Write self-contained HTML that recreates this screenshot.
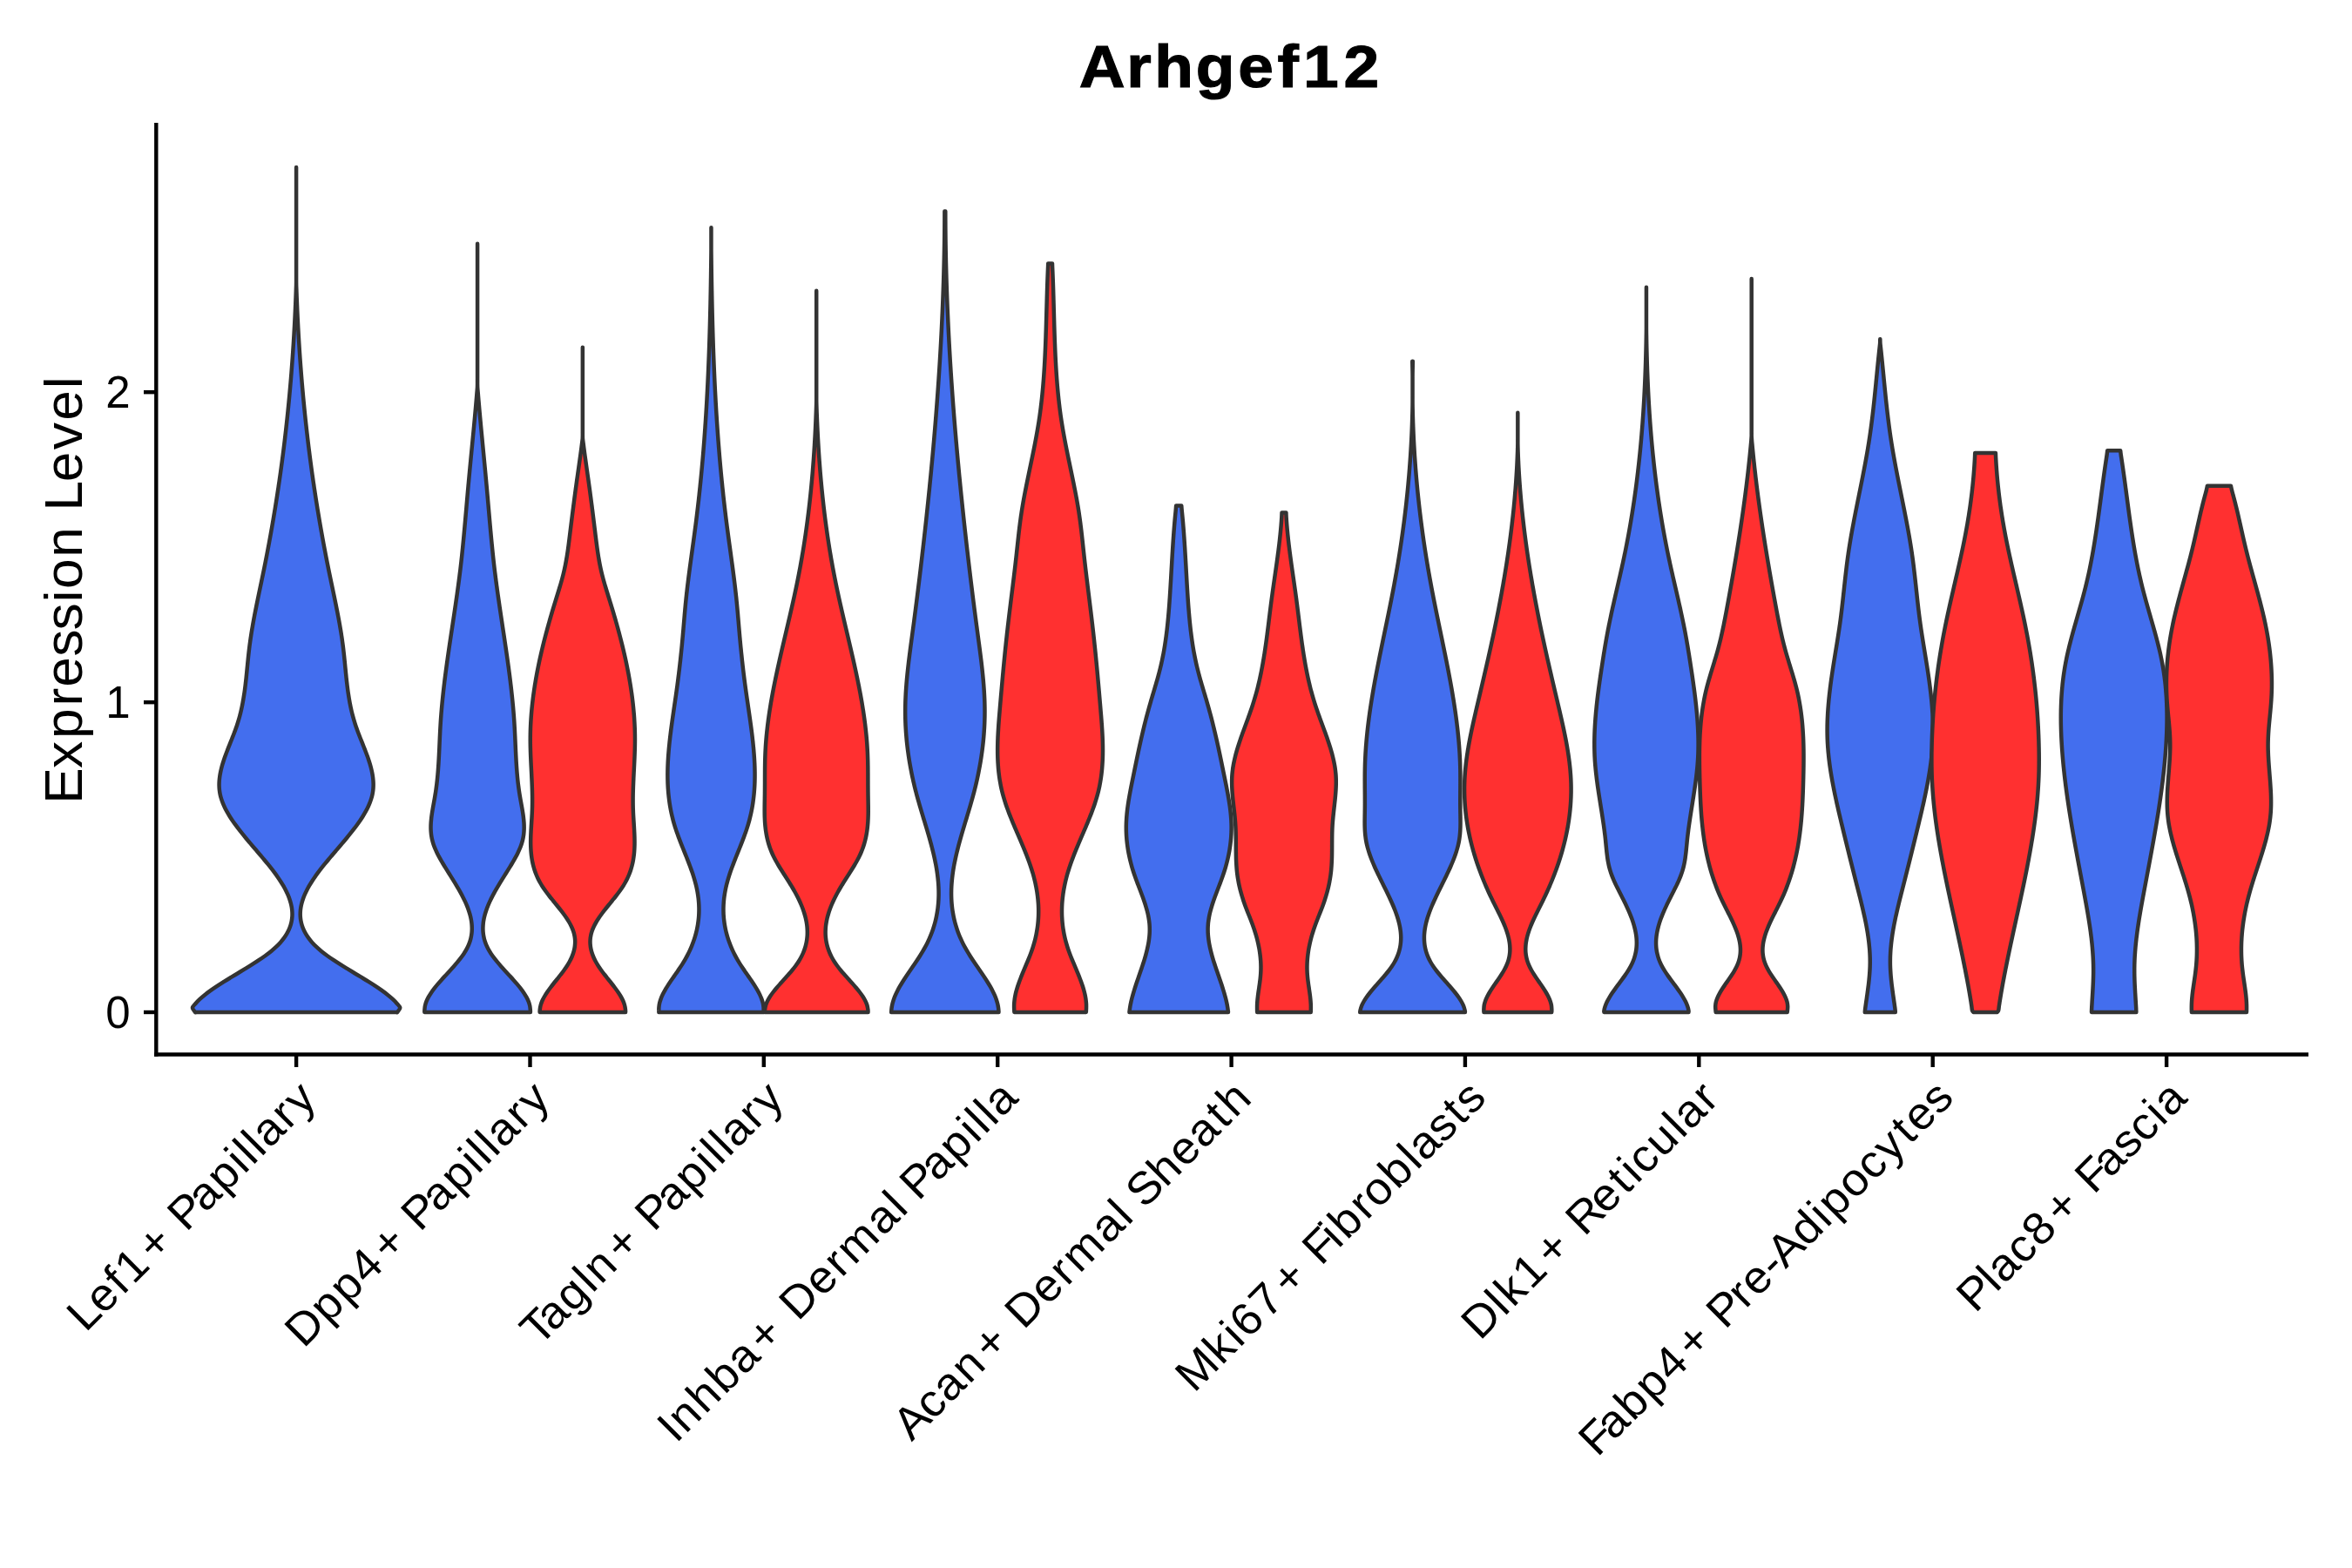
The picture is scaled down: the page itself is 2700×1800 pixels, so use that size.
<!DOCTYPE html><html><head><meta charset="utf-8"><style>html,body{margin:0;padding:0;background:#fff;}svg{display:block;}</style></head><body>
<svg xmlns="http://www.w3.org/2000/svg" width="2700" height="1800" viewBox="0 0 2700 1800">
<rect width="2700" height="1800" fill="#ffffff"/>
<g stroke="#333333" stroke-width="4.5" stroke-linejoin="round">
<path fill="#436EEE" d="M340.10 191.95 C340.10 192.78 340.10 195.28 340.10 196.95 C340.10 198.62 340.10 200.28 340.10 201.95 C340.10 203.62 340.10 205.28 340.10 206.95 C340.10 208.62 340.10 210.28 340.10 211.95 C340.10 213.62 340.10 215.28 340.10 216.95 C340.10 218.62 340.10 220.28 340.10 221.95 C340.10 223.62 340.10 225.28 340.10 226.95 C340.10 228.62 340.10 230.28 340.10 231.95 C340.10 233.62 340.10 235.28 340.10 236.95 C340.10 238.62 340.10 240.28 340.10 241.95 C340.10 243.62 340.10 245.28 340.10 246.95 C340.10 248.62 340.10 250.28 340.10 251.95 C340.10 253.62 340.10 255.28 340.10 256.95 C340.10 258.62 340.10 260.28 340.10 261.95 C340.10 263.62 340.10 265.28 340.10 266.95 C340.10 268.62 340.10 270.28 340.10 271.95 C340.10 273.62 340.10 275.28 340.10 276.95 C340.10 278.62 340.10 280.28 340.10 281.95 C340.10 283.62 340.10 285.28 340.10 286.95 C340.10 288.62 340.10 290.28 340.10 291.95 C340.10 293.62 340.10 295.28 340.10 296.95 C340.10 298.62 340.10 300.28 340.10 301.95 C340.10 303.62 340.10 305.28 340.10 306.95 C340.10 308.62 340.10 310.28 340.10 311.95 C340.10 313.62 340.10 315.28 340.10 316.95 C340.10 318.62 340.11 320.28 340.10 321.95 C340.09 323.62 340.08 325.28 340.05 326.95 C340.01 328.62 339.94 330.28 339.88 331.95 C339.83 333.62 339.77 335.28 339.71 336.95 C339.65 338.62 339.59 340.28 339.53 341.95 C339.46 343.62 339.40 345.28 339.33 346.95 C339.26 348.62 339.20 350.28 339.12 351.95 C339.05 353.62 338.98 355.28 338.91 356.95 C338.83 358.62 338.75 360.28 338.67 361.95 C338.60 363.62 338.52 365.28 338.43 366.95 C338.35 368.62 338.26 370.28 338.18 371.95 C338.09 373.62 338.00 375.28 337.91 376.95 C337.82 378.62 337.73 380.28 337.63 381.95 C337.54 383.62 337.44 385.28 337.34 386.95 C337.24 388.62 337.14 390.28 337.04 391.95 C336.94 393.62 336.83 395.28 336.73 396.95 C336.62 398.62 336.51 400.28 336.40 401.95 C336.29 403.62 336.18 405.28 336.06 406.95 C335.95 408.62 335.83 410.28 335.71 411.95 C335.59 413.62 335.47 415.28 335.35 416.95 C335.22 418.62 335.10 420.28 334.97 421.95 C334.84 423.62 334.71 425.28 334.58 426.95 C334.45 428.62 334.32 430.28 334.18 431.95 C334.05 433.62 333.91 435.28 333.77 436.95 C333.63 438.62 333.49 440.28 333.34 441.95 C333.20 443.62 333.05 445.28 332.90 446.95 C332.76 448.62 332.61 450.28 332.45 451.95 C332.30 453.62 332.15 455.28 331.99 456.95 C331.83 458.62 331.67 460.28 331.51 461.95 C331.35 463.62 331.19 465.28 331.02 466.95 C330.86 468.62 330.69 470.28 330.52 471.95 C330.35 473.62 330.18 475.28 330.01 476.95 C329.83 478.62 329.66 480.28 329.48 481.95 C329.30 483.62 329.12 485.28 328.93 486.95 C328.75 488.62 328.57 490.28 328.38 491.95 C328.19 493.62 328.00 495.28 327.81 496.95 C327.62 498.62 327.43 500.28 327.23 501.95 C327.03 503.62 326.84 505.28 326.64 506.95 C326.44 508.62 326.23 510.28 326.03 511.95 C325.82 513.62 325.62 515.28 325.41 516.95 C325.20 518.62 324.99 520.28 324.77 521.95 C324.56 523.62 324.34 525.28 324.12 526.95 C323.90 528.62 323.68 530.28 323.46 531.95 C323.24 533.62 323.01 535.28 322.78 536.95 C322.56 538.62 322.33 540.28 322.10 541.95 C321.86 543.62 321.63 545.28 321.39 546.95 C321.15 548.62 320.92 550.28 320.67 551.95 C320.43 553.62 320.19 555.28 319.94 556.95 C319.70 558.62 319.45 560.28 319.20 561.95 C318.95 563.62 318.69 565.28 318.44 566.95 C318.18 568.62 317.93 570.28 317.67 571.95 C317.41 573.62 317.14 575.28 316.88 576.95 C316.61 578.62 316.35 580.28 316.08 581.95 C315.81 583.62 315.54 585.28 315.26 586.95 C314.99 588.62 314.71 590.28 314.43 591.95 C314.15 593.62 313.87 595.28 313.59 596.95 C313.31 598.62 313.02 600.28 312.73 601.95 C312.44 603.62 312.15 605.28 311.86 606.95 C311.56 608.62 311.27 610.28 310.97 611.95 C310.67 613.62 310.37 615.28 310.07 616.95 C309.77 618.62 309.46 620.28 309.15 621.95 C308.85 623.62 308.53 625.28 308.22 626.95 C307.91 628.62 307.59 630.28 307.28 631.95 C306.96 633.62 306.64 635.28 306.32 636.95 C305.99 638.62 305.67 640.28 305.34 641.95 C305.01 643.62 304.68 645.28 304.35 646.95 C304.02 648.62 303.68 650.28 303.35 651.95 C303.01 653.62 302.67 655.28 302.33 656.95 C301.98 658.62 301.64 660.28 301.29 661.95 C300.95 663.62 300.60 665.28 300.25 666.95 C299.90 668.62 299.55 670.28 299.20 671.95 C298.85 673.62 298.50 675.28 298.15 676.95 C297.81 678.62 297.46 680.28 297.11 681.95 C296.76 683.62 296.42 685.28 296.07 686.95 C295.73 688.62 295.39 690.28 295.05 691.95 C294.71 693.62 294.37 695.28 294.04 696.95 C293.71 698.62 293.38 700.28 293.05 701.95 C292.73 703.62 292.41 705.28 292.09 706.95 C291.77 708.62 291.46 710.28 291.16 711.95 C290.85 713.62 290.55 715.28 290.26 716.95 C289.96 718.62 289.68 720.28 289.40 721.95 C289.12 723.62 288.84 725.28 288.58 726.95 C288.31 728.62 288.06 730.28 287.81 731.95 C287.56 733.62 287.32 735.28 287.09 736.95 C286.86 738.62 286.64 740.28 286.42 741.95 C286.21 743.62 286.01 745.28 285.82 746.95 C285.62 748.62 285.44 750.28 285.26 751.95 C285.08 753.62 284.91 755.28 284.74 756.95 C284.57 758.62 284.40 760.28 284.24 761.95 C284.08 763.62 283.91 765.28 283.75 766.95 C283.59 768.62 283.43 770.28 283.26 771.95 C283.09 773.62 282.93 775.28 282.75 776.95 C282.58 778.62 282.40 780.28 282.21 781.95 C282.02 783.62 281.83 785.28 281.63 786.95 C281.42 788.62 281.21 790.28 280.99 791.95 C280.76 793.62 280.53 795.28 280.27 796.95 C280.02 798.62 279.76 800.28 279.48 801.95 C279.20 803.62 278.90 805.28 278.59 806.95 C278.27 808.62 277.94 810.28 277.59 811.95 C277.23 813.62 276.86 815.28 276.46 816.95 C276.06 818.62 275.64 820.28 275.20 821.95 C274.75 823.62 274.28 825.28 273.78 826.95 C273.29 828.62 272.77 830.28 272.22 831.95 C271.67 833.62 271.08 835.28 270.49 836.95 C269.89 838.62 269.27 840.28 268.63 841.95 C268.00 843.62 267.35 845.28 266.69 846.95 C266.04 848.62 265.37 850.28 264.71 851.95 C264.04 853.62 263.37 855.28 262.71 856.95 C262.06 858.62 261.40 860.28 260.76 861.95 C260.12 863.62 259.49 865.28 258.88 866.95 C258.28 868.62 257.68 870.28 257.12 871.95 C256.57 873.62 256.03 875.28 255.54 876.95 C255.04 878.62 254.57 880.28 254.15 881.95 C253.73 883.62 253.35 885.28 253.02 886.95 C252.69 888.62 252.40 890.28 252.18 891.95 C251.96 893.62 251.79 895.28 251.69 896.95 C251.59 898.62 251.54 900.28 251.58 901.95 C251.61 903.62 251.72 905.28 251.91 906.95 C252.10 908.62 252.35 910.28 252.70 911.95 C253.05 913.62 253.50 915.28 254.01 916.95 C254.53 918.62 255.12 920.28 255.78 921.95 C256.45 923.62 257.20 925.28 258.01 926.95 C258.81 928.62 259.68 930.28 260.61 931.95 C261.54 933.62 262.54 935.28 263.58 936.95 C264.61 938.62 265.70 940.28 266.84 941.95 C267.97 943.62 269.16 945.28 270.38 946.95 C271.59 948.62 272.85 950.28 274.13 951.95 C275.41 953.62 276.74 955.28 278.08 956.95 C279.41 958.62 280.78 960.28 282.16 961.95 C283.54 963.62 284.94 965.28 286.35 966.95 C287.76 968.62 289.18 970.28 290.60 971.95 C292.03 973.62 293.46 975.28 294.88 976.95 C296.31 978.62 297.73 980.28 299.15 981.95 C300.56 983.62 301.97 985.28 303.35 986.95 C304.74 988.62 306.12 990.28 307.47 991.95 C308.82 993.62 310.15 995.28 311.45 996.95 C312.75 998.62 314.03 1000.28 315.26 1001.95 C316.50 1003.62 317.70 1005.28 318.86 1006.95 C320.02 1008.62 321.14 1010.28 322.21 1011.95 C323.28 1013.62 324.30 1015.28 325.27 1016.95 C326.23 1018.62 327.15 1020.28 328.00 1021.95 C328.85 1023.62 329.64 1025.28 330.36 1026.95 C331.08 1028.62 331.75 1030.28 332.33 1031.95 C332.91 1033.62 333.41 1035.28 333.84 1036.95 C334.27 1038.62 334.63 1040.28 334.90 1041.95 C335.16 1043.62 335.33 1045.28 335.42 1046.95 C335.51 1048.62 335.52 1050.28 335.43 1051.95 C335.33 1053.62 335.12 1055.28 334.83 1056.95 C334.53 1058.62 334.15 1060.28 333.64 1061.95 C333.13 1063.62 332.50 1065.28 331.77 1066.95 C331.04 1068.62 330.21 1070.28 329.24 1071.95 C328.26 1073.62 327.16 1075.28 325.94 1076.95 C324.71 1078.62 323.38 1080.28 321.89 1081.95 C320.40 1083.62 318.76 1085.28 316.99 1086.95 C315.22 1088.62 313.31 1090.28 311.27 1091.95 C309.22 1093.62 307.00 1095.28 304.71 1096.95 C302.42 1098.62 300.00 1100.28 297.52 1101.95 C295.03 1103.62 292.43 1105.28 289.80 1106.95 C287.17 1108.62 284.46 1110.28 281.74 1111.95 C279.02 1113.62 276.25 1115.28 273.49 1116.95 C270.74 1118.62 267.96 1120.28 265.23 1121.95 C262.50 1123.62 259.77 1125.28 257.11 1126.95 C254.45 1128.62 251.81 1130.28 249.29 1131.95 C246.77 1133.62 244.31 1135.28 241.97 1136.95 C239.63 1138.62 237.36 1140.28 235.27 1141.95 C233.18 1143.62 231.21 1145.28 229.43 1146.95 C227.64 1148.62 225.97 1150.28 224.55 1151.95 C223.14 1153.62 221.01 1155.28 220.94 1156.95 C220.87 1158.62 223.60 1161.11 224.13 1161.95 C224.66 1162.79 224.13 1161.99 224.13 1162.00 L456.07 1162.00 C456.07 1161.99 455.54 1162.79 456.07 1161.95 C456.60 1161.11 459.33 1158.62 459.26 1156.95 C459.19 1155.28 457.06 1153.62 455.65 1151.95 C454.23 1150.28 452.56 1148.62 450.77 1146.95 C448.99 1145.28 447.02 1143.62 444.93 1141.95 C442.84 1140.28 440.57 1138.62 438.23 1136.95 C435.89 1135.28 433.43 1133.62 430.91 1131.95 C428.39 1130.28 425.75 1128.62 423.09 1126.95 C420.43 1125.28 417.70 1123.62 414.97 1121.95 C412.24 1120.28 409.46 1118.62 406.71 1116.95 C403.95 1115.28 401.18 1113.62 398.46 1111.95 C395.74 1110.28 393.03 1108.62 390.40 1106.95 C387.77 1105.28 385.17 1103.62 382.68 1101.95 C380.20 1100.28 377.78 1098.62 375.49 1096.95 C373.20 1095.28 370.98 1093.62 368.93 1091.95 C366.89 1090.28 364.98 1088.62 363.21 1086.95 C361.44 1085.28 359.80 1083.62 358.31 1081.95 C356.82 1080.28 355.49 1078.62 354.26 1076.95 C353.04 1075.28 351.94 1073.62 350.96 1071.95 C349.99 1070.28 349.16 1068.62 348.43 1066.95 C347.70 1065.28 347.07 1063.62 346.56 1061.95 C346.05 1060.28 345.67 1058.62 345.37 1056.95 C345.08 1055.28 344.87 1053.62 344.77 1051.95 C344.68 1050.28 344.69 1048.62 344.78 1046.95 C344.87 1045.28 345.04 1043.62 345.30 1041.95 C345.57 1040.28 345.93 1038.62 346.36 1036.95 C346.79 1035.28 347.29 1033.62 347.87 1031.95 C348.45 1030.28 349.12 1028.62 349.84 1026.95 C350.56 1025.28 351.35 1023.62 352.20 1021.95 C353.05 1020.28 353.97 1018.62 354.93 1016.95 C355.90 1015.28 356.92 1013.62 357.99 1011.95 C359.06 1010.28 360.18 1008.62 361.34 1006.95 C362.50 1005.28 363.70 1003.62 364.94 1001.95 C366.17 1000.28 367.45 998.62 368.75 996.95 C370.05 995.28 371.38 993.62 372.73 991.95 C374.08 990.28 375.46 988.62 376.85 986.95 C378.23 985.28 379.64 983.62 381.05 981.95 C382.47 980.28 383.89 978.62 385.32 976.95 C386.74 975.28 388.17 973.62 389.60 971.95 C391.02 970.28 392.44 968.62 393.85 966.95 C395.26 965.28 396.66 963.62 398.04 961.95 C399.42 960.28 400.79 958.62 402.12 956.95 C403.46 955.28 404.79 953.62 406.07 951.95 C407.35 950.28 408.61 948.62 409.82 946.95 C411.04 945.28 412.23 943.62 413.36 941.95 C414.50 940.28 415.59 938.62 416.62 936.95 C417.66 935.28 418.66 933.62 419.59 931.95 C420.52 930.28 421.39 928.62 422.19 926.95 C423.00 925.28 423.75 923.62 424.42 921.95 C425.08 920.28 425.67 918.62 426.19 916.95 C426.70 915.28 427.15 913.62 427.50 911.95 C427.85 910.28 428.10 908.62 428.29 906.95 C428.48 905.28 428.59 903.62 428.62 901.95 C428.66 900.28 428.61 898.62 428.51 896.95 C428.41 895.28 428.24 893.62 428.02 891.95 C427.80 890.28 427.51 888.62 427.18 886.95 C426.85 885.28 426.47 883.62 426.05 881.95 C425.63 880.28 425.16 878.62 424.66 876.95 C424.17 875.28 423.63 873.62 423.08 871.95 C422.52 870.28 421.92 868.62 421.32 866.95 C420.71 865.28 420.08 863.62 419.44 861.95 C418.80 860.28 418.14 858.62 417.49 856.95 C416.83 855.28 416.16 853.62 415.49 851.95 C414.83 850.28 414.16 848.62 413.51 846.95 C412.85 845.28 412.20 843.62 411.57 841.95 C410.93 840.28 410.31 838.62 409.71 836.95 C409.12 835.28 408.53 833.62 407.98 831.95 C407.43 830.28 406.91 828.62 406.42 826.95 C405.92 825.28 405.45 823.62 405.00 821.95 C404.56 820.28 404.14 818.62 403.74 816.95 C403.34 815.28 402.97 813.62 402.61 811.95 C402.26 810.28 401.93 808.62 401.61 806.95 C401.30 805.28 401.00 803.62 400.72 801.95 C400.44 800.28 400.18 798.62 399.93 796.95 C399.67 795.28 399.44 793.62 399.21 791.95 C398.99 790.28 398.78 788.62 398.57 786.95 C398.37 785.28 398.18 783.62 397.99 781.95 C397.80 780.28 397.62 778.62 397.45 776.95 C397.27 775.28 397.11 773.62 396.94 771.95 C396.77 770.28 396.61 768.62 396.45 766.95 C396.29 765.28 396.12 763.62 395.96 761.95 C395.80 760.28 395.63 758.62 395.46 756.95 C395.29 755.28 395.12 753.62 394.94 751.95 C394.76 750.28 394.58 748.62 394.38 746.95 C394.19 745.28 393.99 743.62 393.78 741.95 C393.56 740.28 393.34 738.62 393.11 736.95 C392.88 735.28 392.64 733.62 392.39 731.95 C392.14 730.28 391.89 728.62 391.62 726.95 C391.36 725.28 391.08 723.62 390.80 721.95 C390.52 720.28 390.24 718.62 389.94 716.95 C389.65 715.28 389.35 713.62 389.04 711.95 C388.74 710.28 388.43 708.62 388.11 706.95 C387.79 705.28 387.47 703.62 387.15 701.95 C386.82 700.28 386.49 698.62 386.16 696.95 C385.83 695.28 385.49 693.62 385.15 691.95 C384.81 690.28 384.47 688.62 384.13 686.95 C383.78 685.28 383.44 683.62 383.09 681.95 C382.74 680.28 382.39 678.62 382.05 676.95 C381.70 675.28 381.35 673.62 381.00 671.95 C380.65 670.28 380.30 668.62 379.95 666.95 C379.60 665.28 379.25 663.62 378.91 661.95 C378.56 660.28 378.22 658.62 377.87 656.95 C377.53 655.28 377.19 653.62 376.85 651.95 C376.52 650.28 376.18 648.62 375.85 646.95 C375.52 645.28 375.19 643.62 374.86 641.95 C374.53 640.28 374.21 638.62 373.88 636.95 C373.56 635.28 373.24 633.62 372.92 631.95 C372.61 630.28 372.29 628.62 371.98 626.95 C371.67 625.28 371.35 623.62 371.05 621.95 C370.74 620.28 370.43 618.62 370.13 616.95 C369.83 615.28 369.53 613.62 369.23 611.95 C368.93 610.28 368.64 608.62 368.34 606.95 C368.05 605.28 367.76 603.62 367.47 601.95 C367.18 600.28 366.89 598.62 366.61 596.95 C366.33 595.28 366.05 593.62 365.77 591.95 C365.49 590.28 365.21 588.62 364.94 586.95 C364.66 585.28 364.39 583.62 364.12 581.95 C363.85 580.28 363.59 578.62 363.32 576.95 C363.06 575.28 362.79 573.62 362.53 571.95 C362.27 570.28 362.02 568.62 361.76 566.95 C361.51 565.28 361.25 563.62 361.00 561.95 C360.75 560.28 360.50 558.62 360.26 556.95 C360.01 555.28 359.77 553.62 359.53 551.95 C359.28 550.28 359.05 548.62 358.81 546.95 C358.57 545.28 358.34 543.62 358.10 541.95 C357.87 540.28 357.64 538.62 357.42 536.95 C357.19 535.28 356.96 533.62 356.74 531.95 C356.52 530.28 356.30 528.62 356.08 526.95 C355.86 525.28 355.64 523.62 355.43 521.95 C355.21 520.28 355.00 518.62 354.79 516.95 C354.58 515.28 354.38 513.62 354.17 511.95 C353.97 510.28 353.76 508.62 353.56 506.95 C353.36 505.28 353.17 503.62 352.97 501.95 C352.77 500.28 352.58 498.62 352.39 496.95 C352.20 495.28 352.01 493.62 351.82 491.95 C351.63 490.28 351.45 488.62 351.27 486.95 C351.08 485.28 350.90 483.62 350.72 481.95 C350.54 480.28 350.37 478.62 350.19 476.95 C350.02 475.28 349.85 473.62 349.68 471.95 C349.51 470.28 349.34 468.62 349.18 466.95 C349.01 465.28 348.85 463.62 348.69 461.95 C348.53 460.28 348.37 458.62 348.21 456.95 C348.05 455.28 347.90 453.62 347.75 451.95 C347.59 450.28 347.44 448.62 347.30 446.95 C347.15 445.28 347.00 443.62 346.86 441.95 C346.71 440.28 346.57 438.62 346.43 436.95 C346.29 435.28 346.15 433.62 346.02 431.95 C345.88 430.28 345.75 428.62 345.62 426.95 C345.49 425.28 345.36 423.62 345.23 421.95 C345.10 420.28 344.98 418.62 344.85 416.95 C344.73 415.28 344.61 413.62 344.49 411.95 C344.37 410.28 344.25 408.62 344.14 406.95 C344.02 405.28 343.91 403.62 343.80 401.95 C343.69 400.28 343.58 398.62 343.47 396.95 C343.37 395.28 343.26 393.62 343.16 391.95 C343.06 390.28 342.96 388.62 342.86 386.95 C342.76 385.28 342.66 383.62 342.57 381.95 C342.47 380.28 342.38 378.62 342.29 376.95 C342.20 375.28 342.11 373.62 342.02 371.95 C341.94 370.28 341.85 368.62 341.77 366.95 C341.68 365.28 341.60 363.62 341.53 361.95 C341.45 360.28 341.37 358.62 341.29 356.95 C341.22 355.28 341.15 353.62 341.08 351.95 C341.00 350.28 340.94 348.62 340.87 346.95 C340.80 345.28 340.74 343.62 340.67 341.95 C340.61 340.28 340.55 338.62 340.49 336.95 C340.43 335.28 340.37 333.62 340.32 331.95 C340.26 330.28 340.19 328.62 340.15 326.95 C340.12 325.28 340.11 323.62 340.10 321.95 C340.09 320.28 340.10 318.62 340.10 316.95 C340.10 315.28 340.10 313.62 340.10 311.95 C340.10 310.28 340.10 308.62 340.10 306.95 C340.10 305.28 340.10 303.62 340.10 301.95 C340.10 300.28 340.10 298.62 340.10 296.95 C340.10 295.28 340.10 293.62 340.10 291.95 C340.10 290.28 340.10 288.62 340.10 286.95 C340.10 285.28 340.10 283.62 340.10 281.95 C340.10 280.28 340.10 278.62 340.10 276.95 C340.10 275.28 340.10 273.62 340.10 271.95 C340.10 270.28 340.10 268.62 340.10 266.95 C340.10 265.28 340.10 263.62 340.10 261.95 C340.10 260.28 340.10 258.62 340.10 256.95 C340.10 255.28 340.10 253.62 340.10 251.95 C340.10 250.28 340.10 248.62 340.10 246.95 C340.10 245.28 340.10 243.62 340.10 241.95 C340.10 240.28 340.10 238.62 340.10 236.95 C340.10 235.28 340.10 233.62 340.10 231.95 C340.10 230.28 340.10 228.62 340.10 226.95 C340.10 225.28 340.10 223.62 340.10 221.95 C340.10 220.28 340.10 218.62 340.10 216.95 C340.10 215.28 340.10 213.62 340.10 211.95 C340.10 210.28 340.10 208.62 340.10 206.95 C340.10 205.28 340.10 203.62 340.10 201.95 C340.10 200.28 340.10 198.62 340.10 196.95 C340.10 195.28 340.10 192.78 340.10 191.95Z"/>
<path fill="#436EEE" d="M548.09 279.65 C548.09 280.48 548.09 282.98 548.09 284.65 C548.09 286.32 548.09 287.98 548.09 289.65 C548.09 291.32 548.09 292.98 548.09 294.65 C548.09 296.32 548.09 297.98 548.09 299.65 C548.09 301.32 548.09 302.98 548.09 304.65 C548.09 306.32 548.09 307.98 548.09 309.65 C548.09 311.32 548.09 312.98 548.09 314.65 C548.09 316.32 548.09 317.98 548.09 319.65 C548.09 321.32 548.09 322.98 548.09 324.65 C548.09 326.32 548.09 327.98 548.09 329.65 C548.09 331.32 548.09 332.98 548.09 334.65 C548.09 336.32 548.09 337.98 548.09 339.65 C548.09 341.32 548.09 342.98 548.09 344.65 C548.09 346.32 548.09 347.98 548.09 349.65 C548.09 351.32 548.09 352.98 548.09 354.65 C548.09 356.32 548.09 357.98 548.09 359.65 C548.09 361.32 548.09 362.98 548.09 364.65 C548.09 366.32 548.09 367.98 548.09 369.65 C548.09 371.32 548.09 372.98 548.09 374.65 C548.09 376.32 548.09 377.98 548.09 379.65 C548.09 381.32 548.09 382.98 548.09 384.65 C548.09 386.32 548.09 387.98 548.09 389.65 C548.09 391.32 548.09 392.98 548.09 394.65 C548.09 396.32 548.09 397.98 548.09 399.65 C548.09 401.32 548.09 402.98 548.09 404.65 C548.09 406.32 548.09 407.98 548.09 409.65 C548.09 411.32 548.09 412.98 548.09 414.65 C548.09 416.32 548.09 417.98 548.09 419.65 C548.09 421.32 548.09 422.98 548.09 424.65 C548.09 426.32 548.09 427.98 548.09 429.65 C548.09 431.32 548.09 432.98 548.09 434.65 C548.09 436.32 548.11 437.98 548.09 439.65 C548.07 441.32 548.07 442.98 547.99 444.65 C547.90 446.32 547.72 447.98 547.59 449.65 C547.46 451.32 547.32 452.98 547.18 454.65 C547.04 456.32 546.90 457.98 546.76 459.65 C546.62 461.32 546.48 462.98 546.33 464.65 C546.19 466.32 546.04 467.98 545.89 469.65 C545.74 471.32 545.59 472.98 545.44 474.65 C545.29 476.32 545.14 477.98 544.99 479.65 C544.83 481.32 544.68 482.98 544.52 484.65 C544.37 486.32 544.21 487.98 544.06 489.65 C543.90 491.32 543.74 492.98 543.58 494.65 C543.42 496.32 543.26 497.98 543.10 499.65 C542.94 501.32 542.78 502.98 542.62 504.65 C542.46 506.32 542.30 507.98 542.14 509.65 C541.98 511.32 541.82 512.98 541.66 514.65 C541.50 516.32 541.33 517.98 541.17 519.65 C541.01 521.32 540.85 522.98 540.69 524.65 C540.53 526.32 540.37 527.98 540.21 529.65 C540.05 531.32 539.89 532.98 539.73 534.65 C539.57 536.32 539.41 537.98 539.25 539.65 C539.09 541.32 538.94 542.98 538.78 544.65 C538.63 546.32 538.47 547.98 538.32 549.65 C538.16 551.32 538.01 552.98 537.86 554.65 C537.70 556.32 537.55 557.98 537.40 559.65 C537.25 561.32 537.10 562.98 536.96 564.65 C536.81 566.32 536.66 567.98 536.52 569.65 C536.37 571.32 536.22 572.98 536.08 574.65 C535.93 576.32 535.79 577.98 535.64 579.65 C535.50 581.32 535.35 582.98 535.21 584.65 C535.06 586.32 534.92 587.98 534.77 589.65 C534.63 591.32 534.48 592.98 534.33 594.65 C534.19 596.32 534.04 597.98 533.89 599.65 C533.74 601.32 533.59 602.98 533.44 604.65 C533.29 606.32 533.14 607.98 532.99 609.65 C532.84 611.32 532.68 612.98 532.52 614.65 C532.37 616.32 532.21 617.98 532.05 619.65 C531.89 621.32 531.73 622.98 531.56 624.65 C531.40 626.32 531.23 627.98 531.06 629.65 C530.89 631.32 530.72 632.98 530.55 634.65 C530.37 636.32 530.20 637.98 530.02 639.65 C529.84 641.32 529.65 642.98 529.47 644.65 C529.28 646.32 529.09 647.98 528.90 649.65 C528.70 651.32 528.51 652.98 528.31 654.65 C528.11 656.32 527.90 657.98 527.69 659.65 C527.49 661.32 527.27 662.98 527.06 664.65 C526.84 666.32 526.63 667.98 526.40 669.65 C526.18 671.32 525.96 672.98 525.73 674.65 C525.50 676.32 525.28 677.98 525.04 679.65 C524.81 681.32 524.58 682.98 524.34 684.65 C524.10 686.32 523.86 687.98 523.62 689.65 C523.38 691.32 523.14 692.98 522.90 694.65 C522.65 696.32 522.41 697.98 522.16 699.65 C521.92 701.32 521.67 702.98 521.42 704.65 C521.17 706.32 520.92 707.98 520.67 709.65 C520.42 711.32 520.17 712.98 519.92 714.65 C519.67 716.32 519.42 717.98 519.17 719.65 C518.91 721.32 518.66 722.98 518.41 724.65 C518.16 726.32 517.91 727.98 517.66 729.65 C517.41 731.32 517.16 732.98 516.91 734.65 C516.66 736.32 516.42 737.98 516.17 739.65 C515.92 741.32 515.68 742.98 515.43 744.65 C515.19 746.32 514.95 747.98 514.71 749.65 C514.47 751.32 514.23 752.98 513.99 754.65 C513.75 756.32 513.52 757.98 513.29 759.65 C513.06 761.32 512.83 762.98 512.60 764.65 C512.37 766.32 512.15 767.98 511.93 769.65 C511.70 771.32 511.49 772.98 511.27 774.65 C511.06 776.32 510.84 777.98 510.64 779.65 C510.43 781.32 510.22 782.98 510.02 784.65 C509.82 786.32 509.62 787.98 509.43 789.65 C509.24 791.32 509.05 792.98 508.87 794.65 C508.68 796.32 508.50 797.98 508.33 799.65 C508.16 801.32 507.99 802.98 507.82 804.65 C507.66 806.32 507.50 807.98 507.34 809.65 C507.19 811.32 507.04 812.98 506.90 814.65 C506.76 816.32 506.62 817.98 506.49 819.65 C506.36 821.32 506.23 822.98 506.11 824.65 C506.00 826.32 505.88 827.98 505.78 829.65 C505.67 831.32 505.57 832.98 505.48 834.65 C505.38 836.32 505.30 837.98 505.21 839.65 C505.13 841.32 505.05 842.98 504.97 844.65 C504.89 846.32 504.82 847.98 504.74 849.65 C504.67 851.32 504.59 852.98 504.52 854.65 C504.45 856.32 504.37 857.98 504.30 859.65 C504.22 861.32 504.15 862.98 504.06 864.65 C503.98 866.32 503.90 867.98 503.81 869.65 C503.72 871.32 503.63 872.98 503.53 874.65 C503.43 876.32 503.33 877.98 503.21 879.65 C503.10 881.32 502.98 882.98 502.85 884.65 C502.72 886.32 502.58 887.98 502.43 889.65 C502.28 891.32 502.12 892.98 501.95 894.65 C501.78 896.32 501.60 897.98 501.40 899.65 C501.20 901.32 500.99 902.98 500.77 904.65 C500.54 906.32 500.30 907.98 500.05 909.65 C499.79 911.32 499.52 912.98 499.23 914.65 C498.95 916.32 498.65 917.98 498.35 919.65 C498.05 921.32 497.74 922.98 497.44 924.65 C497.14 926.32 496.84 927.98 496.56 929.65 C496.28 931.32 496.01 932.98 495.77 934.65 C495.53 936.32 495.30 937.98 495.12 939.65 C494.95 941.32 494.80 942.98 494.69 944.65 C494.59 946.32 494.52 947.98 494.52 949.65 C494.52 951.32 494.58 952.98 494.70 954.65 C494.82 956.32 494.98 957.98 495.25 959.65 C495.51 961.32 495.85 962.98 496.27 964.65 C496.68 966.32 497.18 967.98 497.75 969.65 C498.32 971.32 498.98 972.98 499.69 974.65 C500.40 976.32 501.17 977.98 501.99 979.65 C502.81 981.32 503.70 982.98 504.60 984.65 C505.51 986.32 506.47 987.98 507.44 989.65 C508.41 991.32 509.43 992.98 510.44 994.65 C511.46 996.32 512.50 997.98 513.54 999.65 C514.57 1001.32 515.63 1002.98 516.67 1004.65 C517.71 1006.32 518.76 1007.98 519.79 1009.65 C520.82 1011.32 521.85 1012.98 522.86 1014.65 C523.86 1016.32 524.86 1017.98 525.83 1019.65 C526.80 1021.32 527.75 1022.98 528.67 1024.65 C529.58 1026.32 530.48 1027.98 531.33 1029.65 C532.19 1031.32 533.00 1032.98 533.78 1034.65 C534.55 1036.32 535.29 1037.98 535.97 1039.65 C536.66 1041.32 537.29 1042.98 537.87 1044.65 C538.44 1046.32 538.98 1047.98 539.44 1049.65 C539.90 1051.32 540.30 1052.98 540.63 1054.65 C540.96 1056.32 541.24 1057.98 541.43 1059.65 C541.62 1061.32 541.73 1062.98 541.76 1064.65 C541.80 1066.32 541.77 1067.98 541.64 1069.65 C541.51 1071.32 541.29 1072.98 540.98 1074.65 C540.68 1076.32 540.29 1077.98 539.80 1079.65 C539.30 1081.32 538.70 1082.98 538.00 1084.65 C537.30 1086.32 536.50 1087.98 535.60 1089.65 C534.69 1091.32 533.65 1092.98 532.55 1094.65 C531.45 1096.32 530.25 1097.98 528.99 1099.65 C527.72 1101.32 526.36 1102.98 524.97 1104.65 C523.58 1106.32 522.13 1107.98 520.66 1109.65 C519.18 1111.32 517.65 1112.98 516.13 1114.65 C514.61 1116.32 513.06 1117.98 511.54 1119.65 C510.02 1121.32 508.48 1122.98 507.00 1124.65 C505.51 1126.32 504.03 1127.98 502.62 1129.65 C501.21 1131.32 499.84 1132.98 498.55 1134.65 C497.27 1136.32 496.02 1137.98 494.90 1139.65 C493.78 1141.32 492.75 1142.98 491.84 1144.65 C490.93 1146.32 490.10 1147.98 489.45 1149.65 C488.80 1151.32 488.29 1152.98 487.94 1154.65 C487.60 1156.32 487.45 1158.43 487.35 1159.65 C487.25 1160.88 487.33 1161.61 487.32 1162.00 L608.86 1162.00 C608.85 1161.61 608.93 1160.88 608.83 1159.65 C608.73 1158.43 608.58 1156.32 608.24 1154.65 C607.89 1152.98 607.38 1151.32 606.73 1149.65 C606.08 1147.98 605.25 1146.32 604.34 1144.65 C603.43 1142.98 602.40 1141.32 601.28 1139.65 C600.16 1137.98 598.91 1136.32 597.63 1134.65 C596.34 1132.98 594.97 1131.32 593.56 1129.65 C592.15 1127.98 590.67 1126.32 589.18 1124.65 C587.70 1122.98 586.16 1121.32 584.64 1119.65 C583.12 1117.98 581.57 1116.32 580.05 1114.65 C578.53 1112.98 577.00 1111.32 575.52 1109.65 C574.05 1107.98 572.60 1106.32 571.21 1104.65 C569.82 1102.98 568.46 1101.32 567.19 1099.65 C565.93 1097.98 564.73 1096.32 563.63 1094.65 C562.53 1092.98 561.49 1091.32 560.58 1089.65 C559.68 1087.98 558.88 1086.32 558.18 1084.65 C557.48 1082.98 556.88 1081.32 556.38 1079.65 C555.89 1077.98 555.50 1076.32 555.20 1074.65 C554.89 1072.98 554.67 1071.32 554.54 1069.65 C554.41 1067.98 554.38 1066.32 554.42 1064.65 C554.45 1062.98 554.56 1061.32 554.75 1059.65 C554.94 1057.98 555.22 1056.32 555.55 1054.65 C555.88 1052.98 556.28 1051.32 556.74 1049.65 C557.20 1047.98 557.74 1046.32 558.31 1044.65 C558.89 1042.98 559.52 1041.32 560.21 1039.65 C560.89 1037.98 561.63 1036.32 562.40 1034.65 C563.18 1032.98 563.99 1031.32 564.85 1029.65 C565.70 1027.98 566.60 1026.32 567.51 1024.65 C568.43 1022.98 569.38 1021.32 570.35 1019.65 C571.32 1017.98 572.32 1016.32 573.32 1014.65 C574.33 1012.98 575.36 1011.32 576.39 1009.65 C577.42 1007.98 578.47 1006.32 579.51 1004.65 C580.55 1002.98 581.61 1001.32 582.64 999.65 C583.68 997.98 584.72 996.32 585.74 994.65 C586.75 992.98 587.77 991.32 588.74 989.65 C589.71 987.98 590.67 986.32 591.58 984.65 C592.48 982.98 593.37 981.32 594.19 979.65 C595.01 977.98 595.78 976.32 596.49 974.65 C597.20 972.98 597.86 971.32 598.43 969.65 C599.00 967.98 599.50 966.32 599.91 964.65 C600.33 962.98 600.67 961.32 600.93 959.65 C601.20 957.98 601.36 956.32 601.48 954.65 C601.60 952.98 601.66 951.32 601.66 949.65 C601.66 947.98 601.59 946.32 601.49 944.65 C601.38 942.98 601.23 941.32 601.06 939.65 C600.88 937.98 600.65 936.32 600.41 934.65 C600.17 932.98 599.90 931.32 599.62 929.65 C599.34 927.98 599.04 926.32 598.74 924.65 C598.44 922.98 598.13 921.32 597.83 919.65 C597.53 917.98 597.23 916.32 596.95 914.65 C596.66 912.98 596.39 911.32 596.13 909.65 C595.88 907.98 595.64 906.32 595.41 904.65 C595.19 902.98 594.98 901.32 594.78 899.65 C594.58 897.98 594.40 896.32 594.23 894.65 C594.06 892.98 593.90 891.32 593.75 889.65 C593.60 887.98 593.46 886.32 593.33 884.65 C593.20 882.98 593.08 881.32 592.97 879.65 C592.85 877.98 592.75 876.32 592.65 874.65 C592.55 872.98 592.46 871.32 592.37 869.65 C592.28 867.98 592.20 866.32 592.12 864.65 C592.03 862.98 591.96 861.32 591.88 859.65 C591.81 857.98 591.73 856.32 591.66 854.65 C591.59 852.98 591.51 851.32 591.44 849.65 C591.36 847.98 591.29 846.32 591.21 844.65 C591.13 842.98 591.05 841.32 590.97 839.65 C590.88 837.98 590.80 836.32 590.70 834.65 C590.61 832.98 590.51 831.32 590.40 829.65 C590.30 827.98 590.18 826.32 590.07 824.65 C589.95 822.98 589.82 821.32 589.69 819.65 C589.56 817.98 589.42 816.32 589.28 814.65 C589.14 812.98 588.99 811.32 588.84 809.65 C588.68 807.98 588.52 806.32 588.36 804.65 C588.19 802.98 588.02 801.32 587.85 799.65 C587.68 797.98 587.50 796.32 587.31 794.65 C587.13 792.98 586.94 791.32 586.75 789.65 C586.56 787.98 586.36 786.32 586.16 784.65 C585.96 782.98 585.75 781.32 585.54 779.65 C585.34 777.98 585.12 776.32 584.91 774.65 C584.69 772.98 584.48 771.32 584.25 769.65 C584.03 767.98 583.81 766.32 583.58 764.65 C583.35 762.98 583.12 761.32 582.89 759.65 C582.66 757.98 582.43 756.32 582.19 754.65 C581.95 752.98 581.71 751.32 581.47 749.65 C581.23 747.98 580.99 746.32 580.75 744.65 C580.50 742.98 580.26 741.32 580.01 739.65 C579.76 737.98 579.52 736.32 579.27 734.65 C579.02 732.98 578.77 731.32 578.52 729.65 C578.27 727.98 578.02 726.32 577.77 724.65 C577.52 722.98 577.27 721.32 577.01 719.65 C576.76 717.98 576.51 716.32 576.26 714.65 C576.01 712.98 575.76 711.32 575.51 709.65 C575.26 707.98 575.01 706.32 574.76 704.65 C574.51 702.98 574.26 701.32 574.02 699.65 C573.77 697.98 573.53 696.32 573.28 694.65 C573.04 692.98 572.80 691.32 572.56 689.65 C572.32 687.98 572.08 686.32 571.84 684.65 C571.60 682.98 571.37 681.32 571.14 679.65 C570.90 677.98 570.68 676.32 570.45 674.65 C570.22 672.98 570.00 671.32 569.78 669.65 C569.55 667.98 569.34 666.32 569.12 664.65 C568.91 662.98 568.69 661.32 568.49 659.65 C568.28 657.98 568.07 656.32 567.87 654.65 C567.67 652.98 567.48 651.32 567.28 649.65 C567.09 647.98 566.90 646.32 566.71 644.65 C566.53 642.98 566.34 641.32 566.16 639.65 C565.98 637.98 565.81 636.32 565.63 634.65 C565.46 632.98 565.29 631.32 565.12 629.65 C564.95 627.98 564.78 626.32 564.62 624.65 C564.45 622.98 564.29 621.32 564.13 619.65 C563.97 617.98 563.81 616.32 563.66 614.65 C563.50 612.98 563.34 611.32 563.19 609.65 C563.04 607.98 562.89 606.32 562.74 604.65 C562.59 602.98 562.44 601.32 562.29 599.65 C562.14 597.98 561.99 596.32 561.85 594.65 C561.70 592.98 561.55 591.32 561.41 589.65 C561.26 587.98 561.12 586.32 560.97 584.65 C560.83 582.98 560.68 581.32 560.54 579.65 C560.39 577.98 560.25 576.32 560.10 574.65 C559.96 572.98 559.81 571.32 559.66 569.65 C559.52 567.98 559.37 566.32 559.22 564.65 C559.08 562.98 558.93 561.32 558.78 559.65 C558.63 557.98 558.48 556.32 558.32 554.65 C558.17 552.98 558.02 551.32 557.86 549.65 C557.71 547.98 557.55 546.32 557.40 544.65 C557.24 542.98 557.09 541.32 556.93 539.65 C556.77 537.98 556.61 536.32 556.45 534.65 C556.29 532.98 556.13 531.32 555.97 529.65 C555.81 527.98 555.65 526.32 555.49 524.65 C555.33 522.98 555.17 521.32 555.01 519.65 C554.85 517.98 554.68 516.32 554.52 514.65 C554.36 512.98 554.20 511.32 554.04 509.65 C553.88 507.98 553.72 506.32 553.56 504.65 C553.40 502.98 553.24 501.32 553.08 499.65 C552.92 497.98 552.76 496.32 552.60 494.65 C552.44 492.98 552.28 491.32 552.12 489.65 C551.97 487.98 551.81 486.32 551.66 484.65 C551.50 482.98 551.35 481.32 551.19 479.65 C551.04 477.98 550.89 476.32 550.74 474.65 C550.59 472.98 550.44 471.32 550.29 469.65 C550.14 467.98 549.99 466.32 549.85 464.65 C549.70 462.98 549.56 461.32 549.42 459.65 C549.28 457.98 549.14 456.32 549.00 454.65 C548.86 452.98 548.72 451.32 548.59 449.65 C548.46 447.98 548.28 446.32 548.19 444.65 C548.11 442.98 548.11 441.32 548.09 439.65 C548.07 437.98 548.09 436.32 548.09 434.65 C548.09 432.98 548.09 431.32 548.09 429.65 C548.09 427.98 548.09 426.32 548.09 424.65 C548.09 422.98 548.09 421.32 548.09 419.65 C548.09 417.98 548.09 416.32 548.09 414.65 C548.09 412.98 548.09 411.32 548.09 409.65 C548.09 407.98 548.09 406.32 548.09 404.65 C548.09 402.98 548.09 401.32 548.09 399.65 C548.09 397.98 548.09 396.32 548.09 394.65 C548.09 392.98 548.09 391.32 548.09 389.65 C548.09 387.98 548.09 386.32 548.09 384.65 C548.09 382.98 548.09 381.32 548.09 379.65 C548.09 377.98 548.09 376.32 548.09 374.65 C548.09 372.98 548.09 371.32 548.09 369.65 C548.09 367.98 548.09 366.32 548.09 364.65 C548.09 362.98 548.09 361.32 548.09 359.65 C548.09 357.98 548.09 356.32 548.09 354.65 C548.09 352.98 548.09 351.32 548.09 349.65 C548.09 347.98 548.09 346.32 548.09 344.65 C548.09 342.98 548.09 341.32 548.09 339.65 C548.09 337.98 548.09 336.32 548.09 334.65 C548.09 332.98 548.09 331.32 548.09 329.65 C548.09 327.98 548.09 326.32 548.09 324.65 C548.09 322.98 548.09 321.32 548.09 319.65 C548.09 317.98 548.09 316.32 548.09 314.65 C548.09 312.98 548.09 311.32 548.09 309.65 C548.09 307.98 548.09 306.32 548.09 304.65 C548.09 302.98 548.09 301.32 548.09 299.65 C548.09 297.98 548.09 296.32 548.09 294.65 C548.09 292.98 548.09 291.32 548.09 289.65 C548.09 287.98 548.09 286.32 548.09 284.65 C548.09 282.98 548.09 280.48 548.09 279.65Z"/>
<path fill="#FF3030" d="M668.85 398.75 C668.85 399.58 668.85 402.08 668.85 403.75 C668.85 405.42 668.85 407.08 668.85 408.75 C668.85 410.42 668.85 412.08 668.85 413.75 C668.85 415.42 668.85 417.08 668.85 418.75 C668.85 420.42 668.85 422.08 668.85 423.75 C668.85 425.42 668.85 427.08 668.85 428.75 C668.85 430.42 668.85 432.08 668.85 433.75 C668.85 435.42 668.85 437.08 668.85 438.75 C668.85 440.42 668.85 442.08 668.85 443.75 C668.85 445.42 668.85 447.08 668.85 448.75 C668.85 450.42 668.85 452.08 668.85 453.75 C668.85 455.42 668.85 457.08 668.85 458.75 C668.85 460.42 668.85 462.08 668.85 463.75 C668.85 465.42 668.85 467.08 668.85 468.75 C668.85 470.42 668.85 472.08 668.85 473.75 C668.85 475.42 668.85 477.08 668.85 478.75 C668.85 480.42 668.85 482.08 668.85 483.75 C668.85 485.42 668.85 487.08 668.85 488.75 C668.85 490.42 668.85 492.08 668.85 493.75 C668.85 495.42 668.87 497.08 668.85 498.75 C668.83 500.42 668.85 502.08 668.73 503.75 C668.61 505.42 668.32 507.08 668.11 508.75 C667.90 510.42 667.69 512.08 667.47 513.75 C667.25 515.42 667.03 517.08 666.81 518.75 C666.58 520.42 666.36 522.08 666.13 523.75 C665.90 525.42 665.67 527.08 665.43 528.75 C665.20 530.42 664.97 532.08 664.73 533.75 C664.49 535.42 664.26 537.08 664.02 538.75 C663.78 540.42 663.55 542.08 663.31 543.75 C663.07 545.42 662.84 547.08 662.60 548.75 C662.36 550.42 662.13 552.08 661.90 553.75 C661.67 555.42 661.43 557.08 661.21 558.75 C660.98 560.42 660.75 562.08 660.52 563.75 C660.30 565.42 660.08 567.08 659.86 568.75 C659.63 570.42 659.41 572.08 659.20 573.75 C658.98 575.42 658.76 577.08 658.55 578.75 C658.33 580.42 658.12 582.08 657.91 583.75 C657.69 585.42 657.48 587.08 657.27 588.75 C657.06 590.42 656.85 592.08 656.64 593.75 C656.43 595.42 656.23 597.08 656.02 598.75 C655.81 600.42 655.61 602.08 655.40 603.75 C655.19 605.42 654.99 607.08 654.78 608.75 C654.58 610.42 654.37 612.08 654.17 613.75 C653.96 615.42 653.76 617.08 653.55 618.75 C653.34 620.42 653.13 622.08 652.91 623.75 C652.70 625.42 652.48 627.08 652.25 628.75 C652.02 630.42 651.79 632.08 651.54 633.75 C651.29 635.42 651.04 637.08 650.77 638.75 C650.50 640.42 650.21 642.08 649.92 643.75 C649.62 645.42 649.31 647.08 648.97 648.75 C648.64 650.42 648.29 652.08 647.92 653.75 C647.55 655.42 647.16 657.08 646.75 658.75 C646.34 660.42 645.90 662.08 645.45 663.75 C645.01 665.42 644.54 667.08 644.07 668.75 C643.60 670.42 643.10 672.08 642.61 673.75 C642.11 675.42 641.60 677.08 641.10 678.75 C640.59 680.42 640.07 682.08 639.55 683.75 C639.04 685.42 638.51 687.08 638.00 688.75 C637.48 690.42 636.97 692.08 636.46 693.75 C635.95 695.42 635.44 697.08 634.94 698.75 C634.44 700.42 633.94 702.08 633.45 703.75 C632.96 705.42 632.47 707.08 631.99 708.75 C631.50 710.42 631.02 712.08 630.55 713.75 C630.08 715.42 629.61 717.08 629.15 718.75 C628.69 720.42 628.23 722.08 627.78 723.75 C627.33 725.42 626.88 727.08 626.44 728.75 C626.00 730.42 625.57 732.08 625.14 733.75 C624.71 735.42 624.29 737.08 623.87 738.75 C623.46 740.42 623.05 742.08 622.65 743.75 C622.25 745.42 621.85 747.08 621.47 748.75 C621.08 750.42 620.70 752.08 620.32 753.75 C619.95 755.42 619.58 757.08 619.22 758.75 C618.87 760.42 618.52 762.08 618.17 763.75 C617.83 765.42 617.49 767.08 617.17 768.75 C616.84 770.42 616.52 772.08 616.21 773.75 C615.90 775.42 615.59 777.08 615.30 778.75 C615.01 780.42 614.72 782.08 614.45 783.75 C614.17 785.42 613.90 787.08 613.64 788.75 C613.38 790.42 613.13 792.08 612.90 793.75 C612.66 795.42 612.42 797.08 612.20 798.75 C611.98 800.42 611.77 802.08 611.57 803.75 C611.37 805.42 611.18 807.08 611.00 808.75 C610.82 810.42 610.65 812.08 610.49 813.75 C610.33 815.42 610.17 817.08 610.04 818.75 C609.90 820.42 609.77 822.08 609.65 823.75 C609.54 825.42 609.43 827.08 609.33 828.75 C609.24 830.42 609.16 832.08 609.08 833.75 C609.01 835.42 608.95 837.08 608.90 838.75 C608.85 840.42 608.82 842.08 608.79 843.75 C608.77 845.42 608.76 847.08 608.75 848.75 C608.75 850.42 608.77 852.08 608.79 853.75 C608.81 855.42 608.84 857.08 608.88 858.75 C608.92 860.42 608.97 862.08 609.03 863.75 C609.08 865.42 609.15 867.08 609.21 868.75 C609.28 870.42 609.36 872.08 609.43 873.75 C609.51 875.42 609.59 877.08 609.67 878.75 C609.75 880.42 609.84 882.08 609.92 883.75 C610.00 885.42 610.09 887.08 610.17 888.75 C610.25 890.42 610.33 892.08 610.41 893.75 C610.48 895.42 610.56 897.08 610.62 898.75 C610.69 900.42 610.76 902.08 610.81 903.75 C610.87 905.42 610.92 907.08 610.96 908.75 C611.00 910.42 611.03 912.08 611.06 913.75 C611.08 915.42 611.09 917.08 611.09 918.75 C611.09 920.42 611.08 922.08 611.06 923.75 C611.03 925.42 611.00 927.08 610.94 928.75 C610.89 930.42 610.82 932.08 610.74 933.75 C610.67 935.42 610.57 937.08 610.48 938.75 C610.38 940.42 610.28 942.08 610.17 943.75 C610.07 945.42 609.96 947.08 609.86 948.75 C609.76 950.42 609.66 952.08 609.57 953.75 C609.49 955.42 609.40 957.08 609.34 958.75 C609.28 960.42 609.23 962.08 609.21 963.75 C609.18 965.42 609.17 967.08 609.19 968.75 C609.21 970.42 609.26 972.08 609.34 973.75 C609.42 975.42 609.52 977.08 609.68 978.75 C609.83 980.42 610.01 982.08 610.24 983.75 C610.48 985.42 610.74 987.08 611.06 988.75 C611.39 990.42 611.76 992.08 612.19 993.75 C612.62 995.42 613.09 997.08 613.63 998.75 C614.18 1000.42 614.78 1002.08 615.45 1003.75 C616.13 1005.42 616.85 1007.08 617.66 1008.75 C618.47 1010.42 619.36 1012.08 620.31 1013.75 C621.27 1015.42 622.30 1017.08 623.40 1018.75 C624.51 1020.42 625.70 1022.08 626.92 1023.75 C628.15 1025.42 629.44 1027.08 630.74 1028.75 C632.04 1030.42 633.40 1032.08 634.75 1033.75 C636.09 1035.42 637.47 1037.08 638.82 1038.75 C640.17 1040.42 641.52 1042.08 642.83 1043.75 C644.14 1045.42 645.45 1047.08 646.68 1048.75 C647.91 1050.42 649.11 1052.08 650.23 1053.75 C651.35 1055.42 652.43 1057.08 653.39 1058.75 C654.36 1060.42 655.25 1062.08 656.03 1063.75 C656.81 1065.42 657.52 1067.08 658.09 1068.75 C658.65 1070.42 659.10 1072.08 659.43 1073.75 C659.77 1075.42 660.00 1077.08 660.12 1078.75 C660.23 1080.42 660.21 1082.08 660.10 1083.75 C659.99 1085.42 659.79 1087.08 659.47 1088.75 C659.15 1090.42 658.71 1092.08 658.19 1093.75 C657.67 1095.42 657.06 1097.08 656.34 1098.75 C655.63 1100.42 654.80 1102.08 653.90 1103.75 C653.00 1105.42 652.01 1107.08 650.94 1108.75 C649.87 1110.42 648.70 1112.08 647.50 1113.75 C646.30 1115.42 645.02 1117.08 643.74 1118.75 C642.45 1120.42 641.11 1122.08 639.78 1123.75 C638.46 1125.42 637.10 1127.08 635.79 1128.75 C634.47 1130.42 633.16 1132.08 631.91 1133.75 C630.66 1135.42 629.42 1137.08 628.28 1138.75 C627.15 1140.42 626.07 1142.08 625.11 1143.75 C624.14 1145.42 623.23 1147.08 622.50 1148.75 C621.76 1150.42 621.14 1152.08 620.69 1153.75 C620.23 1155.42 619.95 1157.38 619.77 1158.75 C619.59 1160.12 619.64 1161.46 619.62 1162.00 L718.08 1162.00 C718.06 1161.46 718.11 1160.12 717.93 1158.75 C717.75 1157.38 717.47 1155.42 717.01 1153.75 C716.56 1152.08 715.94 1150.42 715.20 1148.75 C714.47 1147.08 713.56 1145.42 712.59 1143.75 C711.63 1142.08 710.55 1140.42 709.42 1138.75 C708.28 1137.08 707.04 1135.42 705.79 1133.75 C704.54 1132.08 703.23 1130.42 701.91 1128.75 C700.60 1127.08 699.24 1125.42 697.92 1123.75 C696.59 1122.08 695.25 1120.42 693.96 1118.75 C692.68 1117.08 691.40 1115.42 690.20 1113.75 C689.00 1112.08 687.83 1110.42 686.76 1108.75 C685.69 1107.08 684.70 1105.42 683.80 1103.75 C682.90 1102.08 682.07 1100.42 681.36 1098.75 C680.64 1097.08 680.03 1095.42 679.51 1093.75 C678.99 1092.08 678.55 1090.42 678.23 1088.75 C677.91 1087.08 677.71 1085.42 677.60 1083.75 C677.49 1082.08 677.47 1080.42 677.58 1078.75 C677.70 1077.08 677.93 1075.42 678.27 1073.75 C678.60 1072.08 679.05 1070.42 679.61 1068.75 C680.18 1067.08 680.89 1065.42 681.67 1063.75 C682.45 1062.08 683.34 1060.42 684.31 1058.75 C685.27 1057.08 686.35 1055.42 687.47 1053.75 C688.59 1052.08 689.79 1050.42 691.02 1048.75 C692.25 1047.08 693.56 1045.42 694.87 1043.75 C696.18 1042.08 697.53 1040.42 698.88 1038.75 C700.23 1037.08 701.61 1035.42 702.95 1033.75 C704.30 1032.08 705.66 1030.42 706.96 1028.75 C708.26 1027.08 709.55 1025.42 710.78 1023.75 C712.00 1022.08 713.19 1020.42 714.30 1018.75 C715.40 1017.08 716.43 1015.42 717.39 1013.75 C718.34 1012.08 719.23 1010.42 720.04 1008.75 C720.85 1007.08 721.57 1005.42 722.25 1003.75 C722.92 1002.08 723.52 1000.42 724.07 998.75 C724.61 997.08 725.08 995.42 725.51 993.75 C725.94 992.08 726.31 990.42 726.64 988.75 C726.96 987.08 727.22 985.42 727.46 983.75 C727.69 982.08 727.87 980.42 728.02 978.75 C728.18 977.08 728.28 975.42 728.36 973.75 C728.44 972.08 728.49 970.42 728.51 968.75 C728.53 967.08 728.52 965.42 728.49 963.75 C728.47 962.08 728.42 960.42 728.36 958.75 C728.30 957.08 728.21 955.42 728.13 953.75 C728.04 952.08 727.94 950.42 727.84 948.75 C727.74 947.08 727.63 945.42 727.53 943.75 C727.42 942.08 727.32 940.42 727.22 938.75 C727.13 937.08 727.03 935.42 726.96 933.75 C726.88 932.08 726.81 930.42 726.76 928.75 C726.70 927.08 726.67 925.42 726.64 923.75 C726.62 922.08 726.61 920.42 726.61 918.75 C726.61 917.08 726.62 915.42 726.64 913.75 C726.67 912.08 726.70 910.42 726.74 908.75 C726.78 907.08 726.83 905.42 726.89 903.75 C726.94 902.08 727.01 900.42 727.08 898.75 C727.14 897.08 727.22 895.42 727.29 893.75 C727.37 892.08 727.45 890.42 727.53 888.75 C727.61 887.08 727.70 885.42 727.78 883.75 C727.86 882.08 727.95 880.42 728.03 878.75 C728.11 877.08 728.19 875.42 728.27 873.75 C728.34 872.08 728.42 870.42 728.49 868.75 C728.55 867.08 728.62 865.42 728.67 863.75 C728.73 862.08 728.78 860.42 728.82 858.75 C728.86 857.08 728.89 855.42 728.91 853.75 C728.93 852.08 728.95 850.42 728.95 848.75 C728.94 847.08 728.93 845.42 728.91 843.75 C728.88 842.08 728.85 840.42 728.80 838.75 C728.75 837.08 728.69 835.42 728.62 833.75 C728.54 832.08 728.46 830.42 728.37 828.75 C728.27 827.08 728.16 825.42 728.05 823.75 C727.93 822.08 727.80 820.42 727.66 818.75 C727.53 817.08 727.37 815.42 727.21 813.75 C727.05 812.08 726.88 810.42 726.70 808.75 C726.52 807.08 726.33 805.42 726.13 803.75 C725.93 802.08 725.72 800.42 725.50 798.75 C725.28 797.08 725.04 795.42 724.80 793.75 C724.57 792.08 724.32 790.42 724.06 788.75 C723.80 787.08 723.53 785.42 723.25 783.75 C722.98 782.08 722.69 780.42 722.40 778.75 C722.11 777.08 721.80 775.42 721.49 773.75 C721.18 772.08 720.86 770.42 720.53 768.75 C720.21 767.08 719.87 765.42 719.53 763.75 C719.18 762.08 718.83 760.42 718.48 758.75 C718.12 757.08 717.75 755.42 717.38 753.75 C717.00 752.08 716.62 750.42 716.23 748.75 C715.85 747.08 715.45 745.42 715.05 743.75 C714.65 742.08 714.24 740.42 713.83 738.75 C713.41 737.08 712.99 735.42 712.56 733.75 C712.13 732.08 711.70 730.42 711.26 728.75 C710.82 727.08 710.37 725.42 709.92 723.75 C709.47 722.08 709.01 720.42 708.55 718.75 C708.09 717.08 707.62 715.42 707.15 713.75 C706.68 712.08 706.20 710.42 705.71 708.75 C705.23 707.08 704.74 705.42 704.25 703.75 C703.76 702.08 703.26 700.42 702.76 698.75 C702.26 697.08 701.75 695.42 701.24 693.75 C700.73 692.08 700.22 690.42 699.70 688.75 C699.19 687.08 698.66 685.42 698.15 683.75 C697.63 682.08 697.11 680.42 696.60 678.75 C696.10 677.08 695.59 675.42 695.09 673.75 C694.60 672.08 694.10 670.42 693.63 668.75 C693.16 667.08 692.69 665.42 692.25 663.75 C691.80 662.08 691.36 660.42 690.95 658.75 C690.54 657.08 690.15 655.42 689.78 653.75 C689.41 652.08 689.06 650.42 688.73 648.75 C688.39 647.08 688.08 645.42 687.78 643.75 C687.49 642.08 687.20 640.42 686.93 638.75 C686.66 637.08 686.41 635.42 686.16 633.75 C685.91 632.08 685.68 630.42 685.45 628.75 C685.22 627.08 685.00 625.42 684.79 623.75 C684.57 622.08 684.36 620.42 684.15 618.75 C683.94 617.08 683.74 615.42 683.53 613.75 C683.33 612.08 683.12 610.42 682.92 608.75 C682.71 607.08 682.51 605.42 682.30 603.75 C682.09 602.08 681.89 600.42 681.68 598.75 C681.47 597.08 681.27 595.42 681.06 593.75 C680.85 592.08 680.64 590.42 680.43 588.75 C680.22 587.08 680.01 585.42 679.79 583.75 C679.58 582.08 679.37 580.42 679.15 578.75 C678.94 577.08 678.72 575.42 678.50 573.75 C678.29 572.08 678.07 570.42 677.84 568.75 C677.62 567.08 677.40 565.42 677.18 563.75 C676.95 562.08 676.72 560.42 676.49 558.75 C676.27 557.08 676.03 555.42 675.80 553.75 C675.57 552.08 675.34 550.42 675.10 548.75 C674.86 547.08 674.63 545.42 674.39 543.75 C674.15 542.08 673.92 540.42 673.68 538.75 C673.44 537.08 673.21 535.42 672.97 533.75 C672.73 532.08 672.50 530.42 672.27 528.75 C672.03 527.08 671.80 525.42 671.57 523.75 C671.34 522.08 671.12 520.42 670.89 518.75 C670.67 517.08 670.45 515.42 670.23 513.75 C670.01 512.08 669.80 510.42 669.59 508.75 C669.38 507.08 669.09 505.42 668.97 503.75 C668.85 502.08 668.87 500.42 668.85 498.75 C668.83 497.08 668.85 495.42 668.85 493.75 C668.85 492.08 668.85 490.42 668.85 488.75 C668.85 487.08 668.85 485.42 668.85 483.75 C668.85 482.08 668.85 480.42 668.85 478.75 C668.85 477.08 668.85 475.42 668.85 473.75 C668.85 472.08 668.85 470.42 668.85 468.75 C668.85 467.08 668.85 465.42 668.85 463.75 C668.85 462.08 668.85 460.42 668.85 458.75 C668.85 457.08 668.85 455.42 668.85 453.75 C668.85 452.08 668.85 450.42 668.85 448.75 C668.85 447.08 668.85 445.42 668.85 443.75 C668.85 442.08 668.85 440.42 668.85 438.75 C668.85 437.08 668.85 435.42 668.85 433.75 C668.85 432.08 668.85 430.42 668.85 428.75 C668.85 427.08 668.85 425.42 668.85 423.75 C668.85 422.08 668.85 420.42 668.85 418.75 C668.85 417.08 668.85 415.42 668.85 413.75 C668.85 412.08 668.85 410.42 668.85 408.75 C668.85 407.08 668.85 405.42 668.85 403.75 C668.85 402.08 668.85 399.58 668.85 398.75Z"/>
<path fill="#436EEE" d="M816.46 261.35 C816.46 262.18 816.46 264.68 816.46 266.35 C816.46 268.02 816.46 269.68 816.46 271.35 C816.46 273.02 816.46 274.68 816.46 276.35 C816.46 278.02 816.46 279.68 816.46 281.35 C816.46 283.02 816.46 284.68 816.46 286.35 C816.45 288.02 816.43 289.68 816.41 291.35 C816.39 293.02 816.37 294.68 816.35 296.35 C816.33 298.02 816.31 299.68 816.29 301.35 C816.27 303.02 816.25 304.68 816.23 306.35 C816.20 308.02 816.18 309.68 816.16 311.35 C816.13 313.02 816.11 314.68 816.09 316.35 C816.06 318.02 816.03 319.68 816.01 321.35 C815.98 323.02 815.96 324.68 815.93 326.35 C815.90 328.02 815.87 329.68 815.84 331.35 C815.81 333.02 815.78 334.68 815.75 336.35 C815.72 338.02 815.69 339.68 815.65 341.35 C815.62 343.02 815.59 344.68 815.55 346.35 C815.52 348.02 815.48 349.68 815.45 351.35 C815.41 353.02 815.37 354.68 815.33 356.35 C815.30 358.02 815.26 359.68 815.22 361.35 C815.18 363.02 815.13 364.68 815.09 366.35 C815.05 368.02 815.01 369.68 814.96 371.35 C814.92 373.02 814.87 374.68 814.82 376.35 C814.78 378.02 814.73 379.68 814.68 381.35 C814.63 383.02 814.58 384.68 814.53 386.35 C814.48 388.02 814.42 389.68 814.37 391.35 C814.32 393.02 814.26 394.68 814.21 396.35 C814.15 398.02 814.09 399.68 814.03 401.35 C813.97 403.02 813.91 404.68 813.85 406.35 C813.79 408.02 813.73 409.68 813.66 411.35 C813.60 413.02 813.53 414.68 813.47 416.35 C813.40 418.02 813.33 419.68 813.26 421.35 C813.19 423.02 813.12 424.68 813.05 426.35 C812.98 428.02 812.90 429.68 812.83 431.35 C812.75 433.02 812.68 434.68 812.60 436.35 C812.52 438.02 812.44 439.68 812.36 441.35 C812.28 443.02 812.19 444.68 812.11 446.35 C812.03 448.02 811.94 449.68 811.85 451.35 C811.76 453.02 811.67 454.68 811.58 456.35 C811.49 458.02 811.40 459.68 811.31 461.35 C811.21 463.02 811.12 464.68 811.02 466.35 C810.92 468.02 810.82 469.68 810.72 471.35 C810.62 473.02 810.52 474.68 810.41 476.35 C810.31 478.02 810.20 479.68 810.09 481.35 C809.98 483.02 809.87 484.68 809.76 486.35 C809.65 488.02 809.54 489.68 809.42 491.35 C809.30 493.02 809.19 494.68 809.07 496.35 C808.95 498.02 808.83 499.68 808.70 501.35 C808.58 503.02 808.46 504.68 808.33 506.35 C808.20 508.02 808.07 509.68 807.94 511.35 C807.81 513.02 807.68 514.68 807.54 516.35 C807.41 518.02 807.27 519.68 807.13 521.35 C806.99 523.02 806.85 524.68 806.71 526.35 C806.56 528.02 806.42 529.68 806.27 531.35 C806.12 533.02 805.97 534.68 805.82 536.35 C805.67 538.02 805.51 539.68 805.36 541.35 C805.20 543.02 805.04 544.68 804.88 546.35 C804.72 548.02 804.56 549.68 804.39 551.35 C804.23 553.02 804.06 554.68 803.89 556.35 C803.72 558.02 803.55 559.68 803.38 561.35 C803.20 563.02 803.02 564.68 802.84 566.35 C802.67 568.02 802.48 569.68 802.30 571.35 C802.12 573.02 801.93 574.68 801.74 576.35 C801.55 578.02 801.36 579.68 801.17 581.35 C800.97 583.02 800.78 584.68 800.58 586.35 C800.38 588.02 800.18 589.68 799.98 591.35 C799.77 593.02 799.57 594.68 799.36 596.35 C799.15 598.02 798.94 599.68 798.72 601.35 C798.51 603.02 798.29 604.68 798.07 606.35 C797.86 608.02 797.63 609.68 797.41 611.35 C797.19 613.02 796.96 614.68 796.74 616.35 C796.51 618.02 796.29 619.68 796.06 621.35 C795.83 623.02 795.60 624.68 795.37 626.35 C795.14 628.02 794.91 629.68 794.68 631.35 C794.45 633.02 794.22 634.68 793.99 636.35 C793.76 638.02 793.53 639.68 793.31 641.35 C793.08 643.02 792.85 644.68 792.63 646.35 C792.40 648.02 792.18 649.68 791.95 651.35 C791.73 653.02 791.51 654.68 791.29 656.35 C791.07 658.02 790.86 659.68 790.64 661.35 C790.43 663.02 790.22 664.68 790.01 666.35 C789.80 668.02 789.60 669.68 789.40 671.35 C789.20 673.02 789.00 674.68 788.81 676.35 C788.61 678.02 788.42 679.68 788.24 681.35 C788.05 683.02 787.87 684.68 787.70 686.35 C787.52 688.02 787.35 689.68 787.19 691.35 C787.02 693.02 786.86 694.68 786.71 696.35 C786.55 698.02 786.40 699.68 786.25 701.35 C786.10 703.02 785.95 704.68 785.81 706.35 C785.67 708.02 785.52 709.68 785.38 711.35 C785.24 713.02 785.10 714.68 784.96 716.35 C784.82 718.02 784.68 719.68 784.54 721.35 C784.40 723.02 784.26 724.68 784.11 726.35 C783.97 728.02 783.82 729.68 783.67 731.35 C783.52 733.02 783.37 734.68 783.21 736.35 C783.06 738.02 782.90 739.68 782.74 741.35 C782.57 743.02 782.41 744.68 782.24 746.35 C782.07 748.02 781.90 749.68 781.73 751.35 C781.55 753.02 781.38 754.68 781.20 756.35 C781.02 758.02 780.83 759.68 780.64 761.35 C780.46 763.02 780.27 764.68 780.07 766.35 C779.88 768.02 779.68 769.68 779.48 771.35 C779.28 773.02 779.07 774.68 778.86 776.35 C778.65 778.02 778.44 779.68 778.23 781.35 C778.01 783.02 777.79 784.68 777.57 786.35 C777.35 788.02 777.12 789.68 776.89 791.35 C776.66 793.02 776.42 794.68 776.19 796.35 C775.95 798.02 775.71 799.68 775.47 801.35 C775.23 803.02 774.99 804.68 774.74 806.35 C774.50 808.02 774.26 809.68 774.01 811.35 C773.77 813.02 773.53 814.68 773.28 816.35 C773.04 818.02 772.80 819.68 772.56 821.35 C772.32 823.02 772.08 824.68 771.85 826.35 C771.61 828.02 771.38 829.68 771.15 831.35 C770.93 833.02 770.70 834.68 770.48 836.35 C770.27 838.02 770.05 839.68 769.84 841.35 C769.64 843.02 769.43 844.68 769.24 846.35 C769.04 848.02 768.85 849.68 768.67 851.35 C768.49 853.02 768.32 854.68 768.16 856.35 C767.99 858.02 767.84 859.68 767.69 861.35 C767.55 863.02 767.41 864.68 767.29 866.35 C767.16 868.02 767.05 869.68 766.95 871.35 C766.85 873.02 766.76 874.68 766.68 876.35 C766.61 878.02 766.54 879.68 766.49 881.35 C766.44 883.02 766.41 884.68 766.39 886.35 C766.37 888.02 766.36 889.68 766.37 891.35 C766.38 893.02 766.41 894.68 766.46 896.35 C766.50 898.02 766.56 899.68 766.64 901.35 C766.72 903.02 766.82 904.68 766.94 906.35 C767.06 908.02 767.19 909.68 767.35 911.35 C767.51 913.02 767.69 914.68 767.89 916.35 C768.09 918.02 768.31 919.68 768.55 921.35 C768.79 923.02 769.06 924.68 769.35 926.35 C769.64 928.02 769.95 929.68 770.29 931.35 C770.63 933.02 771.00 934.68 771.38 936.35 C771.77 938.02 772.18 939.68 772.63 941.35 C773.07 943.02 773.54 944.68 774.03 946.35 C774.53 948.02 775.05 949.68 775.60 951.35 C776.14 953.02 776.72 954.68 777.30 956.35 C777.89 958.02 778.50 959.68 779.12 961.35 C779.75 963.02 780.39 964.68 781.04 966.35 C781.68 968.02 782.34 969.68 783.01 971.35 C783.67 973.02 784.34 974.68 785.01 976.35 C785.68 978.02 786.35 979.68 787.02 981.35 C787.69 983.02 788.35 984.68 789.01 986.35 C789.67 988.02 790.32 989.68 790.95 991.35 C791.59 993.02 792.21 994.68 792.82 996.35 C793.43 998.02 794.02 999.68 794.59 1001.35 C795.16 1003.02 795.71 1004.68 796.23 1006.35 C796.75 1008.02 797.25 1009.68 797.72 1011.35 C798.18 1013.02 798.62 1014.68 799.02 1016.35 C799.42 1018.02 799.80 1019.68 800.13 1021.35 C800.47 1023.02 800.76 1024.68 801.03 1026.35 C801.29 1028.02 801.52 1029.68 801.71 1031.35 C801.90 1033.02 802.05 1034.68 802.17 1036.35 C802.29 1038.02 802.37 1039.68 802.41 1041.35 C802.46 1043.02 802.46 1044.68 802.42 1046.35 C802.39 1048.02 802.32 1049.68 802.21 1051.35 C802.10 1053.02 801.94 1054.68 801.75 1056.35 C801.56 1058.02 801.34 1059.68 801.07 1061.35 C800.80 1063.02 800.48 1064.68 800.13 1066.35 C799.78 1068.02 799.40 1069.68 798.96 1071.35 C798.53 1073.02 798.05 1074.68 797.53 1076.35 C797.02 1078.02 796.46 1079.68 795.86 1081.35 C795.26 1083.02 794.61 1084.68 793.92 1086.35 C793.24 1088.02 792.51 1089.68 791.73 1091.35 C790.96 1093.02 790.13 1094.68 789.27 1096.35 C788.41 1098.02 787.50 1099.68 786.55 1101.35 C785.59 1103.02 784.59 1104.68 783.55 1106.35 C782.50 1108.02 781.41 1109.68 780.30 1111.35 C779.19 1113.02 778.03 1114.68 776.88 1116.35 C775.72 1118.02 774.54 1119.68 773.38 1121.35 C772.22 1123.02 771.05 1124.68 769.93 1126.35 C768.80 1128.02 767.67 1129.68 766.61 1131.35 C765.56 1133.02 764.53 1134.68 763.58 1136.35 C762.62 1138.02 761.71 1139.68 760.90 1141.35 C760.10 1143.02 759.37 1144.68 758.75 1146.35 C758.13 1148.02 757.58 1149.68 757.19 1151.35 C756.80 1153.02 756.56 1154.68 756.41 1156.35 C756.27 1158.02 756.33 1160.41 756.31 1161.35 C756.30 1162.29 756.31 1161.89 756.31 1162.00 L876.61 1162.00 C876.61 1161.89 876.62 1162.29 876.61 1161.35 C876.59 1160.41 876.65 1158.02 876.51 1156.35 C876.36 1154.68 876.12 1153.02 875.73 1151.35 C875.34 1149.68 874.79 1148.02 874.17 1146.35 C873.55 1144.68 872.82 1143.02 872.02 1141.35 C871.21 1139.68 870.30 1138.02 869.34 1136.35 C868.39 1134.68 867.36 1133.02 866.31 1131.35 C865.25 1129.68 864.12 1128.02 862.99 1126.35 C861.87 1124.68 860.70 1123.02 859.54 1121.35 C858.38 1119.68 857.20 1118.02 856.04 1116.35 C854.89 1114.68 853.73 1113.02 852.62 1111.35 C851.51 1109.68 850.42 1108.02 849.37 1106.35 C848.33 1104.68 847.33 1103.02 846.37 1101.35 C845.42 1099.68 844.51 1098.02 843.65 1096.35 C842.79 1094.68 841.96 1093.02 841.19 1091.35 C840.41 1089.68 839.68 1088.02 839.00 1086.35 C838.31 1084.68 837.66 1083.02 837.06 1081.35 C836.46 1079.68 835.90 1078.02 835.39 1076.35 C834.87 1074.68 834.39 1073.02 833.96 1071.35 C833.52 1069.68 833.14 1068.02 832.79 1066.35 C832.44 1064.68 832.12 1063.02 831.85 1061.35 C831.58 1059.68 831.36 1058.02 831.17 1056.35 C830.98 1054.68 830.82 1053.02 830.71 1051.35 C830.60 1049.68 830.53 1048.02 830.50 1046.35 C830.46 1044.68 830.46 1043.02 830.51 1041.35 C830.55 1039.68 830.63 1038.02 830.75 1036.35 C830.87 1034.68 831.02 1033.02 831.21 1031.35 C831.40 1029.68 831.63 1028.02 831.89 1026.35 C832.16 1024.68 832.45 1023.02 832.79 1021.35 C833.12 1019.68 833.50 1018.02 833.90 1016.35 C834.30 1014.68 834.74 1013.02 835.20 1011.35 C835.67 1009.68 836.17 1008.02 836.69 1006.35 C837.21 1004.68 837.76 1003.02 838.33 1001.35 C838.90 999.68 839.49 998.02 840.10 996.35 C840.71 994.68 841.33 993.02 841.97 991.35 C842.60 989.68 843.25 988.02 843.91 986.35 C844.57 984.68 845.23 983.02 845.90 981.35 C846.57 979.68 847.24 978.02 847.91 976.35 C848.58 974.68 849.25 973.02 849.91 971.35 C850.58 969.68 851.24 968.02 851.88 966.35 C852.53 964.68 853.17 963.02 853.80 961.35 C854.42 959.68 855.03 958.02 855.62 956.35 C856.20 954.68 856.78 953.02 857.32 951.35 C857.87 949.68 858.39 948.02 858.89 946.35 C859.38 944.68 859.85 943.02 860.29 941.35 C860.74 939.68 861.15 938.02 861.54 936.35 C861.92 934.68 862.29 933.02 862.63 931.35 C862.97 929.68 863.28 928.02 863.57 926.35 C863.86 924.68 864.13 923.02 864.37 921.35 C864.61 919.68 864.83 918.02 865.03 916.35 C865.23 914.68 865.41 913.02 865.57 911.35 C865.73 909.68 865.86 908.02 865.98 906.35 C866.10 904.68 866.20 903.02 866.28 901.35 C866.36 899.68 866.42 898.02 866.46 896.35 C866.51 894.68 866.54 893.02 866.55 891.35 C866.56 889.68 866.55 888.02 866.53 886.35 C866.51 884.68 866.48 883.02 866.43 881.35 C866.38 879.68 866.31 878.02 866.24 876.35 C866.16 874.68 866.07 873.02 865.97 871.35 C865.87 869.68 865.76 868.02 865.63 866.35 C865.51 864.68 865.37 863.02 865.23 861.35 C865.08 859.68 864.93 858.02 864.76 856.35 C864.60 854.68 864.43 853.02 864.25 851.35 C864.07 849.68 863.88 848.02 863.68 846.35 C863.49 844.68 863.28 843.02 863.08 841.35 C862.87 839.68 862.65 838.02 862.44 836.35 C862.22 834.68 861.99 833.02 861.77 831.35 C861.54 829.68 861.31 828.02 861.07 826.35 C860.84 824.68 860.60 823.02 860.36 821.35 C860.12 819.68 859.88 818.02 859.64 816.35 C859.39 814.68 859.15 813.02 858.91 811.35 C858.66 809.68 858.42 808.02 858.18 806.35 C857.93 804.68 857.69 803.02 857.45 801.35 C857.21 799.68 856.97 798.02 856.73 796.35 C856.50 794.68 856.26 793.02 856.03 791.35 C855.80 789.68 855.57 788.02 855.35 786.35 C855.13 784.68 854.91 783.02 854.69 781.35 C854.48 779.68 854.27 778.02 854.06 776.35 C853.85 774.68 853.64 773.02 853.44 771.35 C853.24 769.68 853.04 768.02 852.85 766.35 C852.65 764.68 852.46 763.02 852.28 761.35 C852.09 759.68 851.90 758.02 851.72 756.35 C851.54 754.68 851.37 753.02 851.19 751.35 C851.02 749.68 850.85 748.02 850.68 746.35 C850.51 744.68 850.35 743.02 850.18 741.35 C850.02 739.68 849.86 738.02 849.71 736.35 C849.55 734.68 849.40 733.02 849.25 731.35 C849.10 729.68 848.95 728.02 848.81 726.35 C848.66 724.68 848.52 723.02 848.38 721.35 C848.24 719.68 848.10 718.02 847.96 716.35 C847.82 714.68 847.68 713.02 847.54 711.35 C847.40 709.68 847.25 708.02 847.11 706.35 C846.97 704.68 846.82 703.02 846.67 701.35 C846.52 699.68 846.37 698.02 846.21 696.35 C846.06 694.68 845.90 693.02 845.73 691.35 C845.57 689.68 845.40 688.02 845.22 686.35 C845.05 684.68 844.87 683.02 844.68 681.35 C844.50 679.68 844.31 678.02 844.11 676.35 C843.92 674.68 843.72 673.02 843.52 671.35 C843.32 669.68 843.12 668.02 842.91 666.35 C842.70 664.68 842.49 663.02 842.28 661.35 C842.06 659.68 841.85 658.02 841.63 656.35 C841.41 654.68 841.19 653.02 840.97 651.35 C840.74 649.68 840.52 648.02 840.29 646.35 C840.07 644.68 839.84 643.02 839.61 641.35 C839.39 639.68 839.16 638.02 838.93 636.35 C838.70 634.68 838.47 633.02 838.24 631.35 C838.01 629.68 837.78 628.02 837.55 626.35 C837.32 624.68 837.09 623.02 836.86 621.35 C836.63 619.68 836.41 618.02 836.18 616.35 C835.96 614.68 835.73 613.02 835.51 611.35 C835.29 609.68 835.06 608.02 834.85 606.35 C834.63 604.68 834.41 603.02 834.20 601.35 C833.98 599.68 833.77 598.02 833.56 596.35 C833.35 594.68 833.15 593.02 832.94 591.35 C832.74 589.68 832.54 588.02 832.34 586.35 C832.14 584.68 831.95 583.02 831.75 581.35 C831.56 579.68 831.37 578.02 831.18 576.35 C830.99 574.68 830.80 573.02 830.62 571.35 C830.44 569.68 830.25 568.02 830.08 566.35 C829.90 564.68 829.72 563.02 829.54 561.35 C829.37 559.68 829.20 558.02 829.03 556.35 C828.86 554.68 828.69 553.02 828.53 551.35 C828.36 549.68 828.20 548.02 828.04 546.35 C827.88 544.68 827.72 543.02 827.56 541.35 C827.41 539.68 827.25 538.02 827.10 536.35 C826.95 534.68 826.80 533.02 826.65 531.35 C826.50 529.68 826.36 528.02 826.21 526.35 C826.07 524.68 825.93 523.02 825.79 521.35 C825.65 519.68 825.51 518.02 825.38 516.35 C825.24 514.68 825.11 513.02 824.98 511.35 C824.85 509.68 824.72 508.02 824.59 506.35 C824.46 504.68 824.34 503.02 824.22 501.35 C824.09 499.68 823.97 498.02 823.85 496.35 C823.73 494.68 823.62 493.02 823.50 491.35 C823.38 489.68 823.27 488.02 823.16 486.35 C823.05 484.68 822.94 483.02 822.83 481.35 C822.72 479.68 822.61 478.02 822.51 476.35 C822.40 474.68 822.30 473.02 822.20 471.35 C822.10 469.68 822.00 468.02 821.90 466.35 C821.80 464.68 821.71 463.02 821.61 461.35 C821.52 459.68 821.43 458.02 821.34 456.35 C821.25 454.68 821.16 453.02 821.07 451.35 C820.98 449.68 820.89 448.02 820.81 446.35 C820.73 444.68 820.64 443.02 820.56 441.35 C820.48 439.68 820.40 438.02 820.32 436.35 C820.24 434.68 820.17 433.02 820.09 431.35 C820.02 429.68 819.94 428.02 819.87 426.35 C819.80 424.68 819.73 423.02 819.66 421.35 C819.59 419.68 819.52 418.02 819.45 416.35 C819.39 414.68 819.32 413.02 819.26 411.35 C819.19 409.68 819.13 408.02 819.07 406.35 C819.01 404.68 818.95 403.02 818.89 401.35 C818.83 399.68 818.77 398.02 818.71 396.35 C818.66 394.68 818.60 393.02 818.55 391.35 C818.50 389.68 818.44 388.02 818.39 386.35 C818.34 384.68 818.29 383.02 818.24 381.35 C818.19 379.68 818.14 378.02 818.10 376.35 C818.05 374.68 818.00 373.02 817.96 371.35 C817.91 369.68 817.87 368.02 817.83 366.35 C817.79 364.68 817.74 363.02 817.70 361.35 C817.66 359.68 817.62 358.02 817.59 356.35 C817.55 354.68 817.51 353.02 817.47 351.35 C817.44 349.68 817.40 348.02 817.37 346.35 C817.33 344.68 817.30 343.02 817.27 341.35 C817.23 339.68 817.20 338.02 817.17 336.35 C817.14 334.68 817.11 333.02 817.08 331.35 C817.05 329.68 817.02 328.02 816.99 326.35 C816.96 324.68 816.94 323.02 816.91 321.35 C816.89 319.68 816.86 318.02 816.83 316.35 C816.81 314.68 816.79 313.02 816.76 311.35 C816.74 309.68 816.72 308.02 816.69 306.35 C816.67 304.68 816.65 303.02 816.63 301.35 C816.61 299.68 816.59 298.02 816.57 296.35 C816.55 294.68 816.53 293.02 816.51 291.35 C816.49 289.68 816.47 288.02 816.46 286.35 C816.46 284.68 816.46 283.02 816.46 281.35 C816.46 279.68 816.46 278.02 816.46 276.35 C816.46 274.68 816.46 273.02 816.46 271.35 C816.46 269.68 816.46 268.02 816.46 266.35 C816.46 264.68 816.46 262.18 816.46 261.35Z"/>
<path fill="#FF3030" d="M937.22 333.75 C937.22 334.58 937.22 337.08 937.22 338.75 C937.22 340.42 937.22 342.08 937.22 343.75 C937.22 345.42 937.22 347.08 937.22 348.75 C937.22 350.42 937.22 352.08 937.22 353.75 C937.22 355.42 937.22 357.08 937.22 358.75 C937.22 360.42 937.22 362.08 937.22 363.75 C937.22 365.42 937.22 367.08 937.22 368.75 C937.22 370.42 937.22 372.08 937.22 373.75 C937.22 375.42 937.22 377.08 937.22 378.75 C937.22 380.42 937.22 382.08 937.22 383.75 C937.22 385.42 937.22 387.08 937.22 388.75 C937.22 390.42 937.22 392.08 937.22 393.75 C937.22 395.42 937.22 397.08 937.22 398.75 C937.22 400.42 937.22 402.08 937.22 403.75 C937.22 405.42 937.22 407.08 937.22 408.75 C937.22 410.42 937.22 412.08 937.22 413.75 C937.22 415.42 937.22 417.08 937.22 418.75 C937.22 420.42 937.22 422.08 937.22 423.75 C937.22 425.42 937.22 427.08 937.22 428.75 C937.22 430.42 937.22 432.08 937.22 433.75 C937.22 435.42 937.22 437.08 937.22 438.75 C937.22 440.42 937.22 442.08 937.22 443.75 C937.22 445.42 937.22 447.08 937.22 448.75 C937.22 450.42 937.22 452.08 937.22 453.75 C937.22 455.42 937.23 457.08 937.22 458.75 C937.21 460.42 937.18 462.08 937.14 463.75 C937.10 465.42 937.04 467.08 936.98 468.75 C936.93 470.42 936.87 472.08 936.81 473.75 C936.75 475.42 936.69 477.08 936.62 478.75 C936.56 480.42 936.49 482.08 936.42 483.75 C936.35 485.42 936.27 487.08 936.20 488.75 C936.12 490.42 936.04 492.08 935.96 493.75 C935.88 495.42 935.80 497.08 935.71 498.75 C935.63 500.42 935.54 502.08 935.44 503.75 C935.35 505.42 935.26 507.08 935.16 508.75 C935.06 510.42 934.96 512.08 934.86 513.75 C934.75 515.42 934.65 517.08 934.54 518.75 C934.43 520.42 934.32 522.08 934.20 523.75 C934.09 525.42 933.97 527.08 933.85 528.75 C933.72 530.42 933.60 532.08 933.47 533.75 C933.34 535.42 933.21 537.08 933.08 538.75 C932.95 540.42 932.81 542.08 932.67 543.75 C932.53 545.42 932.38 547.08 932.24 548.75 C932.09 550.42 931.94 552.08 931.78 553.75 C931.63 555.42 931.47 557.08 931.31 558.75 C931.15 560.42 930.99 562.08 930.82 563.75 C930.65 565.42 930.48 567.08 930.31 568.75 C930.13 570.42 929.95 572.08 929.77 573.75 C929.59 575.42 929.40 577.08 929.22 578.75 C929.03 580.42 928.83 582.08 928.64 583.75 C928.44 585.42 928.24 587.08 928.04 588.75 C927.83 590.42 927.63 592.08 927.41 593.75 C927.20 595.42 926.99 597.08 926.77 598.75 C926.55 600.42 926.33 602.08 926.10 603.75 C925.87 605.42 925.64 607.08 925.40 608.75 C925.17 610.42 924.93 612.08 924.69 613.75 C924.44 615.42 924.20 617.08 923.95 618.75 C923.69 620.42 923.44 622.08 923.18 623.75 C922.92 625.42 922.66 627.08 922.39 628.75 C922.12 630.42 921.85 632.08 921.57 633.75 C921.30 635.42 921.01 637.08 920.73 638.75 C920.44 640.42 920.16 642.08 919.86 643.75 C919.57 645.42 919.27 647.08 918.97 648.75 C918.66 650.42 918.36 652.08 918.04 653.75 C917.73 655.42 917.42 657.08 917.10 658.75 C916.77 660.42 916.45 662.08 916.12 663.75 C915.79 665.42 915.46 667.08 915.12 668.75 C914.78 670.42 914.43 672.08 914.09 673.75 C913.74 675.42 913.38 677.08 913.03 678.75 C912.67 680.42 912.31 682.08 911.95 683.75 C911.59 685.42 911.22 687.08 910.85 688.75 C910.48 690.42 910.11 692.08 909.73 693.75 C909.35 695.42 908.98 697.08 908.59 698.75 C908.21 700.42 907.83 702.08 907.45 703.75 C907.06 705.42 906.68 707.08 906.29 708.75 C905.90 710.42 905.51 712.08 905.12 713.75 C904.73 715.42 904.34 717.08 903.95 718.75 C903.56 720.42 903.16 722.08 902.77 723.75 C902.38 725.42 901.99 727.08 901.59 728.75 C901.20 730.42 900.81 732.08 900.42 733.75 C900.03 735.42 899.63 737.08 899.25 738.75 C898.86 740.42 898.47 742.08 898.08 743.75 C897.69 745.42 897.31 747.08 896.92 748.75 C896.54 750.42 896.16 752.08 895.78 753.75 C895.40 755.42 895.02 757.08 894.65 758.75 C894.27 760.42 893.90 762.08 893.53 763.75 C893.16 765.42 892.80 767.08 892.44 768.75 C892.08 770.42 891.72 772.08 891.36 773.75 C891.01 775.42 890.66 777.08 890.31 778.75 C889.97 780.42 889.62 782.08 889.29 783.75 C888.95 785.42 888.62 787.08 888.29 788.75 C887.97 790.42 887.64 792.08 887.33 793.75 C887.01 795.42 886.70 797.08 886.40 798.75 C886.10 800.42 885.80 802.08 885.51 803.75 C885.22 805.42 884.93 807.08 884.65 808.75 C884.38 810.42 884.10 812.08 883.84 813.75 C883.58 815.42 883.32 817.08 883.07 818.75 C882.82 820.42 882.58 822.08 882.35 823.75 C882.12 825.42 881.89 827.08 881.68 828.75 C881.46 830.42 881.25 832.08 881.05 833.75 C880.86 835.42 880.67 837.08 880.49 838.75 C880.31 840.42 880.14 842.08 879.97 843.75 C879.81 845.42 879.66 847.08 879.52 848.75 C879.38 850.42 879.25 852.08 879.13 853.75 C879.01 855.42 878.90 857.08 878.81 858.75 C878.71 860.42 878.62 862.08 878.55 863.75 C878.47 865.42 878.41 867.08 878.35 868.75 C878.30 870.42 878.25 872.08 878.21 873.75 C878.18 875.42 878.15 877.08 878.12 878.75 C878.10 880.42 878.08 882.08 878.07 883.75 C878.06 885.42 878.05 887.08 878.04 888.75 C878.03 890.42 878.03 892.08 878.03 893.75 C878.02 895.42 878.02 897.08 878.02 898.75 C878.01 900.42 878.01 902.08 878.00 903.75 C877.99 905.42 877.98 907.08 877.96 908.75 C877.95 910.42 877.93 912.08 877.90 913.75 C877.88 915.42 877.85 917.08 877.82 918.75 C877.80 920.42 877.76 922.08 877.74 923.75 C877.72 925.42 877.70 927.08 877.70 928.75 C877.70 930.42 877.70 932.08 877.72 933.75 C877.74 935.42 877.78 937.08 877.84 938.75 C877.90 940.42 877.98 942.08 878.09 943.75 C878.20 945.42 878.34 947.08 878.51 948.75 C878.68 950.42 878.88 952.08 879.12 953.75 C879.36 955.42 879.63 957.08 879.95 958.75 C880.27 960.42 880.62 962.08 881.02 963.75 C881.43 965.42 881.88 967.08 882.38 968.75 C882.88 970.42 883.42 972.08 884.02 973.75 C884.63 975.42 885.29 977.08 886.01 978.75 C886.72 980.42 887.49 982.08 888.32 983.75 C889.15 985.42 890.04 987.08 890.97 988.75 C891.89 990.42 892.87 992.08 893.86 993.75 C894.86 995.42 895.90 997.08 896.95 998.75 C897.99 1000.42 899.06 1002.08 900.13 1003.75 C901.19 1005.42 902.27 1007.08 903.33 1008.75 C904.40 1010.42 905.46 1012.08 906.50 1013.75 C907.53 1015.42 908.55 1017.08 909.54 1018.75 C910.53 1020.42 911.49 1022.08 912.42 1023.75 C913.35 1025.42 914.24 1027.08 915.10 1028.75 C915.96 1030.42 916.79 1032.08 917.57 1033.75 C918.35 1035.42 919.09 1037.08 919.78 1038.75 C920.48 1040.42 921.14 1042.08 921.75 1043.75 C922.35 1045.42 922.91 1047.08 923.41 1048.75 C923.92 1050.42 924.39 1052.08 924.79 1053.75 C925.19 1055.42 925.53 1057.08 925.81 1058.75 C926.10 1060.42 926.34 1062.08 926.51 1063.75 C926.67 1065.42 926.77 1067.08 926.81 1068.75 C926.85 1070.42 926.83 1072.08 926.74 1073.75 C926.64 1075.42 926.47 1077.08 926.24 1078.75 C926.00 1080.42 925.70 1082.08 925.31 1083.75 C924.93 1085.42 924.46 1087.08 923.91 1088.75 C923.37 1090.42 922.76 1092.08 922.06 1093.75 C921.35 1095.42 920.55 1097.08 919.67 1098.75 C918.79 1100.42 917.84 1102.08 916.78 1103.75 C915.72 1105.42 914.56 1107.08 913.33 1108.75 C912.10 1110.42 910.78 1112.08 909.41 1113.75 C908.04 1115.42 906.58 1117.08 905.12 1118.75 C903.66 1120.42 902.15 1122.08 900.65 1123.75 C899.15 1125.42 897.62 1127.08 896.14 1128.75 C894.66 1130.42 893.17 1132.08 891.76 1133.75 C890.36 1135.42 888.98 1137.08 887.70 1138.75 C886.42 1140.42 885.19 1142.08 884.10 1143.75 C883.02 1145.42 882.02 1147.08 881.19 1148.75 C880.36 1150.42 879.62 1152.08 879.10 1153.75 C878.59 1155.42 878.29 1157.38 878.09 1158.75 C877.89 1160.12 877.94 1161.46 877.91 1162.00 L996.53 1162.00 C996.50 1161.46 996.55 1160.12 996.35 1158.75 C996.15 1157.38 995.85 1155.42 995.34 1153.75 C994.82 1152.08 994.08 1150.42 993.25 1148.75 C992.42 1147.08 991.42 1145.42 990.34 1143.75 C989.25 1142.08 988.02 1140.42 986.74 1138.75 C985.46 1137.08 984.08 1135.42 982.68 1133.75 C981.27 1132.08 979.78 1130.42 978.30 1128.75 C976.82 1127.08 975.29 1125.42 973.79 1123.75 C972.29 1122.08 970.78 1120.42 969.32 1118.75 C967.86 1117.08 966.40 1115.42 965.03 1113.75 C963.66 1112.08 962.34 1110.42 961.11 1108.75 C959.88 1107.08 958.72 1105.42 957.66 1103.75 C956.60 1102.08 955.65 1100.42 954.77 1098.75 C953.89 1097.08 953.09 1095.42 952.38 1093.75 C951.68 1092.08 951.07 1090.42 950.53 1088.75 C949.98 1087.08 949.51 1085.42 949.13 1083.75 C948.74 1082.08 948.44 1080.42 948.20 1078.75 C947.97 1077.08 947.80 1075.42 947.70 1073.75 C947.61 1072.08 947.59 1070.42 947.63 1068.75 C947.67 1067.08 947.77 1065.42 947.93 1063.75 C948.10 1062.08 948.34 1060.42 948.63 1058.75 C948.91 1057.08 949.25 1055.42 949.65 1053.75 C950.05 1052.08 950.52 1050.42 951.03 1048.75 C951.53 1047.08 952.09 1045.42 952.69 1043.75 C953.30 1042.08 953.96 1040.42 954.66 1038.75 C955.35 1037.08 956.09 1035.42 956.87 1033.75 C957.65 1032.08 958.48 1030.42 959.34 1028.75 C960.20 1027.08 961.09 1025.42 962.02 1023.75 C962.95 1022.08 963.91 1020.42 964.90 1018.75 C965.89 1017.08 966.91 1015.42 967.94 1013.75 C968.98 1012.08 970.04 1010.42 971.11 1008.75 C972.17 1007.08 973.25 1005.42 974.31 1003.75 C975.38 1002.08 976.45 1000.42 977.49 998.75 C978.54 997.08 979.58 995.42 980.58 993.75 C981.57 992.08 982.55 990.42 983.47 988.75 C984.40 987.08 985.29 985.42 986.12 983.75 C986.95 982.08 987.72 980.42 988.43 978.75 C989.15 977.08 989.81 975.42 990.42 973.75 C991.02 972.08 991.56 970.42 992.06 968.75 C992.56 967.08 993.01 965.42 993.42 963.75 C993.82 962.08 994.17 960.42 994.49 958.75 C994.81 957.08 995.08 955.42 995.32 953.75 C995.56 952.08 995.76 950.42 995.93 948.75 C996.10 947.08 996.24 945.42 996.35 943.75 C996.46 942.08 996.54 940.42 996.60 938.75 C996.66 937.08 996.70 935.42 996.72 933.75 C996.74 932.08 996.74 930.42 996.74 928.75 C996.74 927.08 996.72 925.42 996.70 923.75 C996.68 922.08 996.64 920.42 996.62 918.75 C996.59 917.08 996.56 915.42 996.54 913.75 C996.51 912.08 996.49 910.42 996.48 908.75 C996.46 907.08 996.45 905.42 996.44 903.75 C996.43 902.08 996.43 900.42 996.42 898.75 C996.42 897.08 996.42 895.42 996.41 893.75 C996.41 892.08 996.41 890.42 996.40 888.75 C996.39 887.08 996.38 885.42 996.37 883.75 C996.36 882.08 996.34 880.42 996.32 878.75 C996.29 877.08 996.26 875.42 996.23 873.75 C996.19 872.08 996.14 870.42 996.09 868.75 C996.03 867.08 995.97 865.42 995.89 863.75 C995.82 862.08 995.73 860.42 995.63 858.75 C995.54 857.08 995.43 855.42 995.31 853.75 C995.19 852.08 995.06 850.42 994.92 848.75 C994.78 847.08 994.63 845.42 994.47 843.75 C994.30 842.08 994.13 840.42 993.95 838.75 C993.77 837.08 993.58 835.42 993.39 833.75 C993.19 832.08 992.98 830.42 992.76 828.75 C992.55 827.08 992.32 825.42 992.09 823.75 C991.86 822.08 991.62 820.42 991.37 818.75 C991.12 817.08 990.86 815.42 990.60 813.75 C990.34 812.08 990.06 810.42 989.79 808.75 C989.51 807.08 989.22 805.42 988.93 803.75 C988.64 802.08 988.34 800.42 988.04 798.75 C987.74 797.08 987.43 795.42 987.11 793.75 C986.80 792.08 986.47 790.42 986.15 788.75 C985.82 787.08 985.49 785.42 985.15 783.75 C984.82 782.08 984.47 780.42 984.13 778.75 C983.78 777.08 983.43 775.42 983.08 773.75 C982.72 772.08 982.36 770.42 982.00 768.75 C981.64 767.08 981.28 765.42 980.91 763.75 C980.54 762.08 980.17 760.42 979.79 758.75 C979.42 757.08 979.04 755.42 978.66 753.75 C978.28 752.08 977.90 750.42 977.52 748.75 C977.13 747.08 976.75 745.42 976.36 743.75 C975.97 742.08 975.58 740.42 975.19 738.75 C974.81 737.08 974.41 735.42 974.02 733.75 C973.63 732.08 973.24 730.42 972.85 728.75 C972.45 727.08 972.06 725.42 971.67 723.75 C971.28 722.08 970.88 720.42 970.49 718.75 C970.10 717.08 969.71 715.42 969.32 713.75 C968.93 712.08 968.54 710.42 968.15 708.75 C967.76 707.08 967.38 705.42 966.99 703.75 C966.61 702.08 966.23 700.42 965.85 698.75 C965.46 697.08 965.09 695.42 964.71 693.75 C964.33 692.08 963.96 690.42 963.59 688.75 C963.22 687.08 962.85 685.42 962.49 683.75 C962.13 682.08 961.77 680.42 961.41 678.75 C961.06 677.08 960.70 675.42 960.35 673.75 C960.01 672.08 959.66 670.42 959.32 668.75 C958.98 667.08 958.65 665.42 958.32 663.75 C957.99 662.08 957.67 660.42 957.34 658.75 C957.02 657.08 956.71 655.42 956.40 653.75 C956.08 652.08 955.78 650.42 955.47 648.75 C955.17 647.08 954.87 645.42 954.58 643.75 C954.28 642.08 954.00 640.42 953.71 638.75 C953.43 637.08 953.14 635.42 952.87 633.75 C952.59 632.08 952.32 630.42 952.05 628.75 C951.78 627.08 951.52 625.42 951.26 623.75 C951.00 622.08 950.75 620.42 950.49 618.75 C950.24 617.08 950.00 615.42 949.75 613.75 C949.51 612.08 949.27 610.42 949.04 608.75 C948.80 607.08 948.57 605.42 948.34 603.75 C948.11 602.08 947.89 600.42 947.67 598.75 C947.45 597.08 947.24 595.42 947.03 593.75 C946.81 592.08 946.61 590.42 946.40 588.75 C946.20 587.08 946.00 585.42 945.80 583.75 C945.61 582.08 945.41 580.42 945.22 578.75 C945.04 577.08 944.85 575.42 944.67 573.75 C944.49 572.08 944.31 570.42 944.13 568.75 C943.96 567.08 943.79 565.42 943.62 563.75 C943.45 562.08 943.29 560.42 943.13 558.75 C942.97 557.08 942.81 555.42 942.66 553.75 C942.50 552.08 942.35 550.42 942.20 548.75 C942.06 547.08 941.91 545.42 941.77 543.75 C941.63 542.08 941.49 540.42 941.36 538.75 C941.23 537.08 941.10 535.42 940.97 533.75 C940.84 532.08 940.72 530.42 940.59 528.75 C940.47 527.08 940.35 525.42 940.24 523.75 C940.12 522.08 940.01 520.42 939.90 518.75 C939.79 517.08 939.69 515.42 939.58 513.75 C939.48 512.08 939.38 510.42 939.28 508.75 C939.18 507.08 939.09 505.42 939.00 503.75 C938.90 502.08 938.81 500.42 938.73 498.75 C938.64 497.08 938.56 495.42 938.48 493.75 C938.40 492.08 938.32 490.42 938.24 488.75 C938.17 487.08 938.09 485.42 938.02 483.75 C937.95 482.08 937.88 480.42 937.82 478.75 C937.75 477.08 937.69 475.42 937.63 473.75 C937.57 472.08 937.51 470.42 937.46 468.75 C937.40 467.08 937.34 465.42 937.30 463.75 C937.26 462.08 937.23 460.42 937.22 458.75 C937.21 457.08 937.22 455.42 937.22 453.75 C937.22 452.08 937.22 450.42 937.22 448.75 C937.22 447.08 937.22 445.42 937.22 443.75 C937.22 442.08 937.22 440.42 937.22 438.75 C937.22 437.08 937.22 435.42 937.22 433.75 C937.22 432.08 937.22 430.42 937.22 428.75 C937.22 427.08 937.22 425.42 937.22 423.75 C937.22 422.08 937.22 420.42 937.22 418.75 C937.22 417.08 937.22 415.42 937.22 413.75 C937.22 412.08 937.22 410.42 937.22 408.75 C937.22 407.08 937.22 405.42 937.22 403.75 C937.22 402.08 937.22 400.42 937.22 398.75 C937.22 397.08 937.22 395.42 937.22 393.75 C937.22 392.08 937.22 390.42 937.22 388.75 C937.22 387.08 937.22 385.42 937.22 383.75 C937.22 382.08 937.22 380.42 937.22 378.75 C937.22 377.08 937.22 375.42 937.22 373.75 C937.22 372.08 937.22 370.42 937.22 368.75 C937.22 367.08 937.22 365.42 937.22 363.75 C937.22 362.08 937.22 360.42 937.22 358.75 C937.22 357.08 937.22 355.42 937.22 353.75 C937.22 352.08 937.22 350.42 937.22 348.75 C937.22 347.08 937.22 345.42 937.22 343.75 C937.22 342.08 937.22 340.42 937.22 338.75 C937.22 337.08 937.22 334.58 937.22 333.75Z"/>
<path fill="#436EEE" d="M1084.37 242.45 C1084.37 243.28 1084.37 245.78 1084.36 247.45 C1084.36 249.12 1084.35 250.78 1084.35 252.45 C1084.34 254.12 1084.33 255.78 1084.32 257.45 C1084.31 259.12 1084.30 260.78 1084.29 262.45 C1084.27 264.12 1084.26 265.78 1084.24 267.45 C1084.23 269.12 1084.21 270.78 1084.19 272.45 C1084.17 274.12 1084.15 275.78 1084.13 277.45 C1084.10 279.12 1084.08 280.78 1084.05 282.45 C1084.03 284.12 1084.00 285.78 1083.97 287.45 C1083.94 289.12 1083.91 290.78 1083.88 292.45 C1083.84 294.12 1083.81 295.78 1083.78 297.45 C1083.74 299.12 1083.70 300.78 1083.66 302.45 C1083.63 304.12 1083.59 305.78 1083.54 307.45 C1083.50 309.12 1083.46 310.78 1083.41 312.45 C1083.37 314.12 1083.32 315.78 1083.28 317.45 C1083.23 319.12 1083.18 320.78 1083.13 322.45 C1083.08 324.12 1083.03 325.78 1082.97 327.45 C1082.92 329.12 1082.86 330.78 1082.81 332.45 C1082.75 334.12 1082.69 335.78 1082.63 337.45 C1082.57 339.12 1082.51 340.78 1082.45 342.45 C1082.39 344.12 1082.32 345.78 1082.26 347.45 C1082.19 349.12 1082.13 350.78 1082.06 352.45 C1081.99 354.12 1081.92 355.78 1081.85 357.45 C1081.78 359.12 1081.71 360.78 1081.63 362.45 C1081.56 364.12 1081.48 365.78 1081.41 367.45 C1081.33 369.12 1081.25 370.78 1081.17 372.45 C1081.09 374.12 1081.01 375.78 1080.93 377.45 C1080.85 379.12 1080.77 380.78 1080.68 382.45 C1080.60 384.12 1080.51 385.78 1080.42 387.45 C1080.34 389.12 1080.25 390.78 1080.16 392.45 C1080.07 394.12 1079.97 395.78 1079.88 397.45 C1079.79 399.12 1079.70 400.78 1079.60 402.45 C1079.50 404.12 1079.41 405.78 1079.31 407.45 C1079.21 409.12 1079.11 410.78 1079.01 412.45 C1078.91 414.12 1078.81 415.78 1078.71 417.45 C1078.60 419.12 1078.50 420.78 1078.39 422.45 C1078.29 424.12 1078.18 425.78 1078.07 427.45 C1077.96 429.12 1077.85 430.78 1077.74 432.45 C1077.63 434.12 1077.52 435.78 1077.41 437.45 C1077.29 439.12 1077.18 440.78 1077.06 442.45 C1076.95 444.12 1076.83 445.78 1076.71 447.45 C1076.59 449.12 1076.47 450.78 1076.35 452.45 C1076.23 454.12 1076.11 455.78 1075.99 457.45 C1075.87 459.12 1075.74 460.78 1075.62 462.45 C1075.49 464.12 1075.36 465.78 1075.24 467.45 C1075.11 469.12 1074.98 470.78 1074.85 472.45 C1074.72 474.12 1074.59 475.78 1074.46 477.45 C1074.32 479.12 1074.19 480.78 1074.06 482.45 C1073.92 484.12 1073.79 485.78 1073.65 487.45 C1073.51 489.12 1073.38 490.78 1073.24 492.45 C1073.10 494.12 1072.96 495.78 1072.82 497.45 C1072.67 499.12 1072.53 500.78 1072.39 502.45 C1072.25 504.12 1072.10 505.78 1071.96 507.45 C1071.81 509.12 1071.66 510.78 1071.52 512.45 C1071.37 514.12 1071.22 515.78 1071.07 517.45 C1070.92 519.12 1070.77 520.78 1070.62 522.45 C1070.47 524.12 1070.31 525.78 1070.16 527.45 C1070.00 529.12 1069.85 530.78 1069.69 532.45 C1069.54 534.12 1069.38 535.78 1069.22 537.45 C1069.06 539.12 1068.91 540.78 1068.75 542.45 C1068.59 544.12 1068.42 545.78 1068.26 547.45 C1068.10 549.12 1067.94 550.78 1067.77 552.45 C1067.61 554.12 1067.45 555.78 1067.28 557.45 C1067.11 559.12 1066.95 560.78 1066.78 562.45 C1066.61 564.12 1066.44 565.78 1066.27 567.45 C1066.10 569.12 1065.93 570.78 1065.76 572.45 C1065.59 574.12 1065.42 575.78 1065.24 577.45 C1065.07 579.12 1064.90 580.78 1064.72 582.45 C1064.55 584.12 1064.37 585.78 1064.19 587.45 C1064.02 589.12 1063.84 590.78 1063.66 592.45 C1063.48 594.12 1063.30 595.78 1063.12 597.45 C1062.94 599.12 1062.76 600.78 1062.58 602.45 C1062.39 604.12 1062.21 605.78 1062.03 607.45 C1061.84 609.12 1061.66 610.78 1061.47 612.45 C1061.29 614.12 1061.10 615.78 1060.91 617.45 C1060.73 619.12 1060.54 620.78 1060.35 622.45 C1060.16 624.12 1059.97 625.78 1059.78 627.45 C1059.59 629.12 1059.40 630.78 1059.21 632.45 C1059.01 634.12 1058.82 635.78 1058.63 637.45 C1058.43 639.12 1058.24 640.78 1058.04 642.45 C1057.85 644.12 1057.65 645.78 1057.45 647.45 C1057.26 649.12 1057.06 650.78 1056.86 652.45 C1056.66 654.12 1056.46 655.78 1056.26 657.45 C1056.06 659.12 1055.86 660.78 1055.66 662.45 C1055.46 664.12 1055.25 665.78 1055.05 667.45 C1054.84 669.12 1054.64 670.78 1054.43 672.45 C1054.23 674.12 1054.02 675.78 1053.81 677.45 C1053.61 679.12 1053.40 680.78 1053.19 682.45 C1052.98 684.12 1052.77 685.78 1052.56 687.45 C1052.35 689.12 1052.14 690.78 1051.93 692.45 C1051.71 694.12 1051.50 695.78 1051.29 697.45 C1051.07 699.12 1050.86 700.78 1050.64 702.45 C1050.43 704.12 1050.21 705.78 1049.99 707.45 C1049.78 709.12 1049.56 710.78 1049.34 712.45 C1049.12 714.12 1048.90 715.78 1048.68 717.45 C1048.46 719.12 1048.24 720.78 1048.01 722.45 C1047.79 724.12 1047.57 725.78 1047.34 727.45 C1047.12 729.12 1046.89 730.78 1046.67 732.45 C1046.45 734.12 1046.22 735.78 1046.00 737.45 C1045.77 739.12 1045.55 740.78 1045.33 742.45 C1045.11 744.12 1044.89 745.78 1044.68 747.45 C1044.46 749.12 1044.25 750.78 1044.03 752.45 C1043.82 754.12 1043.62 755.78 1043.41 757.45 C1043.21 759.12 1043.01 760.78 1042.82 762.45 C1042.62 764.12 1042.43 765.78 1042.25 767.45 C1042.07 769.12 1041.89 770.78 1041.71 772.45 C1041.54 774.12 1041.38 775.78 1041.22 777.45 C1041.06 779.12 1040.91 780.78 1040.76 782.45 C1040.62 784.12 1040.48 785.78 1040.36 787.45 C1040.23 789.12 1040.11 790.78 1040.00 792.45 C1039.89 794.12 1039.79 795.78 1039.71 797.45 C1039.62 799.12 1039.54 800.78 1039.47 802.45 C1039.40 804.12 1039.34 805.78 1039.30 807.45 C1039.25 809.12 1039.22 810.78 1039.20 812.45 C1039.18 814.12 1039.17 815.78 1039.17 817.45 C1039.18 819.12 1039.19 820.78 1039.22 822.45 C1039.25 824.12 1039.29 825.78 1039.35 827.45 C1039.40 829.12 1039.47 830.78 1039.54 832.45 C1039.62 834.12 1039.72 835.78 1039.82 837.45 C1039.92 839.12 1040.03 840.78 1040.16 842.45 C1040.29 844.12 1040.43 845.78 1040.58 847.45 C1040.73 849.12 1040.89 850.78 1041.07 852.45 C1041.24 854.12 1041.43 855.78 1041.63 857.45 C1041.83 859.12 1042.04 860.78 1042.26 862.45 C1042.48 864.12 1042.72 865.78 1042.96 867.45 C1043.21 869.12 1043.46 870.78 1043.73 872.45 C1044.00 874.12 1044.28 875.78 1044.57 877.45 C1044.86 879.12 1045.17 880.78 1045.48 882.45 C1045.79 884.12 1046.12 885.78 1046.46 887.45 C1046.79 889.12 1047.14 890.78 1047.50 892.45 C1047.86 894.12 1048.23 895.78 1048.61 897.45 C1048.99 899.12 1049.38 900.78 1049.78 902.45 C1050.19 904.12 1050.60 905.78 1051.03 907.45 C1051.45 909.12 1051.89 910.78 1052.33 912.45 C1052.78 914.12 1053.23 915.78 1053.70 917.45 C1054.16 919.12 1054.64 920.78 1055.12 922.45 C1055.59 924.12 1056.08 925.78 1056.57 927.45 C1057.07 929.12 1057.56 930.78 1058.06 932.45 C1058.56 934.12 1059.07 935.78 1059.57 937.45 C1060.07 939.12 1060.58 940.78 1061.09 942.45 C1061.59 944.12 1062.10 945.78 1062.60 947.45 C1063.10 949.12 1063.60 950.78 1064.10 952.45 C1064.59 954.12 1065.08 955.78 1065.57 957.45 C1066.05 959.12 1066.53 960.78 1067.01 962.45 C1067.48 964.12 1067.94 965.78 1068.39 967.45 C1068.85 969.12 1069.30 970.78 1069.73 972.45 C1070.16 974.12 1070.58 975.78 1070.99 977.45 C1071.40 979.12 1071.80 980.78 1072.18 982.45 C1072.56 984.12 1072.92 985.78 1073.27 987.45 C1073.62 989.12 1073.95 990.78 1074.26 992.45 C1074.58 994.12 1074.87 995.78 1075.14 997.45 C1075.42 999.12 1075.67 1000.78 1075.91 1002.45 C1076.14 1004.12 1076.35 1005.78 1076.53 1007.45 C1076.72 1009.12 1076.89 1010.78 1077.02 1012.45 C1077.16 1014.12 1077.28 1015.78 1077.36 1017.45 C1077.45 1019.12 1077.52 1020.78 1077.55 1022.45 C1077.58 1024.12 1077.59 1025.78 1077.57 1027.45 C1077.54 1029.12 1077.50 1030.78 1077.42 1032.45 C1077.34 1034.12 1077.22 1035.78 1077.08 1037.45 C1076.93 1039.12 1076.77 1040.78 1076.56 1042.45 C1076.35 1044.12 1076.11 1045.78 1075.83 1047.45 C1075.56 1049.12 1075.25 1050.78 1074.91 1052.45 C1074.56 1054.12 1074.18 1055.78 1073.76 1057.45 C1073.34 1059.12 1072.89 1060.78 1072.40 1062.45 C1071.90 1064.12 1071.37 1065.78 1070.80 1067.45 C1070.22 1069.12 1069.62 1070.78 1068.96 1072.45 C1068.31 1074.12 1067.61 1075.78 1066.87 1077.45 C1066.14 1079.12 1065.36 1080.78 1064.54 1082.45 C1063.71 1084.12 1062.84 1085.78 1061.93 1087.45 C1061.01 1089.12 1060.06 1090.78 1059.06 1092.45 C1058.07 1094.12 1057.02 1095.78 1055.96 1097.45 C1054.89 1099.12 1053.80 1100.78 1052.69 1102.45 C1051.58 1104.12 1050.44 1105.78 1049.30 1107.45 C1048.16 1109.12 1047.01 1110.78 1045.87 1112.45 C1044.73 1114.12 1043.58 1115.78 1042.45 1117.45 C1041.32 1119.12 1040.20 1120.78 1039.11 1122.45 C1038.02 1124.12 1036.95 1125.78 1035.91 1127.45 C1034.88 1129.12 1033.87 1130.78 1032.92 1132.45 C1031.97 1134.12 1031.07 1135.78 1030.22 1137.45 C1029.37 1139.12 1028.57 1140.78 1027.85 1142.45 C1027.13 1144.12 1026.47 1145.78 1025.90 1147.45 C1025.33 1149.12 1024.82 1150.78 1024.42 1152.45 C1024.03 1154.12 1023.73 1155.86 1023.52 1157.45 C1023.31 1159.04 1023.22 1161.24 1023.16 1162.00 L1146.50 1162.00 C1146.44 1161.24 1146.35 1159.04 1146.14 1157.45 C1145.93 1155.86 1145.63 1154.12 1145.24 1152.45 C1144.84 1150.78 1144.33 1149.12 1143.76 1147.45 C1143.19 1145.78 1142.53 1144.12 1141.81 1142.45 C1141.09 1140.78 1140.29 1139.12 1139.44 1137.45 C1138.59 1135.78 1137.69 1134.12 1136.74 1132.45 C1135.79 1130.78 1134.78 1129.12 1133.75 1127.45 C1132.71 1125.78 1131.64 1124.12 1130.55 1122.45 C1129.46 1120.78 1128.34 1119.12 1127.21 1117.45 C1126.08 1115.78 1124.93 1114.12 1123.79 1112.45 C1122.65 1110.78 1121.50 1109.12 1120.36 1107.45 C1119.22 1105.78 1118.08 1104.12 1116.97 1102.45 C1115.86 1100.78 1114.77 1099.12 1113.70 1097.45 C1112.64 1095.78 1111.59 1094.12 1110.60 1092.45 C1109.60 1090.78 1108.65 1089.12 1107.73 1087.45 C1106.82 1085.78 1105.95 1084.12 1105.12 1082.45 C1104.30 1080.78 1103.52 1079.12 1102.79 1077.45 C1102.05 1075.78 1101.35 1074.12 1100.70 1072.45 C1100.04 1070.78 1099.44 1069.12 1098.86 1067.45 C1098.29 1065.78 1097.76 1064.12 1097.26 1062.45 C1096.77 1060.78 1096.32 1059.12 1095.90 1057.45 C1095.48 1055.78 1095.10 1054.12 1094.75 1052.45 C1094.41 1050.78 1094.10 1049.12 1093.83 1047.45 C1093.55 1045.78 1093.31 1044.12 1093.10 1042.45 C1092.89 1040.78 1092.73 1039.12 1092.58 1037.45 C1092.44 1035.78 1092.32 1034.12 1092.24 1032.45 C1092.16 1030.78 1092.12 1029.12 1092.09 1027.45 C1092.07 1025.78 1092.08 1024.12 1092.11 1022.45 C1092.14 1020.78 1092.21 1019.12 1092.30 1017.45 C1092.38 1015.78 1092.50 1014.12 1092.64 1012.45 C1092.77 1010.78 1092.94 1009.12 1093.13 1007.45 C1093.31 1005.78 1093.52 1004.12 1093.75 1002.45 C1093.99 1000.78 1094.24 999.12 1094.52 997.45 C1094.79 995.78 1095.08 994.12 1095.40 992.45 C1095.71 990.78 1096.04 989.12 1096.39 987.45 C1096.74 985.78 1097.10 984.12 1097.48 982.45 C1097.86 980.78 1098.26 979.12 1098.67 977.45 C1099.08 975.78 1099.50 974.12 1099.93 972.45 C1100.36 970.78 1100.81 969.12 1101.27 967.45 C1101.72 965.78 1102.18 964.12 1102.65 962.45 C1103.13 960.78 1103.61 959.12 1104.09 957.45 C1104.58 955.78 1105.07 954.12 1105.56 952.45 C1106.06 950.78 1106.56 949.12 1107.06 947.45 C1107.56 945.78 1108.07 944.12 1108.57 942.45 C1109.08 940.78 1109.59 939.12 1110.09 937.45 C1110.59 935.78 1111.10 934.12 1111.60 932.45 C1112.10 930.78 1112.59 929.12 1113.09 927.45 C1113.58 925.78 1114.07 924.12 1114.54 922.45 C1115.02 920.78 1115.50 919.12 1115.96 917.45 C1116.43 915.78 1116.88 914.12 1117.33 912.45 C1117.77 910.78 1118.21 909.12 1118.63 907.45 C1119.06 905.78 1119.47 904.12 1119.88 902.45 C1120.28 900.78 1120.67 899.12 1121.05 897.45 C1121.43 895.78 1121.80 894.12 1122.16 892.45 C1122.52 890.78 1122.87 889.12 1123.20 887.45 C1123.54 885.78 1123.87 884.12 1124.18 882.45 C1124.49 880.78 1124.80 879.12 1125.09 877.45 C1125.38 875.78 1125.66 874.12 1125.93 872.45 C1126.20 870.78 1126.45 869.12 1126.70 867.45 C1126.94 865.78 1127.18 864.12 1127.40 862.45 C1127.62 860.78 1127.83 859.12 1128.03 857.45 C1128.23 855.78 1128.42 854.12 1128.59 852.45 C1128.77 850.78 1128.93 849.12 1129.08 847.45 C1129.23 845.78 1129.37 844.12 1129.50 842.45 C1129.63 840.78 1129.74 839.12 1129.84 837.45 C1129.94 835.78 1130.04 834.12 1130.12 832.45 C1130.19 830.78 1130.26 829.12 1130.31 827.45 C1130.37 825.78 1130.41 824.12 1130.44 822.45 C1130.47 820.78 1130.48 819.12 1130.49 817.45 C1130.49 815.78 1130.48 814.12 1130.46 812.45 C1130.44 810.78 1130.41 809.12 1130.36 807.45 C1130.32 805.78 1130.26 804.12 1130.19 802.45 C1130.12 800.78 1130.04 799.12 1129.95 797.45 C1129.87 795.78 1129.77 794.12 1129.66 792.45 C1129.55 790.78 1129.43 789.12 1129.30 787.45 C1129.18 785.78 1129.04 784.12 1128.90 782.45 C1128.75 780.78 1128.60 779.12 1128.44 777.45 C1128.28 775.78 1128.12 774.12 1127.95 772.45 C1127.77 770.78 1127.59 769.12 1127.41 767.45 C1127.23 765.78 1127.04 764.12 1126.84 762.45 C1126.65 760.78 1126.45 759.12 1126.25 757.45 C1126.04 755.78 1125.84 754.12 1125.63 752.45 C1125.41 750.78 1125.20 749.12 1124.98 747.45 C1124.77 745.78 1124.55 744.12 1124.33 742.45 C1124.11 740.78 1123.89 739.12 1123.66 737.45 C1123.44 735.78 1123.21 734.12 1122.99 732.45 C1122.77 730.78 1122.54 729.12 1122.32 727.45 C1122.09 725.78 1121.87 724.12 1121.65 722.45 C1121.42 720.78 1121.20 719.12 1120.98 717.45 C1120.76 715.78 1120.54 714.12 1120.32 712.45 C1120.10 710.78 1119.88 709.12 1119.67 707.45 C1119.45 705.78 1119.23 704.12 1119.02 702.45 C1118.80 700.78 1118.59 699.12 1118.37 697.45 C1118.16 695.78 1117.95 694.12 1117.73 692.45 C1117.52 690.78 1117.31 689.12 1117.10 687.45 C1116.89 685.78 1116.68 684.12 1116.47 682.45 C1116.26 680.78 1116.05 679.12 1115.85 677.45 C1115.64 675.78 1115.43 674.12 1115.23 672.45 C1115.02 670.78 1114.82 669.12 1114.61 667.45 C1114.41 665.78 1114.20 664.12 1114.00 662.45 C1113.80 660.78 1113.60 659.12 1113.40 657.45 C1113.20 655.78 1113.00 654.12 1112.80 652.45 C1112.60 650.78 1112.40 649.12 1112.21 647.45 C1112.01 645.78 1111.81 644.12 1111.62 642.45 C1111.42 640.78 1111.23 639.12 1111.03 637.45 C1110.84 635.78 1110.65 634.12 1110.45 632.45 C1110.26 630.78 1110.07 629.12 1109.88 627.45 C1109.69 625.78 1109.50 624.12 1109.31 622.45 C1109.12 620.78 1108.93 619.12 1108.75 617.45 C1108.56 615.78 1108.37 614.12 1108.19 612.45 C1108.00 610.78 1107.82 609.12 1107.63 607.45 C1107.45 605.78 1107.27 604.12 1107.08 602.45 C1106.90 600.78 1106.72 599.12 1106.54 597.45 C1106.36 595.78 1106.18 594.12 1106.00 592.45 C1105.82 590.78 1105.64 589.12 1105.47 587.45 C1105.29 585.78 1105.11 584.12 1104.94 582.45 C1104.76 580.78 1104.59 579.12 1104.42 577.45 C1104.24 575.78 1104.07 574.12 1103.90 572.45 C1103.73 570.78 1103.56 569.12 1103.39 567.45 C1103.22 565.78 1103.05 564.12 1102.88 562.45 C1102.71 560.78 1102.55 559.12 1102.38 557.45 C1102.21 555.78 1102.05 554.12 1101.89 552.45 C1101.72 550.78 1101.56 549.12 1101.40 547.45 C1101.24 545.78 1101.07 544.12 1100.91 542.45 C1100.75 540.78 1100.60 539.12 1100.44 537.45 C1100.28 535.78 1100.12 534.12 1099.97 532.45 C1099.81 530.78 1099.66 529.12 1099.50 527.45 C1099.35 525.78 1099.19 524.12 1099.04 522.45 C1098.89 520.78 1098.74 519.12 1098.59 517.45 C1098.44 515.78 1098.29 514.12 1098.14 512.45 C1098.00 510.78 1097.85 509.12 1097.70 507.45 C1097.56 505.78 1097.41 504.12 1097.27 502.45 C1097.13 500.78 1096.99 499.12 1096.84 497.45 C1096.70 495.78 1096.56 494.12 1096.42 492.45 C1096.28 490.78 1096.15 489.12 1096.01 487.45 C1095.87 485.78 1095.74 484.12 1095.60 482.45 C1095.47 480.78 1095.34 479.12 1095.20 477.45 C1095.07 475.78 1094.94 474.12 1094.81 472.45 C1094.68 470.78 1094.55 469.12 1094.42 467.45 C1094.30 465.78 1094.17 464.12 1094.04 462.45 C1093.92 460.78 1093.79 459.12 1093.67 457.45 C1093.55 455.78 1093.43 454.12 1093.31 452.45 C1093.19 450.78 1093.07 449.12 1092.95 447.45 C1092.83 445.78 1092.71 444.12 1092.60 442.45 C1092.48 440.78 1092.37 439.12 1092.25 437.45 C1092.14 435.78 1092.03 434.12 1091.92 432.45 C1091.81 430.78 1091.70 429.12 1091.59 427.45 C1091.48 425.78 1091.37 424.12 1091.27 422.45 C1091.16 420.78 1091.06 419.12 1090.95 417.45 C1090.85 415.78 1090.75 414.12 1090.65 412.45 C1090.55 410.78 1090.45 409.12 1090.35 407.45 C1090.25 405.78 1090.16 404.12 1090.06 402.45 C1089.96 400.78 1089.87 399.12 1089.78 397.45 C1089.69 395.78 1089.59 394.12 1089.50 392.45 C1089.41 390.78 1089.32 389.12 1089.24 387.45 C1089.15 385.78 1089.06 384.12 1088.98 382.45 C1088.89 380.78 1088.81 379.12 1088.73 377.45 C1088.65 375.78 1088.57 374.12 1088.49 372.45 C1088.41 370.78 1088.33 369.12 1088.25 367.45 C1088.18 365.78 1088.10 364.12 1088.03 362.45 C1087.95 360.78 1087.88 359.12 1087.81 357.45 C1087.74 355.78 1087.67 354.12 1087.60 352.45 C1087.53 350.78 1087.47 349.12 1087.40 347.45 C1087.34 345.78 1087.27 344.12 1087.21 342.45 C1087.15 340.78 1087.09 339.12 1087.03 337.45 C1086.97 335.78 1086.91 334.12 1086.85 332.45 C1086.80 330.78 1086.74 329.12 1086.69 327.45 C1086.63 325.78 1086.58 324.12 1086.53 322.45 C1086.48 320.78 1086.43 319.12 1086.38 317.45 C1086.34 315.78 1086.29 314.12 1086.25 312.45 C1086.20 310.78 1086.16 309.12 1086.12 307.45 C1086.07 305.78 1086.03 304.12 1086.00 302.45 C1085.96 300.78 1085.92 299.12 1085.88 297.45 C1085.85 295.78 1085.82 294.12 1085.78 292.45 C1085.75 290.78 1085.72 289.12 1085.69 287.45 C1085.66 285.78 1085.63 284.12 1085.61 282.45 C1085.58 280.78 1085.56 279.12 1085.53 277.45 C1085.51 275.78 1085.49 274.12 1085.47 272.45 C1085.45 270.78 1085.43 269.12 1085.42 267.45 C1085.40 265.78 1085.39 264.12 1085.37 262.45 C1085.36 260.78 1085.35 259.12 1085.34 257.45 C1085.33 255.78 1085.32 254.12 1085.31 252.45 C1085.31 250.78 1085.30 249.12 1085.30 247.45 C1085.29 245.78 1085.29 243.28 1085.29 242.45Z"/>
<path fill="#FF3030" d="M1203.21 302.45 C1203.18 303.28 1203.10 305.78 1203.03 307.45 C1202.96 309.12 1202.88 310.78 1202.81 312.45 C1202.74 314.12 1202.67 315.78 1202.61 317.45 C1202.54 319.12 1202.48 320.78 1202.42 322.45 C1202.36 324.12 1202.30 325.78 1202.24 327.45 C1202.19 329.12 1202.13 330.78 1202.08 332.45 C1202.02 334.12 1201.97 335.78 1201.92 337.45 C1201.87 339.12 1201.82 340.78 1201.78 342.45 C1201.73 344.12 1201.68 345.78 1201.64 347.45 C1201.59 349.12 1201.54 350.78 1201.50 352.45 C1201.45 354.12 1201.41 355.78 1201.36 357.45 C1201.32 359.12 1201.27 360.78 1201.23 362.45 C1201.18 364.12 1201.14 365.78 1201.09 367.45 C1201.04 369.12 1201.00 370.78 1200.95 372.45 C1200.90 374.12 1200.85 375.78 1200.80 377.45 C1200.75 379.12 1200.70 380.78 1200.64 382.45 C1200.59 384.12 1200.53 385.78 1200.48 387.45 C1200.42 389.12 1200.36 390.78 1200.30 392.45 C1200.24 394.12 1200.17 395.78 1200.10 397.45 C1200.04 399.12 1199.97 400.78 1199.90 402.45 C1199.82 404.12 1199.75 405.78 1199.67 407.45 C1199.59 409.12 1199.51 410.78 1199.42 412.45 C1199.34 414.12 1199.25 415.78 1199.15 417.45 C1199.06 419.12 1198.96 420.78 1198.86 422.45 C1198.76 424.12 1198.65 425.78 1198.54 427.45 C1198.43 429.12 1198.32 430.78 1198.20 432.45 C1198.08 434.12 1197.95 435.78 1197.82 437.45 C1197.69 439.12 1197.55 440.78 1197.41 442.45 C1197.27 444.12 1197.12 445.78 1196.97 447.45 C1196.82 449.12 1196.66 450.78 1196.49 452.45 C1196.33 454.12 1196.16 455.78 1195.98 457.45 C1195.80 459.12 1195.61 460.78 1195.42 462.45 C1195.23 464.12 1195.03 465.78 1194.83 467.45 C1194.62 469.12 1194.41 470.78 1194.19 472.45 C1193.97 474.12 1193.74 475.78 1193.50 477.45 C1193.26 479.12 1193.02 480.78 1192.77 482.45 C1192.51 484.12 1192.25 485.78 1191.98 487.45 C1191.72 489.12 1191.44 490.78 1191.16 492.45 C1190.87 494.12 1190.58 495.78 1190.28 497.45 C1189.98 499.12 1189.68 500.78 1189.37 502.45 C1189.06 504.12 1188.74 505.78 1188.42 507.45 C1188.10 509.12 1187.78 510.78 1187.45 512.45 C1187.12 514.12 1186.78 515.78 1186.45 517.45 C1186.11 519.12 1185.77 520.78 1185.43 522.45 C1185.09 524.12 1184.74 525.78 1184.40 527.45 C1184.05 529.12 1183.70 530.78 1183.36 532.45 C1183.01 534.12 1182.66 535.78 1182.31 537.45 C1181.96 539.12 1181.62 540.78 1181.27 542.45 C1180.92 544.12 1180.58 545.78 1180.23 547.45 C1179.89 549.12 1179.55 550.78 1179.21 552.45 C1178.87 554.12 1178.53 555.78 1178.20 557.45 C1177.87 559.12 1177.54 560.78 1177.21 562.45 C1176.89 564.12 1176.57 565.78 1176.25 567.45 C1175.94 569.12 1175.63 570.78 1175.32 572.45 C1175.02 574.12 1174.72 575.78 1174.43 577.45 C1174.14 579.12 1173.86 580.78 1173.58 582.45 C1173.31 584.12 1173.04 585.78 1172.78 587.45 C1172.52 589.12 1172.27 590.78 1172.03 592.45 C1171.79 594.12 1171.56 595.78 1171.33 597.45 C1171.11 599.12 1170.89 600.78 1170.68 602.45 C1170.47 604.12 1170.26 605.78 1170.06 607.45 C1169.86 609.12 1169.67 610.78 1169.48 612.45 C1169.29 614.12 1169.10 615.78 1168.92 617.45 C1168.73 619.12 1168.55 620.78 1168.37 622.45 C1168.19 624.12 1168.01 625.78 1167.83 627.45 C1167.65 629.12 1167.47 630.78 1167.29 632.45 C1167.11 634.12 1166.93 635.78 1166.75 637.45 C1166.56 639.12 1166.38 640.78 1166.19 642.45 C1166.00 644.12 1165.81 645.78 1165.62 647.45 C1165.43 649.12 1165.23 650.78 1165.04 652.45 C1164.84 654.12 1164.64 655.78 1164.44 657.45 C1164.25 659.12 1164.04 660.78 1163.84 662.45 C1163.64 664.12 1163.44 665.78 1163.23 667.45 C1163.03 669.12 1162.83 670.78 1162.62 672.45 C1162.41 674.12 1162.21 675.78 1162.00 677.45 C1161.80 679.12 1161.59 680.78 1161.38 682.45 C1161.18 684.12 1160.97 685.78 1160.76 687.45 C1160.56 689.12 1160.35 690.78 1160.14 692.45 C1159.94 694.12 1159.73 695.78 1159.53 697.45 C1159.32 699.12 1159.12 700.78 1158.91 702.45 C1158.71 704.12 1158.51 705.78 1158.31 707.45 C1158.11 709.12 1157.91 710.78 1157.71 712.45 C1157.51 714.12 1157.32 715.78 1157.12 717.45 C1156.93 719.12 1156.74 720.78 1156.55 722.45 C1156.36 724.12 1156.17 725.78 1155.98 727.45 C1155.80 729.12 1155.61 730.78 1155.43 732.45 C1155.25 734.12 1155.07 735.78 1154.89 737.45 C1154.72 739.12 1154.54 740.78 1154.37 742.45 C1154.19 744.12 1154.02 745.78 1153.85 747.45 C1153.68 749.12 1153.51 750.78 1153.35 752.45 C1153.18 754.12 1153.02 755.78 1152.86 757.45 C1152.69 759.12 1152.53 760.78 1152.37 762.45 C1152.21 764.12 1152.05 765.78 1151.90 767.45 C1151.74 769.12 1151.58 770.78 1151.43 772.45 C1151.27 774.12 1151.12 775.78 1150.97 777.45 C1150.82 779.12 1150.67 780.78 1150.52 782.45 C1150.37 784.12 1150.22 785.78 1150.07 787.45 C1149.92 789.12 1149.78 790.78 1149.63 792.45 C1149.48 794.12 1149.34 795.78 1149.19 797.45 C1149.05 799.12 1148.90 800.78 1148.76 802.45 C1148.62 804.12 1148.47 805.78 1148.33 807.45 C1148.19 809.12 1148.05 810.78 1147.91 812.45 C1147.77 814.12 1147.62 815.78 1147.49 817.45 C1147.35 819.12 1147.21 820.78 1147.07 822.45 C1146.94 824.12 1146.81 825.78 1146.68 827.45 C1146.55 829.12 1146.43 830.78 1146.31 832.45 C1146.20 834.12 1146.09 835.78 1145.99 837.45 C1145.88 839.12 1145.79 840.78 1145.70 842.45 C1145.61 844.12 1145.53 845.78 1145.47 847.45 C1145.40 849.12 1145.34 850.78 1145.30 852.45 C1145.25 854.12 1145.22 855.78 1145.20 857.45 C1145.18 859.12 1145.17 860.78 1145.18 862.45 C1145.19 864.12 1145.21 865.78 1145.25 867.45 C1145.29 869.12 1145.34 870.78 1145.41 872.45 C1145.49 874.12 1145.58 875.78 1145.69 877.45 C1145.80 879.12 1145.92 880.78 1146.07 882.45 C1146.23 884.12 1146.40 885.78 1146.59 887.45 C1146.78 889.12 1146.99 890.78 1147.23 892.45 C1147.47 894.12 1147.74 895.78 1148.03 897.45 C1148.31 899.12 1148.62 900.78 1148.96 902.45 C1149.30 904.12 1149.67 905.78 1150.07 907.45 C1150.46 909.12 1150.88 910.78 1151.33 912.45 C1151.78 914.12 1152.26 915.78 1152.77 917.45 C1153.27 919.12 1153.80 920.78 1154.36 922.45 C1154.91 924.12 1155.49 925.78 1156.09 927.45 C1156.69 929.12 1157.30 930.78 1157.93 932.45 C1158.56 934.12 1159.22 935.78 1159.88 937.45 C1160.54 939.12 1161.22 940.78 1161.90 942.45 C1162.59 944.12 1163.29 945.78 1163.99 947.45 C1164.69 949.12 1165.40 950.78 1166.11 952.45 C1166.83 954.12 1167.55 955.78 1168.26 957.45 C1168.98 959.12 1169.70 960.78 1170.42 962.45 C1171.13 964.12 1171.85 965.78 1172.56 967.45 C1173.27 969.12 1173.97 970.78 1174.67 972.45 C1175.36 974.12 1176.05 975.78 1176.72 977.45 C1177.40 979.12 1178.06 980.78 1178.71 982.45 C1179.36 984.12 1179.99 985.78 1180.61 987.45 C1181.23 989.12 1181.83 990.78 1182.41 992.45 C1182.98 994.12 1183.54 995.78 1184.08 997.45 C1184.61 999.12 1185.12 1000.78 1185.61 1002.45 C1186.10 1004.12 1186.55 1005.78 1186.99 1007.45 C1187.42 1009.12 1187.84 1010.78 1188.22 1012.45 C1188.60 1014.12 1188.95 1015.78 1189.28 1017.45 C1189.61 1019.12 1189.92 1020.78 1190.19 1022.45 C1190.47 1024.12 1190.71 1025.78 1190.93 1027.45 C1191.15 1029.12 1191.35 1030.78 1191.51 1032.45 C1191.67 1034.12 1191.80 1035.78 1191.91 1037.45 C1192.01 1039.12 1192.09 1040.78 1192.14 1042.45 C1192.18 1044.12 1192.20 1045.78 1192.18 1047.45 C1192.17 1049.12 1192.13 1050.78 1192.05 1052.45 C1191.97 1054.12 1191.86 1055.78 1191.72 1057.45 C1191.59 1059.12 1191.42 1060.78 1191.22 1062.45 C1191.02 1064.12 1190.78 1065.78 1190.51 1067.45 C1190.24 1069.12 1189.95 1070.78 1189.62 1072.45 C1189.28 1074.12 1188.91 1075.78 1188.51 1077.45 C1188.11 1079.12 1187.68 1080.78 1187.21 1082.45 C1186.74 1084.12 1186.24 1085.78 1185.70 1087.45 C1185.16 1089.12 1184.59 1090.78 1183.99 1092.45 C1183.39 1094.12 1182.76 1095.78 1182.11 1097.45 C1181.46 1099.12 1180.78 1100.78 1180.10 1102.45 C1179.42 1104.12 1178.71 1105.78 1178.01 1107.45 C1177.31 1109.12 1176.60 1110.78 1175.90 1112.45 C1175.20 1114.12 1174.50 1115.78 1173.81 1117.45 C1173.13 1119.12 1172.44 1120.78 1171.79 1122.45 C1171.14 1124.12 1170.51 1125.78 1169.91 1127.45 C1169.31 1129.12 1168.72 1130.78 1168.19 1132.45 C1167.66 1134.12 1167.16 1135.78 1166.71 1137.45 C1166.27 1139.12 1165.85 1140.78 1165.51 1142.45 C1165.17 1144.12 1164.88 1145.78 1164.66 1147.45 C1164.44 1149.12 1164.27 1150.78 1164.18 1152.45 C1164.10 1154.12 1164.12 1155.86 1164.16 1157.45 C1164.19 1159.04 1164.35 1161.24 1164.38 1162.00 L1246.80 1162.00 C1246.83 1161.24 1246.99 1159.04 1247.02 1157.45 C1247.06 1155.86 1247.08 1154.12 1247.00 1152.45 C1246.91 1150.78 1246.74 1149.12 1246.52 1147.45 C1246.30 1145.78 1246.01 1144.12 1245.67 1142.45 C1245.33 1140.78 1244.91 1139.12 1244.47 1137.45 C1244.02 1135.78 1243.52 1134.12 1242.99 1132.45 C1242.46 1130.78 1241.87 1129.12 1241.27 1127.45 C1240.67 1125.78 1240.04 1124.12 1239.39 1122.45 C1238.74 1120.78 1238.05 1119.12 1237.37 1117.45 C1236.68 1115.78 1235.98 1114.12 1235.28 1112.45 C1234.58 1110.78 1233.87 1109.12 1233.17 1107.45 C1232.47 1105.78 1231.76 1104.12 1231.08 1102.45 C1230.40 1100.78 1229.72 1099.12 1229.07 1097.45 C1228.42 1095.78 1227.79 1094.12 1227.19 1092.45 C1226.59 1090.78 1226.02 1089.12 1225.48 1087.45 C1224.94 1085.78 1224.44 1084.12 1223.97 1082.45 C1223.50 1080.78 1223.07 1079.12 1222.67 1077.45 C1222.27 1075.78 1221.90 1074.12 1221.56 1072.45 C1221.23 1070.78 1220.94 1069.12 1220.67 1067.45 C1220.40 1065.78 1220.16 1064.12 1219.96 1062.45 C1219.76 1060.78 1219.59 1059.12 1219.46 1057.45 C1219.32 1055.78 1219.21 1054.12 1219.13 1052.45 C1219.05 1050.78 1219.01 1049.12 1219.00 1047.45 C1218.98 1045.78 1219.00 1044.12 1219.04 1042.45 C1219.09 1040.78 1219.17 1039.12 1219.27 1037.45 C1219.38 1035.78 1219.51 1034.12 1219.67 1032.45 C1219.83 1030.78 1220.03 1029.12 1220.25 1027.45 C1220.47 1025.78 1220.71 1024.12 1220.99 1022.45 C1221.26 1020.78 1221.57 1019.12 1221.90 1017.45 C1222.23 1015.78 1222.58 1014.12 1222.96 1012.45 C1223.34 1010.78 1223.76 1009.12 1224.19 1007.45 C1224.63 1005.78 1225.08 1004.12 1225.57 1002.45 C1226.06 1000.78 1226.57 999.12 1227.10 997.45 C1227.64 995.78 1228.20 994.12 1228.77 992.45 C1229.35 990.78 1229.95 989.12 1230.57 987.45 C1231.19 985.78 1231.82 984.12 1232.47 982.45 C1233.12 980.78 1233.78 979.12 1234.46 977.45 C1235.13 975.78 1235.82 974.12 1236.51 972.45 C1237.21 970.78 1237.91 969.12 1238.62 967.45 C1239.33 965.78 1240.05 964.12 1240.76 962.45 C1241.48 960.78 1242.20 959.12 1242.92 957.45 C1243.63 955.78 1244.35 954.12 1245.07 952.45 C1245.78 950.78 1246.49 949.12 1247.19 947.45 C1247.89 945.78 1248.59 944.12 1249.28 942.45 C1249.96 940.78 1250.64 939.12 1251.30 937.45 C1251.96 935.78 1252.62 934.12 1253.25 932.45 C1253.88 930.78 1254.49 929.12 1255.09 927.45 C1255.69 925.78 1256.27 924.12 1256.82 922.45 C1257.38 920.78 1257.91 919.12 1258.41 917.45 C1258.92 915.78 1259.40 914.12 1259.85 912.45 C1260.30 910.78 1260.72 909.12 1261.11 907.45 C1261.51 905.78 1261.88 904.12 1262.22 902.45 C1262.56 900.78 1262.87 899.12 1263.15 897.45 C1263.44 895.78 1263.71 894.12 1263.95 892.45 C1264.19 890.78 1264.40 889.12 1264.59 887.45 C1264.78 885.78 1264.95 884.12 1265.11 882.45 C1265.26 880.78 1265.38 879.12 1265.49 877.45 C1265.60 875.78 1265.69 874.12 1265.77 872.45 C1265.84 870.78 1265.89 869.12 1265.93 867.45 C1265.97 865.78 1265.99 864.12 1266.00 862.45 C1266.01 860.78 1266.00 859.12 1265.98 857.45 C1265.96 855.78 1265.93 854.12 1265.88 852.45 C1265.84 850.78 1265.78 849.12 1265.71 847.45 C1265.65 845.78 1265.57 844.12 1265.48 842.45 C1265.39 840.78 1265.30 839.12 1265.19 837.45 C1265.09 835.78 1264.98 834.12 1264.87 832.45 C1264.75 830.78 1264.63 829.12 1264.50 827.45 C1264.37 825.78 1264.24 824.12 1264.11 822.45 C1263.97 820.78 1263.83 819.12 1263.69 817.45 C1263.56 815.78 1263.41 814.12 1263.27 812.45 C1263.13 810.78 1262.99 809.12 1262.85 807.45 C1262.71 805.78 1262.56 804.12 1262.42 802.45 C1262.28 800.78 1262.13 799.12 1261.99 797.45 C1261.84 795.78 1261.70 794.12 1261.55 792.45 C1261.40 790.78 1261.26 789.12 1261.11 787.45 C1260.96 785.78 1260.81 784.12 1260.66 782.45 C1260.51 780.78 1260.36 779.12 1260.21 777.45 C1260.06 775.78 1259.91 774.12 1259.75 772.45 C1259.60 770.78 1259.44 769.12 1259.28 767.45 C1259.13 765.78 1258.97 764.12 1258.81 762.45 C1258.65 760.78 1258.49 759.12 1258.32 757.45 C1258.16 755.78 1258.00 754.12 1257.83 752.45 C1257.67 750.78 1257.50 749.12 1257.33 747.45 C1257.16 745.78 1256.99 744.12 1256.81 742.45 C1256.64 740.78 1256.46 739.12 1256.29 737.45 C1256.11 735.78 1255.93 734.12 1255.75 732.45 C1255.57 730.78 1255.38 729.12 1255.20 727.45 C1255.01 725.78 1254.82 724.12 1254.63 722.45 C1254.44 720.78 1254.25 719.12 1254.06 717.45 C1253.86 715.78 1253.67 714.12 1253.47 712.45 C1253.27 710.78 1253.07 709.12 1252.87 707.45 C1252.67 705.78 1252.47 704.12 1252.27 702.45 C1252.06 700.78 1251.86 699.12 1251.65 697.45 C1251.45 695.78 1251.24 694.12 1251.04 692.45 C1250.83 690.78 1250.62 689.12 1250.42 687.45 C1250.21 685.78 1250.00 684.12 1249.80 682.45 C1249.59 680.78 1249.38 679.12 1249.18 677.45 C1248.97 675.78 1248.77 674.12 1248.56 672.45 C1248.35 670.78 1248.15 669.12 1247.95 667.45 C1247.74 665.78 1247.54 664.12 1247.34 662.45 C1247.14 660.78 1246.93 659.12 1246.74 657.45 C1246.54 655.78 1246.34 654.12 1246.14 652.45 C1245.95 650.78 1245.75 649.12 1245.56 647.45 C1245.37 645.78 1245.18 644.12 1244.99 642.45 C1244.80 640.78 1244.62 639.12 1244.43 637.45 C1244.25 635.78 1244.07 634.12 1243.89 632.45 C1243.71 630.78 1243.53 629.12 1243.35 627.45 C1243.17 625.78 1242.99 624.12 1242.81 622.45 C1242.63 620.78 1242.45 619.12 1242.26 617.45 C1242.08 615.78 1241.89 614.12 1241.70 612.45 C1241.51 610.78 1241.32 609.12 1241.12 607.45 C1240.92 605.78 1240.71 604.12 1240.50 602.45 C1240.29 600.78 1240.07 599.12 1239.85 597.45 C1239.62 595.78 1239.39 594.12 1239.15 592.45 C1238.91 590.78 1238.66 589.12 1238.40 587.45 C1238.14 585.78 1237.87 584.12 1237.60 582.45 C1237.32 580.78 1237.04 579.12 1236.75 577.45 C1236.46 575.78 1236.16 574.12 1235.86 572.45 C1235.55 570.78 1235.24 569.12 1234.93 567.45 C1234.61 565.78 1234.29 564.12 1233.97 562.45 C1233.64 560.78 1233.31 559.12 1232.98 557.45 C1232.65 555.78 1232.31 554.12 1231.97 552.45 C1231.63 550.78 1231.29 549.12 1230.95 547.45 C1230.60 545.78 1230.26 544.12 1229.91 542.45 C1229.56 540.78 1229.22 539.12 1228.87 537.45 C1228.52 535.78 1228.17 534.12 1227.82 532.45 C1227.48 530.78 1227.13 529.12 1226.78 527.45 C1226.44 525.78 1226.09 524.12 1225.75 522.45 C1225.41 520.78 1225.07 519.12 1224.73 517.45 C1224.40 515.78 1224.06 514.12 1223.73 512.45 C1223.40 510.78 1223.08 509.12 1222.76 507.45 C1222.44 505.78 1222.12 504.12 1221.81 502.45 C1221.50 500.78 1221.20 499.12 1220.90 497.45 C1220.60 495.78 1220.31 494.12 1220.02 492.45 C1219.74 490.78 1219.46 489.12 1219.20 487.45 C1218.93 485.78 1218.67 484.12 1218.41 482.45 C1218.16 480.78 1217.92 479.12 1217.68 477.45 C1217.44 475.78 1217.21 474.12 1216.99 472.45 C1216.77 470.78 1216.56 469.12 1216.35 467.45 C1216.15 465.78 1215.95 464.12 1215.76 462.45 C1215.57 460.78 1215.38 459.12 1215.20 457.45 C1215.02 455.78 1214.85 454.12 1214.69 452.45 C1214.52 450.78 1214.36 449.12 1214.21 447.45 C1214.06 445.78 1213.91 444.12 1213.77 442.45 C1213.63 440.78 1213.49 439.12 1213.36 437.45 C1213.23 435.78 1213.10 434.12 1212.98 432.45 C1212.86 430.78 1212.75 429.12 1212.64 427.45 C1212.53 425.78 1212.42 424.12 1212.32 422.45 C1212.22 420.78 1212.12 419.12 1212.03 417.45 C1211.93 415.78 1211.84 414.12 1211.76 412.45 C1211.67 410.78 1211.59 409.12 1211.51 407.45 C1211.43 405.78 1211.36 404.12 1211.28 402.45 C1211.21 400.78 1211.14 399.12 1211.08 397.45 C1211.01 395.78 1210.94 394.12 1210.88 392.45 C1210.82 390.78 1210.76 389.12 1210.70 387.45 C1210.65 385.78 1210.59 384.12 1210.54 382.45 C1210.48 380.78 1210.43 379.12 1210.38 377.45 C1210.33 375.78 1210.28 374.12 1210.23 372.45 C1210.18 370.78 1210.14 369.12 1210.09 367.45 C1210.04 365.78 1210.00 364.12 1209.95 362.45 C1209.91 360.78 1209.86 359.12 1209.82 357.45 C1209.77 355.78 1209.73 354.12 1209.68 352.45 C1209.64 350.78 1209.59 349.12 1209.54 347.45 C1209.50 345.78 1209.45 344.12 1209.40 342.45 C1209.36 340.78 1209.31 339.12 1209.26 337.45 C1209.21 335.78 1209.16 334.12 1209.10 332.45 C1209.05 330.78 1208.99 329.12 1208.94 327.45 C1208.88 325.78 1208.82 324.12 1208.76 322.45 C1208.70 320.78 1208.64 319.12 1208.57 317.45 C1208.51 315.78 1208.44 314.12 1208.37 312.45 C1208.30 310.78 1208.22 309.12 1208.15 307.45 C1208.08 305.78 1208.00 303.28 1207.97 302.45Z"/>
<path fill="#436EEE" d="M1350.14 580.55 C1350.07 581.38 1349.88 583.88 1349.73 585.55 C1349.58 587.22 1349.40 588.88 1349.24 590.55 C1349.08 592.22 1348.92 593.88 1348.76 595.55 C1348.61 597.22 1348.46 598.88 1348.31 600.55 C1348.17 602.22 1348.03 603.88 1347.90 605.55 C1347.76 607.22 1347.63 608.88 1347.50 610.55 C1347.38 612.22 1347.25 613.88 1347.13 615.55 C1347.01 617.22 1346.90 618.88 1346.78 620.55 C1346.67 622.22 1346.56 623.88 1346.45 625.55 C1346.34 627.22 1346.24 628.88 1346.13 630.55 C1346.03 632.22 1345.93 633.88 1345.83 635.55 C1345.73 637.22 1345.63 638.88 1345.53 640.55 C1345.43 642.22 1345.34 643.88 1345.24 645.55 C1345.15 647.22 1345.05 648.88 1344.96 650.55 C1344.86 652.22 1344.77 653.88 1344.68 655.55 C1344.58 657.22 1344.49 658.88 1344.39 660.55 C1344.30 662.22 1344.20 663.88 1344.11 665.55 C1344.01 667.22 1343.91 668.88 1343.81 670.55 C1343.71 672.22 1343.61 673.88 1343.51 675.55 C1343.41 677.22 1343.31 678.88 1343.20 680.55 C1343.09 682.22 1342.99 683.88 1342.87 685.55 C1342.76 687.22 1342.65 688.88 1342.53 690.55 C1342.41 692.22 1342.29 693.88 1342.17 695.55 C1342.04 697.22 1341.92 698.88 1341.78 700.55 C1341.65 702.22 1341.51 703.88 1341.36 705.55 C1341.22 707.22 1341.07 708.88 1340.91 710.55 C1340.76 712.22 1340.59 713.88 1340.42 715.55 C1340.25 717.22 1340.08 718.88 1339.89 720.55 C1339.70 722.22 1339.51 723.88 1339.31 725.55 C1339.10 727.22 1338.89 728.88 1338.67 730.55 C1338.45 732.22 1338.21 733.88 1337.97 735.55 C1337.73 737.22 1337.48 738.88 1337.21 740.55 C1336.95 742.22 1336.67 743.88 1336.38 745.55 C1336.10 747.22 1335.80 748.88 1335.49 750.55 C1335.17 752.22 1334.84 753.88 1334.50 755.55 C1334.16 757.22 1333.81 758.88 1333.44 760.55 C1333.08 762.22 1332.69 763.88 1332.29 765.55 C1331.89 767.22 1331.48 768.88 1331.05 770.55 C1330.63 772.22 1330.18 773.88 1329.73 775.55 C1329.28 777.22 1328.81 778.88 1328.34 780.55 C1327.86 782.22 1327.38 783.88 1326.89 785.55 C1326.40 787.22 1325.91 788.88 1325.41 790.55 C1324.92 792.22 1324.42 793.88 1323.92 795.55 C1323.42 797.22 1322.92 798.88 1322.43 800.55 C1321.94 802.22 1321.44 803.88 1320.96 805.55 C1320.48 807.22 1320.00 808.88 1319.52 810.55 C1319.05 812.22 1318.59 813.88 1318.14 815.55 C1317.68 817.22 1317.23 818.88 1316.79 820.55 C1316.35 822.22 1315.91 823.88 1315.48 825.55 C1315.06 827.22 1314.63 828.88 1314.22 830.55 C1313.80 832.22 1313.39 833.88 1312.99 835.55 C1312.58 837.22 1312.18 838.88 1311.79 840.55 C1311.39 842.22 1311.01 843.88 1310.62 845.55 C1310.24 847.22 1309.86 848.88 1309.48 850.55 C1309.11 852.22 1308.74 853.88 1308.37 855.55 C1308.01 857.22 1307.64 858.88 1307.28 860.55 C1306.93 862.22 1306.57 863.88 1306.22 865.55 C1305.87 867.22 1305.52 868.88 1305.17 870.55 C1304.82 872.22 1304.48 873.88 1304.14 875.55 C1303.79 877.22 1303.45 878.88 1303.11 880.55 C1302.77 882.22 1302.43 883.88 1302.09 885.55 C1301.75 887.22 1301.41 888.88 1301.07 890.55 C1300.73 892.22 1300.38 893.88 1300.04 895.55 C1299.70 897.22 1299.36 898.88 1299.02 900.55 C1298.69 902.22 1298.36 903.88 1298.03 905.55 C1297.71 907.22 1297.39 908.88 1297.08 910.55 C1296.77 912.22 1296.47 913.88 1296.19 915.55 C1295.90 917.22 1295.62 918.88 1295.36 920.55 C1295.10 922.22 1294.85 923.88 1294.63 925.55 C1294.40 927.22 1294.18 928.88 1293.99 930.55 C1293.80 932.22 1293.62 933.88 1293.48 935.55 C1293.33 937.22 1293.19 938.88 1293.09 940.55 C1292.99 942.22 1292.91 943.88 1292.86 945.55 C1292.81 947.22 1292.78 948.88 1292.79 950.55 C1292.79 952.22 1292.83 953.88 1292.89 955.55 C1292.95 957.22 1293.03 958.88 1293.15 960.55 C1293.27 962.22 1293.41 963.88 1293.58 965.55 C1293.75 967.22 1293.95 968.88 1294.17 970.55 C1294.39 972.22 1294.65 973.88 1294.92 975.55 C1295.20 977.22 1295.50 978.88 1295.83 980.55 C1296.16 982.22 1296.52 983.88 1296.90 985.55 C1297.29 987.22 1297.69 988.88 1298.12 990.55 C1298.56 992.22 1299.02 993.88 1299.50 995.55 C1299.99 997.22 1300.50 998.88 1301.03 1000.55 C1301.56 1002.22 1302.13 1003.88 1302.71 1005.55 C1303.29 1007.22 1303.89 1008.88 1304.50 1010.55 C1305.11 1012.22 1305.75 1013.88 1306.38 1015.55 C1307.01 1017.22 1307.66 1018.88 1308.29 1020.55 C1308.93 1022.22 1309.57 1023.88 1310.19 1025.55 C1310.82 1027.22 1311.44 1028.88 1312.04 1030.55 C1312.64 1032.22 1313.23 1033.88 1313.78 1035.55 C1314.34 1037.22 1314.89 1038.88 1315.39 1040.55 C1315.90 1042.22 1316.37 1043.88 1316.80 1045.55 C1317.24 1047.22 1317.65 1048.88 1318.00 1050.55 C1318.35 1052.22 1318.65 1053.88 1318.91 1055.55 C1319.16 1057.22 1319.37 1058.88 1319.52 1060.55 C1319.66 1062.22 1319.74 1063.88 1319.78 1065.55 C1319.81 1067.22 1319.79 1068.88 1319.72 1070.55 C1319.65 1072.22 1319.52 1073.88 1319.35 1075.55 C1319.18 1077.22 1318.97 1078.88 1318.72 1080.55 C1318.46 1082.22 1318.16 1083.88 1317.83 1085.55 C1317.50 1087.22 1317.13 1088.88 1316.74 1090.55 C1316.34 1092.22 1315.90 1093.88 1315.45 1095.55 C1315.00 1097.22 1314.52 1098.88 1314.02 1100.55 C1313.53 1102.22 1313.00 1103.88 1312.47 1105.55 C1311.94 1107.22 1311.38 1108.88 1310.83 1110.55 C1310.27 1112.22 1309.70 1113.88 1309.12 1115.55 C1308.55 1117.22 1307.97 1118.88 1307.40 1120.55 C1306.82 1122.22 1306.25 1123.88 1305.68 1125.55 C1305.11 1127.22 1304.54 1128.88 1303.99 1130.55 C1303.45 1132.22 1302.90 1133.88 1302.38 1135.55 C1301.87 1137.22 1301.35 1138.88 1300.88 1140.55 C1300.40 1142.22 1299.94 1143.88 1299.51 1145.55 C1299.08 1147.22 1298.67 1148.88 1298.31 1150.55 C1297.94 1152.22 1297.60 1153.88 1297.32 1155.55 C1297.03 1157.22 1296.74 1159.47 1296.60 1160.55 C1296.46 1161.62 1296.49 1161.76 1296.47 1162.00 L1409.93 1162.00 C1409.91 1161.76 1409.94 1161.62 1409.80 1160.55 C1409.66 1159.47 1409.37 1157.22 1409.08 1155.55 C1408.80 1153.88 1408.46 1152.22 1408.09 1150.55 C1407.73 1148.88 1407.32 1147.22 1406.89 1145.55 C1406.46 1143.88 1406.00 1142.22 1405.52 1140.55 C1405.05 1138.88 1404.53 1137.22 1404.02 1135.55 C1403.50 1133.88 1402.95 1132.22 1402.41 1130.55 C1401.86 1128.88 1401.29 1127.22 1400.72 1125.55 C1400.15 1123.88 1399.58 1122.22 1399.00 1120.55 C1398.43 1118.88 1397.85 1117.22 1397.28 1115.55 C1396.70 1113.88 1396.13 1112.22 1395.57 1110.55 C1395.02 1108.88 1394.46 1107.22 1393.93 1105.55 C1393.40 1103.88 1392.87 1102.22 1392.38 1100.55 C1391.88 1098.88 1391.40 1097.22 1390.95 1095.55 C1390.50 1093.88 1390.06 1092.22 1389.66 1090.55 C1389.27 1088.88 1388.90 1087.22 1388.57 1085.55 C1388.24 1083.88 1387.94 1082.22 1387.68 1080.55 C1387.43 1078.88 1387.22 1077.22 1387.05 1075.55 C1386.88 1073.88 1386.75 1072.22 1386.68 1070.55 C1386.61 1068.88 1386.59 1067.22 1386.62 1065.55 C1386.66 1063.88 1386.74 1062.22 1386.88 1060.55 C1387.03 1058.88 1387.24 1057.22 1387.49 1055.55 C1387.75 1053.88 1388.05 1052.22 1388.40 1050.55 C1388.75 1048.88 1389.16 1047.22 1389.60 1045.55 C1390.03 1043.88 1390.50 1042.22 1391.01 1040.55 C1391.51 1038.88 1392.06 1037.22 1392.62 1035.55 C1393.17 1033.88 1393.76 1032.22 1394.36 1030.55 C1394.96 1028.88 1395.58 1027.22 1396.21 1025.55 C1396.83 1023.88 1397.47 1022.22 1398.11 1020.55 C1398.74 1018.88 1399.39 1017.22 1400.02 1015.55 C1400.65 1013.88 1401.29 1012.22 1401.90 1010.55 C1402.51 1008.88 1403.11 1007.22 1403.69 1005.55 C1404.27 1003.88 1404.84 1002.22 1405.37 1000.55 C1405.90 998.88 1406.41 997.22 1406.90 995.55 C1407.38 993.88 1407.84 992.22 1408.28 990.55 C1408.71 988.88 1409.11 987.22 1409.50 985.55 C1409.88 983.88 1410.24 982.22 1410.57 980.55 C1410.90 978.88 1411.20 977.22 1411.48 975.55 C1411.75 973.88 1412.01 972.22 1412.23 970.55 C1412.45 968.88 1412.65 967.22 1412.82 965.55 C1412.99 963.88 1413.13 962.22 1413.25 960.55 C1413.37 958.88 1413.45 957.22 1413.51 955.55 C1413.57 953.88 1413.61 952.22 1413.61 950.55 C1413.62 948.88 1413.59 947.22 1413.54 945.55 C1413.49 943.88 1413.41 942.22 1413.31 940.55 C1413.21 938.88 1413.07 937.22 1412.92 935.55 C1412.78 933.88 1412.60 932.22 1412.41 930.55 C1412.22 928.88 1412.00 927.22 1411.77 925.55 C1411.55 923.88 1411.30 922.22 1411.04 920.55 C1410.78 918.88 1410.50 917.22 1410.21 915.55 C1409.93 913.88 1409.63 912.22 1409.32 910.55 C1409.01 908.88 1408.69 907.22 1408.37 905.55 C1408.04 903.88 1407.71 902.22 1407.38 900.55 C1407.04 898.88 1406.70 897.22 1406.36 895.55 C1406.02 893.88 1405.67 892.22 1405.33 890.55 C1404.99 888.88 1404.65 887.22 1404.31 885.55 C1403.97 883.88 1403.63 882.22 1403.29 880.55 C1402.95 878.88 1402.61 877.22 1402.26 875.55 C1401.92 873.88 1401.58 872.22 1401.23 870.55 C1400.88 868.88 1400.53 867.22 1400.18 865.55 C1399.83 863.88 1399.47 862.22 1399.12 860.55 C1398.76 858.88 1398.39 857.22 1398.03 855.55 C1397.66 853.88 1397.29 852.22 1396.92 850.55 C1396.54 848.88 1396.16 847.22 1395.78 845.55 C1395.39 843.88 1395.01 842.22 1394.61 840.55 C1394.22 838.88 1393.82 837.22 1393.41 835.55 C1393.01 833.88 1392.60 832.22 1392.18 830.55 C1391.77 828.88 1391.34 827.22 1390.92 825.55 C1390.49 823.88 1390.05 822.22 1389.61 820.55 C1389.17 818.88 1388.72 817.22 1388.26 815.55 C1387.81 813.88 1387.35 812.22 1386.88 810.55 C1386.40 808.88 1385.92 807.22 1385.44 805.55 C1384.96 803.88 1384.46 802.22 1383.97 800.55 C1383.48 798.88 1382.98 797.22 1382.48 795.55 C1381.98 793.88 1381.48 792.22 1380.99 790.55 C1380.49 788.88 1380.00 787.22 1379.51 785.55 C1379.02 783.88 1378.54 782.22 1378.06 780.55 C1377.59 778.88 1377.12 777.22 1376.67 775.55 C1376.22 773.88 1375.77 772.22 1375.35 770.55 C1374.92 768.88 1374.51 767.22 1374.11 765.55 C1373.71 763.88 1373.32 762.22 1372.96 760.55 C1372.59 758.88 1372.24 757.22 1371.90 755.55 C1371.56 753.88 1371.23 752.22 1370.91 750.55 C1370.60 748.88 1370.30 747.22 1370.02 745.55 C1369.73 743.88 1369.45 742.22 1369.19 740.55 C1368.92 738.88 1368.67 737.22 1368.43 735.55 C1368.19 733.88 1367.95 732.22 1367.73 730.55 C1367.51 728.88 1367.30 727.22 1367.09 725.55 C1366.89 723.88 1366.70 722.22 1366.51 720.55 C1366.32 718.88 1366.15 717.22 1365.98 715.55 C1365.81 713.88 1365.64 712.22 1365.49 710.55 C1365.33 708.88 1365.18 707.22 1365.04 705.55 C1364.89 703.88 1364.75 702.22 1364.62 700.55 C1364.48 698.88 1364.36 697.22 1364.23 695.55 C1364.11 693.88 1363.99 692.22 1363.87 690.55 C1363.75 688.88 1363.64 687.22 1363.53 685.55 C1363.41 683.88 1363.31 682.22 1363.20 680.55 C1363.09 678.88 1362.99 677.22 1362.89 675.55 C1362.79 673.88 1362.69 672.22 1362.59 670.55 C1362.49 668.88 1362.39 667.22 1362.29 665.55 C1362.20 663.88 1362.10 662.22 1362.01 660.55 C1361.91 658.88 1361.82 657.22 1361.72 655.55 C1361.63 653.88 1361.54 652.22 1361.44 650.55 C1361.35 648.88 1361.25 647.22 1361.16 645.55 C1361.06 643.88 1360.97 642.22 1360.87 640.55 C1360.77 638.88 1360.67 637.22 1360.57 635.55 C1360.47 633.88 1360.37 632.22 1360.27 630.55 C1360.16 628.88 1360.06 627.22 1359.95 625.55 C1359.84 623.88 1359.73 622.22 1359.62 620.55 C1359.50 618.88 1359.39 617.22 1359.27 615.55 C1359.15 613.88 1359.02 612.22 1358.90 610.55 C1358.77 608.88 1358.64 607.22 1358.50 605.55 C1358.37 603.88 1358.23 602.22 1358.09 600.55 C1357.94 598.88 1357.79 597.22 1357.64 595.55 C1357.48 593.88 1357.32 592.22 1357.16 590.55 C1357.00 588.88 1356.82 587.22 1356.67 585.55 C1356.52 583.88 1356.33 581.38 1356.26 580.55Z"/>
<path fill="#FF3030" d="M1471.53 588.45 C1471.50 589.28 1471.40 591.78 1471.31 593.45 C1471.22 595.12 1471.11 596.78 1470.99 598.45 C1470.87 600.12 1470.74 601.78 1470.60 603.45 C1470.46 605.12 1470.32 606.78 1470.16 608.45 C1470.01 610.12 1469.85 611.78 1469.68 613.45 C1469.51 615.12 1469.33 616.78 1469.15 618.45 C1468.97 620.12 1468.78 621.78 1468.58 623.45 C1468.39 625.12 1468.19 626.78 1467.98 628.45 C1467.78 630.12 1467.56 631.78 1467.35 633.45 C1467.14 635.12 1466.92 636.78 1466.69 638.45 C1466.47 640.12 1466.24 641.78 1466.01 643.45 C1465.79 645.12 1465.55 646.78 1465.32 648.45 C1465.09 650.12 1464.85 651.78 1464.61 653.45 C1464.37 655.12 1464.13 656.78 1463.89 658.45 C1463.65 660.12 1463.41 661.78 1463.17 663.45 C1462.93 665.12 1462.69 666.78 1462.45 668.45 C1462.21 670.12 1461.98 671.78 1461.74 673.45 C1461.50 675.12 1461.27 676.78 1461.03 678.45 C1460.80 680.12 1460.57 681.78 1460.34 683.45 C1460.11 685.12 1459.89 686.78 1459.66 688.45 C1459.44 690.12 1459.23 691.78 1459.01 693.45 C1458.80 695.12 1458.58 696.78 1458.37 698.45 C1458.16 700.12 1457.96 701.78 1457.75 703.45 C1457.54 705.12 1457.34 706.78 1457.13 708.45 C1456.93 710.12 1456.72 711.78 1456.52 713.45 C1456.31 715.12 1456.11 716.78 1455.90 718.45 C1455.69 720.12 1455.48 721.78 1455.27 723.45 C1455.06 725.12 1454.85 726.78 1454.63 728.45 C1454.41 730.12 1454.19 731.78 1453.97 733.45 C1453.75 735.12 1453.52 736.78 1453.29 738.45 C1453.06 740.12 1452.82 741.78 1452.57 743.45 C1452.33 745.12 1452.08 746.78 1451.83 748.45 C1451.57 750.12 1451.31 751.78 1451.04 753.45 C1450.77 755.12 1450.49 756.78 1450.21 758.45 C1449.92 760.12 1449.63 761.78 1449.33 763.45 C1449.02 765.12 1448.71 766.78 1448.39 768.45 C1448.07 770.12 1447.73 771.78 1447.39 773.45 C1447.05 775.12 1446.69 776.78 1446.33 778.45 C1445.96 780.12 1445.58 781.78 1445.19 783.45 C1444.80 785.12 1444.40 786.78 1443.98 788.45 C1443.57 790.12 1443.13 791.78 1442.69 793.45 C1442.24 795.12 1441.79 796.78 1441.31 798.45 C1440.84 800.12 1440.35 801.78 1439.84 803.45 C1439.33 805.12 1438.81 806.78 1438.28 808.45 C1437.74 810.12 1437.18 811.78 1436.62 813.45 C1436.05 815.12 1435.47 816.78 1434.88 818.45 C1434.30 820.12 1433.69 821.78 1433.09 823.45 C1432.49 825.12 1431.87 826.78 1431.26 828.45 C1430.65 830.12 1430.03 831.78 1429.42 833.45 C1428.81 835.12 1428.20 836.78 1427.59 838.45 C1426.98 840.12 1426.38 841.78 1425.79 843.45 C1425.19 845.12 1424.61 846.78 1424.03 848.45 C1423.46 850.12 1422.90 851.78 1422.36 853.45 C1421.81 855.12 1421.28 856.78 1420.77 858.45 C1420.26 860.12 1419.77 861.78 1419.31 863.45 C1418.84 865.12 1418.39 866.78 1417.98 868.45 C1417.56 870.12 1417.18 871.78 1416.82 873.45 C1416.46 875.12 1416.13 876.78 1415.84 878.45 C1415.55 880.12 1415.29 881.78 1415.07 883.45 C1414.85 885.12 1414.66 886.78 1414.52 888.45 C1414.38 890.12 1414.29 891.78 1414.23 893.45 C1414.16 895.12 1414.14 896.78 1414.15 898.45 C1414.15 900.12 1414.20 901.78 1414.27 903.45 C1414.33 905.12 1414.43 906.78 1414.54 908.45 C1414.65 910.12 1414.79 911.78 1414.94 913.45 C1415.09 915.12 1415.25 916.78 1415.42 918.45 C1415.60 920.12 1415.78 921.78 1415.97 923.45 C1416.15 925.12 1416.35 926.78 1416.53 928.45 C1416.72 930.12 1416.91 931.78 1417.08 933.45 C1417.26 935.12 1417.44 936.78 1417.59 938.45 C1417.75 940.12 1417.90 941.78 1418.02 943.45 C1418.15 945.12 1418.26 946.78 1418.35 948.45 C1418.44 950.12 1418.51 951.78 1418.57 953.45 C1418.63 955.12 1418.67 956.78 1418.70 958.45 C1418.73 960.12 1418.75 961.78 1418.76 963.45 C1418.78 965.12 1418.79 966.78 1418.79 968.45 C1418.80 970.12 1418.80 971.78 1418.81 973.45 C1418.82 975.12 1418.83 976.78 1418.85 978.45 C1418.87 980.12 1418.89 981.78 1418.93 983.45 C1418.97 985.12 1419.02 986.78 1419.09 988.45 C1419.16 990.12 1419.24 991.78 1419.35 993.45 C1419.46 995.12 1419.58 996.78 1419.74 998.45 C1419.90 1000.12 1420.08 1001.78 1420.29 1003.45 C1420.50 1005.12 1420.74 1006.78 1421.01 1008.45 C1421.28 1010.12 1421.59 1011.78 1421.92 1013.45 C1422.25 1015.12 1422.61 1016.78 1423.00 1018.45 C1423.39 1020.12 1423.81 1021.78 1424.26 1023.45 C1424.70 1025.12 1425.17 1026.78 1425.67 1028.45 C1426.17 1030.12 1426.70 1031.78 1427.25 1033.45 C1427.80 1035.12 1428.37 1036.78 1428.97 1038.45 C1429.57 1040.12 1430.20 1041.78 1430.84 1043.45 C1431.48 1045.12 1432.14 1046.78 1432.80 1048.45 C1433.46 1050.12 1434.14 1051.78 1434.80 1053.45 C1435.46 1055.12 1436.12 1056.78 1436.75 1058.45 C1437.39 1060.12 1438.00 1061.78 1438.59 1063.45 C1439.18 1065.12 1439.75 1066.78 1440.29 1068.45 C1440.83 1070.12 1441.34 1071.78 1441.82 1073.45 C1442.30 1075.12 1442.76 1076.78 1443.19 1078.45 C1443.61 1080.12 1444.01 1081.78 1444.37 1083.45 C1444.74 1085.12 1445.08 1086.78 1445.38 1088.45 C1445.68 1090.12 1445.95 1091.78 1446.19 1093.45 C1446.43 1095.12 1446.64 1096.78 1446.81 1098.45 C1446.98 1100.12 1447.12 1101.78 1447.22 1103.45 C1447.32 1105.12 1447.39 1106.78 1447.42 1108.45 C1447.46 1110.12 1447.45 1111.78 1447.40 1113.45 C1447.36 1115.12 1447.28 1116.78 1447.16 1118.45 C1447.05 1120.12 1446.89 1121.78 1446.71 1123.45 C1446.53 1125.12 1446.31 1126.78 1446.09 1128.45 C1445.87 1130.12 1445.62 1131.78 1445.38 1133.45 C1445.14 1135.12 1444.88 1136.78 1444.64 1138.45 C1444.41 1140.12 1444.18 1141.78 1443.97 1143.45 C1443.77 1145.12 1443.58 1146.78 1443.44 1148.45 C1443.30 1150.12 1443.18 1151.78 1443.12 1153.45 C1443.07 1155.12 1443.07 1157.02 1443.08 1158.45 C1443.09 1159.87 1443.16 1161.41 1443.18 1162.00 L1504.74 1162.00 C1504.76 1161.41 1504.83 1159.87 1504.84 1158.45 C1504.85 1157.02 1504.85 1155.12 1504.80 1153.45 C1504.74 1151.78 1504.62 1150.12 1504.48 1148.45 C1504.34 1146.78 1504.15 1145.12 1503.95 1143.45 C1503.74 1141.78 1503.51 1140.12 1503.28 1138.45 C1503.04 1136.78 1502.78 1135.12 1502.54 1133.45 C1502.30 1131.78 1502.05 1130.12 1501.83 1128.45 C1501.61 1126.78 1501.39 1125.12 1501.21 1123.45 C1501.03 1121.78 1500.87 1120.12 1500.76 1118.45 C1500.64 1116.78 1500.56 1115.12 1500.52 1113.45 C1500.47 1111.78 1500.46 1110.12 1500.50 1108.45 C1500.53 1106.78 1500.60 1105.12 1500.70 1103.45 C1500.80 1101.78 1500.94 1100.12 1501.11 1098.45 C1501.28 1096.78 1501.49 1095.12 1501.73 1093.45 C1501.97 1091.78 1502.24 1090.12 1502.54 1088.45 C1502.84 1086.78 1503.18 1085.12 1503.55 1083.45 C1503.91 1081.78 1504.31 1080.12 1504.73 1078.45 C1505.16 1076.78 1505.62 1075.12 1506.10 1073.45 C1506.58 1071.78 1507.09 1070.12 1507.63 1068.45 C1508.17 1066.78 1508.74 1065.12 1509.33 1063.45 C1509.92 1061.78 1510.53 1060.12 1511.17 1058.45 C1511.80 1056.78 1512.46 1055.12 1513.12 1053.45 C1513.78 1051.78 1514.46 1050.12 1515.12 1048.45 C1515.78 1046.78 1516.44 1045.12 1517.08 1043.45 C1517.72 1041.78 1518.35 1040.12 1518.95 1038.45 C1519.55 1036.78 1520.12 1035.12 1520.67 1033.45 C1521.22 1031.78 1521.75 1030.12 1522.25 1028.45 C1522.75 1026.78 1523.22 1025.12 1523.66 1023.45 C1524.11 1021.78 1524.53 1020.12 1524.92 1018.45 C1525.31 1016.78 1525.67 1015.12 1526.00 1013.45 C1526.33 1011.78 1526.64 1010.12 1526.91 1008.45 C1527.18 1006.78 1527.42 1005.12 1527.63 1003.45 C1527.84 1001.78 1528.02 1000.12 1528.18 998.45 C1528.34 996.78 1528.46 995.12 1528.57 993.45 C1528.68 991.78 1528.76 990.12 1528.83 988.45 C1528.90 986.78 1528.95 985.12 1528.99 983.45 C1529.03 981.78 1529.05 980.12 1529.07 978.45 C1529.09 976.78 1529.10 975.12 1529.11 973.45 C1529.12 971.78 1529.12 970.12 1529.13 968.45 C1529.13 966.78 1529.14 965.12 1529.16 963.45 C1529.17 961.78 1529.19 960.12 1529.22 958.45 C1529.25 956.78 1529.29 955.12 1529.35 953.45 C1529.41 951.78 1529.48 950.12 1529.57 948.45 C1529.66 946.78 1529.77 945.12 1529.90 943.45 C1530.02 941.78 1530.17 940.12 1530.33 938.45 C1530.48 936.78 1530.66 935.12 1530.84 933.45 C1531.01 931.78 1531.20 930.12 1531.39 928.45 C1531.57 926.78 1531.77 925.12 1531.95 923.45 C1532.14 921.78 1532.32 920.12 1532.50 918.45 C1532.67 916.78 1532.83 915.12 1532.98 913.45 C1533.13 911.78 1533.27 910.12 1533.38 908.45 C1533.49 906.78 1533.59 905.12 1533.65 903.45 C1533.72 901.78 1533.77 900.12 1533.77 898.45 C1533.78 896.78 1533.76 895.12 1533.69 893.45 C1533.63 891.78 1533.54 890.12 1533.40 888.45 C1533.26 886.78 1533.07 885.12 1532.85 883.45 C1532.63 881.78 1532.37 880.12 1532.08 878.45 C1531.79 876.78 1531.46 875.12 1531.10 873.45 C1530.74 871.78 1530.36 870.12 1529.94 868.45 C1529.53 866.78 1529.08 865.12 1528.61 863.45 C1528.15 861.78 1527.66 860.12 1527.15 858.45 C1526.64 856.78 1526.11 855.12 1525.56 853.45 C1525.02 851.78 1524.46 850.12 1523.89 848.45 C1523.31 846.78 1522.73 845.12 1522.13 843.45 C1521.54 841.78 1520.94 840.12 1520.33 838.45 C1519.72 836.78 1519.11 835.12 1518.50 833.45 C1517.89 831.78 1517.27 830.12 1516.66 828.45 C1516.05 826.78 1515.43 825.12 1514.83 823.45 C1514.23 821.78 1513.62 820.12 1513.04 818.45 C1512.45 816.78 1511.87 815.12 1511.30 813.45 C1510.74 811.78 1510.18 810.12 1509.64 808.45 C1509.11 806.78 1508.59 805.12 1508.08 803.45 C1507.57 801.78 1507.08 800.12 1506.61 798.45 C1506.13 796.78 1505.68 795.12 1505.23 793.45 C1504.79 791.78 1504.35 790.12 1503.94 788.45 C1503.52 786.78 1503.12 785.12 1502.73 783.45 C1502.34 781.78 1501.96 780.12 1501.59 778.45 C1501.23 776.78 1500.87 775.12 1500.53 773.45 C1500.19 771.78 1499.85 770.12 1499.53 768.45 C1499.21 766.78 1498.90 765.12 1498.59 763.45 C1498.29 761.78 1498.00 760.12 1497.71 758.45 C1497.43 756.78 1497.15 755.12 1496.88 753.45 C1496.61 751.78 1496.35 750.12 1496.09 748.45 C1495.84 746.78 1495.59 745.12 1495.35 743.45 C1495.10 741.78 1494.86 740.12 1494.63 738.45 C1494.40 736.78 1494.17 735.12 1493.95 733.45 C1493.73 731.78 1493.51 730.12 1493.29 728.45 C1493.07 726.78 1492.86 725.12 1492.65 723.45 C1492.44 721.78 1492.23 720.12 1492.02 718.45 C1491.81 716.78 1491.61 715.12 1491.40 713.45 C1491.20 711.78 1490.99 710.12 1490.79 708.45 C1490.58 706.78 1490.38 705.12 1490.17 703.45 C1489.96 701.78 1489.76 700.12 1489.55 698.45 C1489.34 696.78 1489.12 695.12 1488.91 693.45 C1488.69 691.78 1488.48 690.12 1488.26 688.45 C1488.03 686.78 1487.81 685.12 1487.58 683.45 C1487.35 681.78 1487.12 680.12 1486.89 678.45 C1486.65 676.78 1486.42 675.12 1486.18 673.45 C1485.94 671.78 1485.71 670.12 1485.47 668.45 C1485.23 666.78 1484.99 665.12 1484.75 663.45 C1484.51 661.78 1484.27 660.12 1484.03 658.45 C1483.79 656.78 1483.55 655.12 1483.31 653.45 C1483.07 651.78 1482.83 650.12 1482.60 648.45 C1482.37 646.78 1482.13 645.12 1481.91 643.45 C1481.68 641.78 1481.45 640.12 1481.23 638.45 C1481.00 636.78 1480.78 635.12 1480.57 633.45 C1480.36 631.78 1480.14 630.12 1479.94 628.45 C1479.73 626.78 1479.53 625.12 1479.34 623.45 C1479.14 621.78 1478.95 620.12 1478.77 618.45 C1478.59 616.78 1478.41 615.12 1478.24 613.45 C1478.07 611.78 1477.91 610.12 1477.76 608.45 C1477.60 606.78 1477.46 605.12 1477.32 603.45 C1477.18 601.78 1477.05 600.12 1476.93 598.45 C1476.81 596.78 1476.70 595.12 1476.61 593.45 C1476.52 591.78 1476.42 589.28 1476.39 588.45Z"/>
<path fill="#436EEE" d="M1621.27 414.75 C1621.28 415.58 1621.33 418.08 1621.36 419.75 C1621.40 421.42 1621.44 423.08 1621.47 424.75 C1621.50 426.42 1621.54 428.08 1621.55 429.75 C1621.57 431.42 1621.57 433.08 1621.57 434.75 C1621.57 436.42 1621.57 438.08 1621.57 439.75 C1621.57 441.42 1621.57 443.08 1621.57 444.75 C1621.57 446.42 1621.57 448.08 1621.57 449.75 C1621.57 451.42 1621.57 453.08 1621.57 454.75 C1621.57 456.42 1621.58 458.08 1621.57 459.75 C1621.56 461.42 1621.56 463.08 1621.54 464.75 C1621.52 466.42 1621.48 468.08 1621.45 469.75 C1621.41 471.42 1621.38 473.08 1621.34 474.75 C1621.30 476.42 1621.25 478.08 1621.20 479.75 C1621.15 481.42 1621.10 483.08 1621.05 484.75 C1620.99 486.42 1620.93 488.08 1620.87 489.75 C1620.81 491.42 1620.74 493.08 1620.68 494.75 C1620.61 496.42 1620.53 498.08 1620.46 499.75 C1620.38 501.42 1620.30 503.08 1620.22 504.75 C1620.13 506.42 1620.05 508.08 1619.96 509.75 C1619.87 511.42 1619.77 513.08 1619.67 514.75 C1619.58 516.42 1619.47 518.08 1619.37 519.75 C1619.27 521.42 1619.16 523.08 1619.05 524.75 C1618.93 526.42 1618.82 528.08 1618.70 529.75 C1618.58 531.42 1618.46 533.08 1618.33 534.75 C1618.21 536.42 1618.08 538.08 1617.95 539.75 C1617.81 541.42 1617.68 543.08 1617.54 544.75 C1617.40 546.42 1617.26 548.08 1617.11 549.75 C1616.96 551.42 1616.81 553.08 1616.66 554.75 C1616.51 556.42 1616.35 558.08 1616.19 559.75 C1616.03 561.42 1615.87 563.08 1615.70 564.75 C1615.53 566.42 1615.36 568.08 1615.19 569.75 C1615.01 571.42 1614.83 573.08 1614.65 574.75 C1614.47 576.42 1614.29 578.08 1614.10 579.75 C1613.91 581.42 1613.72 583.08 1613.53 584.75 C1613.33 586.42 1613.13 588.08 1612.93 589.75 C1612.73 591.42 1612.53 593.08 1612.32 594.75 C1612.11 596.42 1611.90 598.08 1611.69 599.75 C1611.47 601.42 1611.25 603.08 1611.03 604.75 C1610.81 606.42 1610.58 608.08 1610.36 609.75 C1610.13 611.42 1609.90 613.08 1609.66 614.75 C1609.43 616.42 1609.19 618.08 1608.95 619.75 C1608.70 621.42 1608.46 623.08 1608.21 624.75 C1607.96 626.42 1607.71 628.08 1607.46 629.75 C1607.20 631.42 1606.94 633.08 1606.68 634.75 C1606.42 636.42 1606.16 638.08 1605.89 639.75 C1605.62 641.42 1605.35 643.08 1605.07 644.75 C1604.80 646.42 1604.52 648.08 1604.24 649.75 C1603.96 651.42 1603.67 653.08 1603.38 654.75 C1603.10 656.42 1602.81 658.08 1602.51 659.75 C1602.22 661.42 1601.92 663.08 1601.62 664.75 C1601.32 666.42 1601.01 668.08 1600.70 669.75 C1600.40 671.42 1600.09 673.08 1599.77 674.75 C1599.46 676.42 1599.14 678.08 1598.82 679.75 C1598.50 681.42 1598.18 683.08 1597.85 684.75 C1597.53 686.42 1597.20 688.08 1596.87 689.75 C1596.54 691.42 1596.21 693.08 1595.87 694.75 C1595.54 696.42 1595.20 698.08 1594.86 699.75 C1594.53 701.42 1594.19 703.08 1593.85 704.75 C1593.51 706.42 1593.16 708.08 1592.82 709.75 C1592.48 711.42 1592.13 713.08 1591.79 714.75 C1591.44 716.42 1591.10 718.08 1590.75 719.75 C1590.41 721.42 1590.06 723.08 1589.71 724.75 C1589.37 726.42 1589.02 728.08 1588.68 729.75 C1588.33 731.42 1587.98 733.08 1587.64 734.75 C1587.29 736.42 1586.95 738.08 1586.61 739.75 C1586.26 741.42 1585.92 743.08 1585.58 744.75 C1585.24 746.42 1584.90 748.08 1584.56 749.75 C1584.22 751.42 1583.88 753.08 1583.55 754.75 C1583.21 756.42 1582.88 758.08 1582.55 759.75 C1582.22 761.42 1581.89 763.08 1581.56 764.75 C1581.23 766.42 1580.91 768.08 1580.59 769.75 C1580.27 771.42 1579.95 773.08 1579.64 774.75 C1579.32 776.42 1579.01 778.08 1578.70 779.75 C1578.39 781.42 1578.09 783.08 1577.79 784.75 C1577.48 786.42 1577.19 788.08 1576.89 789.75 C1576.60 791.42 1576.31 793.08 1576.03 794.75 C1575.74 796.42 1575.46 798.08 1575.19 799.75 C1574.91 801.42 1574.64 803.08 1574.37 804.75 C1574.11 806.42 1573.85 808.08 1573.59 809.75 C1573.34 811.42 1573.08 813.08 1572.84 814.75 C1572.60 816.42 1572.36 818.08 1572.13 819.75 C1571.89 821.42 1571.67 823.08 1571.45 824.75 C1571.23 826.42 1571.01 828.08 1570.81 829.75 C1570.60 831.42 1570.40 833.08 1570.20 834.75 C1570.01 836.42 1569.82 838.08 1569.64 839.75 C1569.47 841.42 1569.29 843.08 1569.13 844.75 C1568.96 846.42 1568.81 848.08 1568.66 849.75 C1568.51 851.42 1568.37 853.08 1568.24 854.75 C1568.10 856.42 1567.98 858.08 1567.87 859.75 C1567.75 861.42 1567.64 863.08 1567.54 864.75 C1567.45 866.42 1567.36 868.08 1567.28 869.75 C1567.20 871.42 1567.13 873.08 1567.06 874.75 C1567.00 876.42 1566.95 878.08 1566.91 879.75 C1566.87 881.42 1566.84 883.08 1566.81 884.75 C1566.78 886.42 1566.77 888.08 1566.76 889.75 C1566.75 891.42 1566.74 893.08 1566.74 894.75 C1566.74 896.42 1566.75 898.08 1566.76 899.75 C1566.76 901.42 1566.77 903.08 1566.78 904.75 C1566.80 906.42 1566.81 908.08 1566.82 909.75 C1566.83 911.42 1566.84 913.08 1566.85 914.75 C1566.85 916.42 1566.86 918.08 1566.86 919.75 C1566.86 921.42 1566.86 923.08 1566.85 924.75 C1566.84 926.42 1566.82 928.08 1566.80 929.75 C1566.78 931.42 1566.75 933.08 1566.72 934.75 C1566.70 936.42 1566.66 938.08 1566.65 939.75 C1566.63 941.42 1566.61 943.08 1566.62 944.75 C1566.63 946.42 1566.65 948.08 1566.70 949.75 C1566.76 951.42 1566.82 953.08 1566.94 954.75 C1567.05 956.42 1567.20 958.08 1567.40 959.75 C1567.59 961.42 1567.82 963.08 1568.11 964.75 C1568.40 966.42 1568.74 968.08 1569.13 969.75 C1569.52 971.42 1569.95 973.08 1570.43 974.75 C1570.91 976.42 1571.44 978.08 1572.00 979.75 C1572.56 981.42 1573.15 983.08 1573.78 984.75 C1574.41 986.42 1575.08 988.08 1575.77 989.75 C1576.45 991.42 1577.17 993.08 1577.91 994.75 C1578.64 996.42 1579.41 998.08 1580.18 999.75 C1580.96 1001.42 1581.75 1003.08 1582.55 1004.75 C1583.35 1006.42 1584.17 1008.08 1584.99 1009.75 C1585.81 1011.42 1586.63 1013.08 1587.46 1014.75 C1588.28 1016.42 1589.11 1018.08 1589.94 1019.75 C1590.76 1021.42 1591.58 1023.08 1592.39 1024.75 C1593.19 1026.42 1593.99 1028.08 1594.78 1029.75 C1595.56 1031.42 1596.34 1033.08 1597.08 1034.75 C1597.83 1036.42 1598.56 1038.08 1599.27 1039.75 C1599.97 1041.42 1600.65 1043.08 1601.30 1044.75 C1601.94 1046.42 1602.56 1048.08 1603.13 1049.75 C1603.71 1051.42 1604.25 1053.08 1604.75 1054.75 C1605.24 1056.42 1605.69 1058.08 1606.09 1059.75 C1606.49 1061.42 1606.85 1063.08 1607.14 1064.75 C1607.44 1066.42 1607.67 1068.08 1607.85 1069.75 C1608.03 1071.42 1608.16 1073.08 1608.21 1074.75 C1608.25 1076.42 1608.23 1078.08 1608.14 1079.75 C1608.05 1081.42 1607.91 1083.08 1607.67 1084.75 C1607.43 1086.42 1607.10 1088.08 1606.70 1089.75 C1606.30 1091.42 1605.83 1093.08 1605.25 1094.75 C1604.68 1096.42 1604.01 1098.08 1603.25 1099.75 C1602.48 1101.42 1601.64 1103.08 1600.69 1104.75 C1599.73 1106.42 1598.66 1108.08 1597.52 1109.75 C1596.37 1111.42 1595.13 1113.08 1593.84 1114.75 C1592.54 1116.42 1591.15 1118.08 1589.74 1119.75 C1588.34 1121.42 1586.87 1123.08 1585.41 1124.75 C1583.95 1126.42 1582.45 1128.08 1580.98 1129.75 C1579.52 1131.42 1578.03 1133.08 1576.62 1134.75 C1575.20 1136.42 1573.80 1138.08 1572.48 1139.75 C1571.16 1141.42 1569.87 1143.08 1568.72 1144.75 C1567.56 1146.42 1566.48 1148.08 1565.53 1149.75 C1564.59 1151.42 1563.72 1153.08 1563.05 1154.75 C1562.39 1156.42 1561.84 1158.54 1561.54 1159.75 C1561.24 1160.96 1561.30 1161.62 1561.25 1162.00 L1681.89 1162.00 C1681.84 1161.62 1681.90 1160.96 1681.60 1159.75 C1681.30 1158.54 1680.75 1156.42 1680.09 1154.75 C1679.42 1153.08 1678.55 1151.42 1677.61 1149.75 C1676.66 1148.08 1675.58 1146.42 1674.42 1144.75 C1673.27 1143.08 1671.98 1141.42 1670.66 1139.75 C1669.34 1138.08 1667.94 1136.42 1666.52 1134.75 C1665.11 1133.08 1663.62 1131.42 1662.16 1129.75 C1660.69 1128.08 1659.19 1126.42 1657.73 1124.75 C1656.27 1123.08 1654.80 1121.42 1653.40 1119.75 C1651.99 1118.08 1650.60 1116.42 1649.30 1114.75 C1648.01 1113.08 1646.77 1111.42 1645.62 1109.75 C1644.48 1108.08 1643.41 1106.42 1642.45 1104.75 C1641.50 1103.08 1640.66 1101.42 1639.89 1099.75 C1639.13 1098.08 1638.46 1096.42 1637.89 1094.75 C1637.31 1093.08 1636.84 1091.42 1636.44 1089.75 C1636.04 1088.08 1635.71 1086.42 1635.47 1084.75 C1635.23 1083.08 1635.09 1081.42 1635.00 1079.75 C1634.91 1078.08 1634.89 1076.42 1634.93 1074.75 C1634.98 1073.08 1635.11 1071.42 1635.29 1069.75 C1635.47 1068.08 1635.70 1066.42 1636.00 1064.75 C1636.29 1063.08 1636.65 1061.42 1637.05 1059.75 C1637.45 1058.08 1637.90 1056.42 1638.39 1054.75 C1638.89 1053.08 1639.43 1051.42 1640.01 1049.75 C1640.58 1048.08 1641.20 1046.42 1641.84 1044.75 C1642.49 1043.08 1643.17 1041.42 1643.87 1039.75 C1644.58 1038.08 1645.31 1036.42 1646.06 1034.75 C1646.80 1033.08 1647.58 1031.42 1648.36 1029.75 C1649.15 1028.08 1649.95 1026.42 1650.75 1024.75 C1651.56 1023.08 1652.38 1021.42 1653.20 1019.75 C1654.03 1018.08 1654.86 1016.42 1655.68 1014.75 C1656.51 1013.08 1657.33 1011.42 1658.15 1009.75 C1658.97 1008.08 1659.79 1006.42 1660.59 1004.75 C1661.39 1003.08 1662.18 1001.42 1662.96 999.75 C1663.73 998.08 1664.50 996.42 1665.23 994.75 C1665.97 993.08 1666.69 991.42 1667.37 989.75 C1668.06 988.08 1668.73 986.42 1669.36 984.75 C1669.99 983.08 1670.58 981.42 1671.14 979.75 C1671.70 978.08 1672.23 976.42 1672.71 974.75 C1673.19 973.08 1673.62 971.42 1674.01 969.75 C1674.40 968.08 1674.74 966.42 1675.03 964.75 C1675.32 963.08 1675.55 961.42 1675.74 959.75 C1675.94 958.08 1676.09 956.42 1676.20 954.75 C1676.32 953.08 1676.38 951.42 1676.44 949.75 C1676.49 948.08 1676.51 946.42 1676.52 944.75 C1676.53 943.08 1676.51 941.42 1676.49 939.75 C1676.48 938.08 1676.44 936.42 1676.42 934.75 C1676.39 933.08 1676.36 931.42 1676.34 929.75 C1676.32 928.08 1676.30 926.42 1676.29 924.75 C1676.28 923.08 1676.28 921.42 1676.28 919.75 C1676.28 918.08 1676.29 916.42 1676.29 914.75 C1676.30 913.08 1676.31 911.42 1676.32 909.75 C1676.33 908.08 1676.34 906.42 1676.36 904.75 C1676.37 903.08 1676.38 901.42 1676.38 899.75 C1676.39 898.08 1676.40 896.42 1676.40 894.75 C1676.40 893.08 1676.39 891.42 1676.38 889.75 C1676.37 888.08 1676.36 886.42 1676.33 884.75 C1676.30 883.08 1676.27 881.42 1676.23 879.75 C1676.19 878.08 1676.14 876.42 1676.08 874.75 C1676.01 873.08 1675.94 871.42 1675.86 869.75 C1675.78 868.08 1675.69 866.42 1675.60 864.75 C1675.50 863.08 1675.39 861.42 1675.27 859.75 C1675.16 858.08 1675.04 856.42 1674.90 854.75 C1674.77 853.08 1674.63 851.42 1674.48 849.75 C1674.33 848.08 1674.18 846.42 1674.01 844.75 C1673.85 843.08 1673.67 841.42 1673.50 839.75 C1673.32 838.08 1673.13 836.42 1672.94 834.75 C1672.74 833.08 1672.54 831.42 1672.33 829.75 C1672.13 828.08 1671.91 826.42 1671.69 824.75 C1671.47 823.08 1671.25 821.42 1671.01 819.75 C1670.78 818.08 1670.54 816.42 1670.30 814.75 C1670.06 813.08 1669.80 811.42 1669.55 809.75 C1669.29 808.08 1669.03 806.42 1668.77 804.75 C1668.50 803.08 1668.23 801.42 1667.95 799.75 C1667.68 798.08 1667.40 796.42 1667.11 794.75 C1666.83 793.08 1666.54 791.42 1666.25 789.75 C1665.95 788.08 1665.66 786.42 1665.35 784.75 C1665.05 783.08 1664.75 781.42 1664.44 779.75 C1664.13 778.08 1663.82 776.42 1663.50 774.75 C1663.19 773.08 1662.87 771.42 1662.55 769.75 C1662.23 768.08 1661.91 766.42 1661.58 764.75 C1661.25 763.08 1660.92 761.42 1660.59 759.75 C1660.26 758.08 1659.93 756.42 1659.59 754.75 C1659.26 753.08 1658.92 751.42 1658.58 749.75 C1658.24 748.08 1657.90 746.42 1657.56 744.75 C1657.22 743.08 1656.88 741.42 1656.53 739.75 C1656.19 738.08 1655.85 736.42 1655.50 734.75 C1655.16 733.08 1654.81 731.42 1654.46 729.75 C1654.12 728.08 1653.77 726.42 1653.43 724.75 C1653.08 723.08 1652.73 721.42 1652.39 719.75 C1652.04 718.08 1651.70 716.42 1651.35 714.75 C1651.01 713.08 1650.66 711.42 1650.32 709.75 C1649.98 708.08 1649.63 706.42 1649.29 704.75 C1648.95 703.08 1648.61 701.42 1648.28 699.75 C1647.94 698.08 1647.60 696.42 1647.27 694.75 C1646.93 693.08 1646.60 691.42 1646.27 689.75 C1645.94 688.08 1645.61 686.42 1645.29 684.75 C1644.96 683.08 1644.64 681.42 1644.32 679.75 C1644.00 678.08 1643.68 676.42 1643.37 674.75 C1643.05 673.08 1642.74 671.42 1642.44 669.75 C1642.13 668.08 1641.82 666.42 1641.52 664.75 C1641.22 663.08 1640.92 661.42 1640.63 659.75 C1640.33 658.08 1640.04 656.42 1639.76 654.75 C1639.47 653.08 1639.18 651.42 1638.90 649.75 C1638.62 648.08 1638.34 646.42 1638.07 644.75 C1637.79 643.08 1637.52 641.42 1637.25 639.75 C1636.98 638.08 1636.72 636.42 1636.46 634.75 C1636.20 633.08 1635.94 631.42 1635.68 629.75 C1635.43 628.08 1635.18 626.42 1634.93 624.75 C1634.68 623.08 1634.44 621.42 1634.19 619.75 C1633.95 618.08 1633.71 616.42 1633.48 614.75 C1633.24 613.08 1633.01 611.42 1632.78 609.75 C1632.56 608.08 1632.33 606.42 1632.11 604.75 C1631.89 603.08 1631.67 601.42 1631.45 599.75 C1631.24 598.08 1631.03 596.42 1630.82 594.75 C1630.61 593.08 1630.41 591.42 1630.21 589.75 C1630.01 588.08 1629.81 586.42 1629.61 584.75 C1629.42 583.08 1629.23 581.42 1629.04 579.75 C1628.85 578.08 1628.67 576.42 1628.49 574.75 C1628.31 573.08 1628.13 571.42 1627.95 569.75 C1627.78 568.08 1627.61 566.42 1627.44 564.75 C1627.27 563.08 1627.11 561.42 1626.95 559.75 C1626.79 558.08 1626.63 556.42 1626.48 554.75 C1626.33 553.08 1626.18 551.42 1626.03 549.75 C1625.88 548.08 1625.74 546.42 1625.60 544.75 C1625.46 543.08 1625.33 541.42 1625.19 539.75 C1625.06 538.08 1624.93 536.42 1624.81 534.75 C1624.68 533.08 1624.56 531.42 1624.44 529.75 C1624.32 528.08 1624.21 526.42 1624.09 524.75 C1623.98 523.08 1623.87 521.42 1623.77 519.75 C1623.67 518.08 1623.56 516.42 1623.47 514.75 C1623.37 513.08 1623.27 511.42 1623.18 509.75 C1623.09 508.08 1623.01 506.42 1622.92 504.75 C1622.84 503.08 1622.76 501.42 1622.68 499.75 C1622.61 498.08 1622.53 496.42 1622.46 494.75 C1622.40 493.08 1622.33 491.42 1622.27 489.75 C1622.21 488.08 1622.15 486.42 1622.09 484.75 C1622.04 483.08 1621.99 481.42 1621.94 479.75 C1621.89 478.08 1621.84 476.42 1621.80 474.75 C1621.76 473.08 1621.73 471.42 1621.69 469.75 C1621.66 468.08 1621.62 466.42 1621.60 464.75 C1621.58 463.08 1621.58 461.42 1621.57 459.75 C1621.56 458.08 1621.57 456.42 1621.57 454.75 C1621.57 453.08 1621.57 451.42 1621.57 449.75 C1621.57 448.08 1621.57 446.42 1621.57 444.75 C1621.57 443.08 1621.57 441.42 1621.57 439.75 C1621.57 438.08 1621.57 436.42 1621.57 434.75 C1621.57 433.08 1621.57 431.42 1621.59 429.75 C1621.60 428.08 1621.64 426.42 1621.67 424.75 C1621.70 423.08 1621.74 421.42 1621.78 419.75 C1621.81 418.08 1621.86 415.58 1621.87 414.75Z"/>
<path fill="#FF3030" d="M1742.33 473.75 C1742.33 474.58 1742.33 477.08 1742.33 478.75 C1742.33 480.42 1742.33 482.08 1742.33 483.75 C1742.33 485.42 1742.33 487.08 1742.33 488.75 C1742.33 490.42 1742.33 492.08 1742.33 493.75 C1742.33 495.42 1742.33 497.08 1742.33 498.75 C1742.33 500.42 1742.33 502.08 1742.33 503.75 C1742.33 505.42 1742.35 507.08 1742.33 508.75 C1742.31 510.42 1742.27 512.08 1742.22 513.75 C1742.18 515.42 1742.12 517.08 1742.07 518.75 C1742.01 520.42 1741.95 522.08 1741.88 523.75 C1741.82 525.42 1741.75 527.08 1741.67 528.75 C1741.60 530.42 1741.52 532.08 1741.44 533.75 C1741.35 535.42 1741.26 537.08 1741.17 538.75 C1741.08 540.42 1740.98 542.08 1740.88 543.75 C1740.78 545.42 1740.67 547.08 1740.56 548.75 C1740.45 550.42 1740.34 552.08 1740.22 553.75 C1740.10 555.42 1739.98 557.08 1739.85 558.75 C1739.73 560.42 1739.60 562.08 1739.46 563.75 C1739.32 565.42 1739.18 567.08 1739.04 568.75 C1738.90 570.42 1738.75 572.08 1738.60 573.75 C1738.45 575.42 1738.29 577.08 1738.13 578.75 C1737.97 580.42 1737.81 582.08 1737.64 583.75 C1737.47 585.42 1737.30 587.08 1737.12 588.75 C1736.95 590.42 1736.77 592.08 1736.58 593.75 C1736.40 595.42 1736.21 597.08 1736.02 598.75 C1735.83 600.42 1735.64 602.08 1735.44 603.75 C1735.24 605.42 1735.04 607.08 1734.83 608.75 C1734.62 610.42 1734.41 612.08 1734.20 613.75 C1733.99 615.42 1733.77 617.08 1733.55 618.75 C1733.33 620.42 1733.10 622.08 1732.88 623.75 C1732.65 625.42 1732.42 627.08 1732.18 628.75 C1731.95 630.42 1731.71 632.08 1731.47 633.75 C1731.22 635.42 1730.98 637.08 1730.73 638.75 C1730.48 640.42 1730.23 642.08 1729.97 643.75 C1729.72 645.42 1729.46 647.08 1729.20 648.75 C1728.93 650.42 1728.67 652.08 1728.40 653.75 C1728.13 655.42 1727.86 657.08 1727.58 658.75 C1727.31 660.42 1727.03 662.08 1726.75 663.75 C1726.47 665.42 1726.18 667.08 1725.90 668.75 C1725.61 670.42 1725.32 672.08 1725.02 673.75 C1724.73 675.42 1724.43 677.08 1724.13 678.75 C1723.83 680.42 1723.53 682.08 1723.22 683.75 C1722.92 685.42 1722.61 687.08 1722.30 688.75 C1721.99 690.42 1721.67 692.08 1721.35 693.75 C1721.04 695.42 1720.72 697.08 1720.39 698.75 C1720.07 700.42 1719.74 702.08 1719.42 703.75 C1719.09 705.42 1718.76 707.08 1718.42 708.75 C1718.09 710.42 1717.75 712.08 1717.41 713.75 C1717.07 715.42 1716.73 717.08 1716.39 718.75 C1716.04 720.42 1715.70 722.08 1715.35 723.75 C1715.00 725.42 1714.64 727.08 1714.29 728.75 C1713.93 730.42 1713.58 732.08 1713.22 733.75 C1712.86 735.42 1712.50 737.08 1712.13 738.75 C1711.77 740.42 1711.41 742.08 1711.04 743.75 C1710.67 745.42 1710.30 747.08 1709.93 748.75 C1709.56 750.42 1709.19 752.08 1708.81 753.75 C1708.44 755.42 1708.06 757.08 1707.68 758.75 C1707.30 760.42 1706.92 762.08 1706.54 763.75 C1706.16 765.42 1705.78 767.08 1705.40 768.75 C1705.01 770.42 1704.63 772.08 1704.24 773.75 C1703.86 775.42 1703.47 777.08 1703.09 778.75 C1702.70 780.42 1702.31 782.08 1701.92 783.75 C1701.53 785.42 1701.14 787.08 1700.75 788.75 C1700.36 790.42 1699.97 792.08 1699.58 793.75 C1699.19 795.42 1698.79 797.08 1698.40 798.75 C1698.01 800.42 1697.62 802.08 1697.22 803.75 C1696.83 805.42 1696.44 807.08 1696.05 808.75 C1695.65 810.42 1695.26 812.08 1694.87 813.75 C1694.48 815.42 1694.09 817.08 1693.71 818.75 C1693.32 820.42 1692.94 822.08 1692.56 823.75 C1692.18 825.42 1691.80 827.08 1691.43 828.75 C1691.06 830.42 1690.69 832.08 1690.32 833.75 C1689.96 835.42 1689.61 837.08 1689.26 838.75 C1688.91 840.42 1688.56 842.08 1688.23 843.75 C1687.89 845.42 1687.56 847.08 1687.24 848.75 C1686.92 850.42 1686.61 852.08 1686.31 853.75 C1686.00 855.42 1685.71 857.08 1685.43 858.75 C1685.15 860.42 1684.87 862.08 1684.61 863.75 C1684.35 865.42 1684.11 867.08 1683.87 868.75 C1683.63 870.42 1683.41 872.08 1683.20 873.75 C1682.99 875.42 1682.79 877.08 1682.61 878.75 C1682.43 880.42 1682.26 882.08 1682.10 883.75 C1681.95 885.42 1681.82 887.08 1681.70 888.75 C1681.58 890.42 1681.47 892.08 1681.38 893.75 C1681.30 895.42 1681.23 897.08 1681.18 898.75 C1681.13 900.42 1681.09 902.08 1681.08 903.75 C1681.06 905.42 1681.07 907.08 1681.08 908.75 C1681.10 910.42 1681.14 912.08 1681.19 913.75 C1681.25 915.42 1681.32 917.08 1681.41 918.75 C1681.50 920.42 1681.60 922.08 1681.72 923.75 C1681.85 925.42 1681.99 927.08 1682.15 928.75 C1682.30 930.42 1682.48 932.08 1682.67 933.75 C1682.86 935.42 1683.07 937.08 1683.29 938.75 C1683.52 940.42 1683.76 942.08 1684.01 943.75 C1684.27 945.42 1684.55 947.08 1684.84 948.75 C1685.13 950.42 1685.44 952.08 1685.76 953.75 C1686.09 955.42 1686.43 957.08 1686.79 958.75 C1687.14 960.42 1687.51 962.08 1687.90 963.75 C1688.29 965.42 1688.70 967.08 1689.12 968.75 C1689.54 970.42 1689.98 972.08 1690.43 973.75 C1690.89 975.42 1691.36 977.08 1691.84 978.75 C1692.33 980.42 1692.83 982.08 1693.34 983.75 C1693.86 985.42 1694.39 987.08 1694.94 988.75 C1695.49 990.42 1696.05 992.08 1696.63 993.75 C1697.21 995.42 1697.81 997.08 1698.42 998.75 C1699.03 1000.42 1699.65 1002.08 1700.29 1003.75 C1700.93 1005.42 1701.59 1007.08 1702.26 1008.75 C1702.93 1010.42 1703.61 1012.08 1704.31 1013.75 C1705.01 1015.42 1705.73 1017.08 1706.46 1018.75 C1707.19 1020.42 1707.93 1022.08 1708.69 1023.75 C1709.45 1025.42 1710.23 1027.08 1711.02 1028.75 C1711.81 1030.42 1712.61 1032.08 1713.43 1033.75 C1714.24 1035.42 1715.08 1037.08 1715.91 1038.75 C1716.75 1040.42 1717.59 1042.08 1718.43 1043.75 C1719.26 1045.42 1720.10 1047.08 1720.92 1048.75 C1721.74 1050.42 1722.56 1052.08 1723.34 1053.75 C1724.12 1055.42 1724.89 1057.08 1725.62 1058.75 C1726.34 1060.42 1727.05 1062.08 1727.71 1063.75 C1728.36 1065.42 1728.98 1067.08 1729.54 1068.75 C1730.11 1070.42 1730.63 1072.08 1731.09 1073.75 C1731.54 1075.42 1731.94 1077.08 1732.27 1078.75 C1732.60 1080.42 1732.87 1082.08 1733.06 1083.75 C1733.24 1085.42 1733.35 1087.08 1733.38 1088.75 C1733.40 1090.42 1733.36 1092.08 1733.21 1093.75 C1733.06 1095.42 1732.81 1097.08 1732.47 1098.75 C1732.13 1100.42 1731.70 1102.08 1731.15 1103.75 C1730.60 1105.42 1729.92 1107.08 1729.17 1108.75 C1728.41 1110.42 1727.55 1112.08 1726.62 1113.75 C1725.69 1115.42 1724.64 1117.08 1723.59 1118.75 C1722.53 1120.42 1721.39 1122.08 1720.26 1123.75 C1719.14 1125.42 1717.95 1127.08 1716.81 1128.75 C1715.66 1130.42 1714.49 1132.08 1713.39 1133.75 C1712.29 1135.42 1711.20 1137.08 1710.20 1138.75 C1709.20 1140.42 1708.22 1142.08 1707.39 1143.75 C1706.56 1145.42 1705.81 1147.08 1705.21 1148.75 C1704.61 1150.42 1704.10 1152.08 1703.79 1153.75 C1703.48 1155.42 1703.42 1157.38 1703.36 1158.75 C1703.30 1160.12 1703.42 1161.46 1703.43 1162.00 L1781.23 1162.00 C1781.24 1161.46 1781.36 1160.12 1781.30 1158.75 C1781.24 1157.38 1781.18 1155.42 1780.87 1153.75 C1780.56 1152.08 1780.05 1150.42 1779.45 1148.75 C1778.85 1147.08 1778.10 1145.42 1777.27 1143.75 C1776.44 1142.08 1775.46 1140.42 1774.46 1138.75 C1773.46 1137.08 1772.37 1135.42 1771.27 1133.75 C1770.17 1132.08 1769.00 1130.42 1767.85 1128.75 C1766.71 1127.08 1765.52 1125.42 1764.40 1123.75 C1763.27 1122.08 1762.13 1120.42 1761.07 1118.75 C1760.02 1117.08 1758.97 1115.42 1758.04 1113.75 C1757.11 1112.08 1756.25 1110.42 1755.49 1108.75 C1754.74 1107.08 1754.06 1105.42 1753.51 1103.75 C1752.96 1102.08 1752.53 1100.42 1752.19 1098.75 C1751.85 1097.08 1751.60 1095.42 1751.45 1093.75 C1751.30 1092.08 1751.26 1090.42 1751.28 1088.75 C1751.31 1087.08 1751.42 1085.42 1751.60 1083.75 C1751.79 1082.08 1752.06 1080.42 1752.39 1078.75 C1752.72 1077.08 1753.12 1075.42 1753.57 1073.75 C1754.03 1072.08 1754.55 1070.42 1755.12 1068.75 C1755.68 1067.08 1756.30 1065.42 1756.95 1063.75 C1757.61 1062.08 1758.32 1060.42 1759.04 1058.75 C1759.77 1057.08 1760.54 1055.42 1761.32 1053.75 C1762.10 1052.08 1762.92 1050.42 1763.74 1048.75 C1764.56 1047.08 1765.40 1045.42 1766.23 1043.75 C1767.07 1042.08 1767.91 1040.42 1768.75 1038.75 C1769.58 1037.08 1770.42 1035.42 1771.23 1033.75 C1772.05 1032.08 1772.85 1030.42 1773.64 1028.75 C1774.43 1027.08 1775.21 1025.42 1775.97 1023.75 C1776.73 1022.08 1777.47 1020.42 1778.20 1018.75 C1778.93 1017.08 1779.65 1015.42 1780.35 1013.75 C1781.05 1012.08 1781.73 1010.42 1782.40 1008.75 C1783.07 1007.08 1783.73 1005.42 1784.37 1003.75 C1785.01 1002.08 1785.63 1000.42 1786.24 998.75 C1786.85 997.08 1787.45 995.42 1788.03 993.75 C1788.61 992.08 1789.17 990.42 1789.72 988.75 C1790.27 987.08 1790.80 985.42 1791.32 983.75 C1791.83 982.08 1792.33 980.42 1792.82 978.75 C1793.30 977.08 1793.77 975.42 1794.23 973.75 C1794.68 972.08 1795.12 970.42 1795.54 968.75 C1795.96 967.08 1796.37 965.42 1796.76 963.75 C1797.15 962.08 1797.52 960.42 1797.87 958.75 C1798.23 957.08 1798.57 955.42 1798.90 953.75 C1799.22 952.08 1799.53 950.42 1799.82 948.75 C1800.11 947.08 1800.39 945.42 1800.65 943.75 C1800.90 942.08 1801.14 940.42 1801.37 938.75 C1801.59 937.08 1801.80 935.42 1801.99 933.75 C1802.18 932.08 1802.36 930.42 1802.51 928.75 C1802.67 927.08 1802.81 925.42 1802.94 923.75 C1803.06 922.08 1803.16 920.42 1803.25 918.75 C1803.34 917.08 1803.41 915.42 1803.47 913.75 C1803.52 912.08 1803.56 910.42 1803.58 908.75 C1803.59 907.08 1803.60 905.42 1803.58 903.75 C1803.57 902.08 1803.53 900.42 1803.48 898.75 C1803.43 897.08 1803.36 895.42 1803.28 893.75 C1803.19 892.08 1803.08 890.42 1802.96 888.75 C1802.84 887.08 1802.71 885.42 1802.56 883.75 C1802.40 882.08 1802.23 880.42 1802.05 878.75 C1801.87 877.08 1801.67 875.42 1801.46 873.75 C1801.25 872.08 1801.03 870.42 1800.79 868.75 C1800.55 867.08 1800.31 865.42 1800.05 863.75 C1799.79 862.08 1799.51 860.42 1799.23 858.75 C1798.95 857.08 1798.66 855.42 1798.35 853.75 C1798.05 852.08 1797.74 850.42 1797.42 848.75 C1797.10 847.08 1796.77 845.42 1796.43 843.75 C1796.10 842.08 1795.75 840.42 1795.40 838.75 C1795.05 837.08 1794.70 835.42 1794.34 833.75 C1793.97 832.08 1793.60 830.42 1793.23 828.75 C1792.86 827.08 1792.48 825.42 1792.10 823.75 C1791.72 822.08 1791.34 820.42 1790.95 818.75 C1790.57 817.08 1790.18 815.42 1789.79 813.75 C1789.40 812.08 1789.01 810.42 1788.61 808.75 C1788.22 807.08 1787.83 805.42 1787.44 803.75 C1787.04 802.08 1786.65 800.42 1786.26 798.75 C1785.87 797.08 1785.47 795.42 1785.08 793.75 C1784.69 792.08 1784.30 790.42 1783.91 788.75 C1783.52 787.08 1783.13 785.42 1782.74 783.75 C1782.35 782.08 1781.96 780.42 1781.57 778.75 C1781.19 777.08 1780.80 775.42 1780.42 773.75 C1780.03 772.08 1779.65 770.42 1779.26 768.75 C1778.88 767.08 1778.50 765.42 1778.12 763.75 C1777.74 762.08 1777.36 760.42 1776.98 758.75 C1776.60 757.08 1776.22 755.42 1775.85 753.75 C1775.47 752.08 1775.10 750.42 1774.73 748.75 C1774.36 747.08 1773.99 745.42 1773.62 743.75 C1773.25 742.08 1772.89 740.42 1772.53 738.75 C1772.16 737.08 1771.80 735.42 1771.44 733.75 C1771.08 732.08 1770.73 730.42 1770.37 728.75 C1770.02 727.08 1769.66 725.42 1769.31 723.75 C1768.96 722.08 1768.62 720.42 1768.27 718.75 C1767.93 717.08 1767.59 715.42 1767.25 713.75 C1766.91 712.08 1766.57 710.42 1766.24 708.75 C1765.90 707.08 1765.57 705.42 1765.24 703.75 C1764.92 702.08 1764.59 700.42 1764.27 698.75 C1763.94 697.08 1763.62 695.42 1763.31 693.75 C1762.99 692.08 1762.67 690.42 1762.36 688.75 C1762.05 687.08 1761.74 685.42 1761.44 683.75 C1761.13 682.08 1760.83 680.42 1760.53 678.75 C1760.23 677.08 1759.93 675.42 1759.64 673.75 C1759.34 672.08 1759.05 670.42 1758.76 668.75 C1758.48 667.08 1758.19 665.42 1757.91 663.75 C1757.63 662.08 1757.35 660.42 1757.08 658.75 C1756.80 657.08 1756.53 655.42 1756.26 653.75 C1755.99 652.08 1755.73 650.42 1755.46 648.75 C1755.20 647.08 1754.94 645.42 1754.69 643.75 C1754.43 642.08 1754.18 640.42 1753.93 638.75 C1753.68 637.08 1753.44 635.42 1753.19 633.75 C1752.95 632.08 1752.71 630.42 1752.48 628.75 C1752.24 627.08 1752.01 625.42 1751.78 623.75 C1751.56 622.08 1751.33 620.42 1751.11 618.75 C1750.89 617.08 1750.67 615.42 1750.46 613.75 C1750.25 612.08 1750.04 610.42 1749.83 608.75 C1749.62 607.08 1749.42 605.42 1749.22 603.75 C1749.02 602.08 1748.83 600.42 1748.64 598.75 C1748.45 597.08 1748.26 595.42 1748.08 593.75 C1747.89 592.08 1747.71 590.42 1747.54 588.75 C1747.36 587.08 1747.19 585.42 1747.02 583.75 C1746.85 582.08 1746.69 580.42 1746.53 578.75 C1746.37 577.08 1746.21 575.42 1746.06 573.75 C1745.91 572.08 1745.76 570.42 1745.62 568.75 C1745.48 567.08 1745.34 565.42 1745.20 563.75 C1745.06 562.08 1744.93 560.42 1744.81 558.75 C1744.68 557.08 1744.56 555.42 1744.44 553.75 C1744.32 552.08 1744.21 550.42 1744.10 548.75 C1743.99 547.08 1743.88 545.42 1743.78 543.75 C1743.68 542.08 1743.58 540.42 1743.49 538.75 C1743.40 537.08 1743.31 535.42 1743.22 533.75 C1743.14 532.08 1743.06 530.42 1742.99 528.75 C1742.91 527.08 1742.84 525.42 1742.78 523.75 C1742.71 522.08 1742.65 520.42 1742.59 518.75 C1742.54 517.08 1742.48 515.42 1742.44 513.75 C1742.39 512.08 1742.35 510.42 1742.33 508.75 C1742.31 507.08 1742.33 505.42 1742.33 503.75 C1742.33 502.08 1742.33 500.42 1742.33 498.75 C1742.33 497.08 1742.33 495.42 1742.33 493.75 C1742.33 492.08 1742.33 490.42 1742.33 488.75 C1742.33 487.08 1742.33 485.42 1742.33 483.75 C1742.33 482.08 1742.33 480.42 1742.33 478.75 C1742.33 477.08 1742.33 474.58 1742.33 473.75Z"/>
<path fill="#436EEE" d="M1889.94 329.85 C1889.94 330.68 1889.94 333.18 1889.94 334.85 C1889.94 336.52 1889.94 338.18 1889.94 339.85 C1889.94 341.52 1889.94 343.18 1889.94 344.85 C1889.94 346.52 1889.94 348.18 1889.94 349.85 C1889.94 351.52 1889.94 353.18 1889.94 354.85 C1889.94 356.52 1889.94 358.18 1889.94 359.85 C1889.94 361.52 1889.94 363.18 1889.94 364.85 C1889.94 366.52 1889.94 368.18 1889.94 369.85 C1889.94 371.52 1889.94 373.18 1889.94 374.85 C1889.94 376.52 1889.93 378.18 1889.91 379.85 C1889.90 381.52 1889.87 383.18 1889.84 384.85 C1889.82 386.52 1889.79 388.18 1889.76 389.85 C1889.73 391.52 1889.70 393.18 1889.67 394.85 C1889.64 396.52 1889.60 398.18 1889.56 399.85 C1889.53 401.52 1889.49 403.18 1889.44 404.85 C1889.40 406.52 1889.36 408.18 1889.31 409.85 C1889.27 411.52 1889.22 413.18 1889.17 414.85 C1889.12 416.52 1889.07 418.18 1889.01 419.85 C1888.96 421.52 1888.90 423.18 1888.84 424.85 C1888.78 426.52 1888.72 428.18 1888.65 429.85 C1888.59 431.52 1888.52 433.18 1888.45 434.85 C1888.39 436.52 1888.31 438.18 1888.24 439.85 C1888.17 441.52 1888.09 443.18 1888.01 444.85 C1887.93 446.52 1887.85 448.18 1887.77 449.85 C1887.68 451.52 1887.60 453.18 1887.51 454.85 C1887.42 456.52 1887.33 458.18 1887.23 459.85 C1887.14 461.52 1887.04 463.18 1886.94 464.85 C1886.84 466.52 1886.74 468.18 1886.63 469.85 C1886.53 471.52 1886.42 473.18 1886.31 474.85 C1886.19 476.52 1886.08 478.18 1885.96 479.85 C1885.85 481.52 1885.73 483.18 1885.61 484.85 C1885.48 486.52 1885.36 488.18 1885.23 489.85 C1885.10 491.52 1884.97 493.18 1884.83 494.85 C1884.70 496.52 1884.56 498.18 1884.42 499.85 C1884.28 501.52 1884.14 503.18 1883.99 504.85 C1883.84 506.52 1883.69 508.18 1883.54 509.85 C1883.39 511.52 1883.23 513.18 1883.07 514.85 C1882.91 516.52 1882.75 518.18 1882.58 519.85 C1882.42 521.52 1882.25 523.18 1882.08 524.85 C1881.90 526.52 1881.73 528.18 1881.55 529.85 C1881.37 531.52 1881.19 533.18 1881.00 534.85 C1880.81 536.52 1880.63 538.18 1880.43 539.85 C1880.24 541.52 1880.04 543.18 1879.84 544.85 C1879.64 546.52 1879.44 548.18 1879.23 549.85 C1879.03 551.52 1878.82 553.18 1878.60 554.85 C1878.39 556.52 1878.17 558.18 1877.95 559.85 C1877.73 561.52 1877.50 563.18 1877.27 564.85 C1877.04 566.52 1876.81 568.18 1876.58 569.85 C1876.34 571.52 1876.10 573.18 1875.86 574.85 C1875.61 576.52 1875.36 578.18 1875.11 579.85 C1874.86 581.52 1874.61 583.18 1874.35 584.85 C1874.09 586.52 1873.82 588.18 1873.56 589.85 C1873.29 591.52 1873.02 593.18 1872.74 594.85 C1872.47 596.52 1872.19 598.18 1871.91 599.85 C1871.62 601.52 1871.34 603.18 1871.05 604.85 C1870.75 606.52 1870.46 608.18 1870.16 609.85 C1869.86 611.52 1869.56 613.18 1869.25 614.85 C1868.94 616.52 1868.63 618.18 1868.31 619.85 C1868.00 621.52 1867.67 623.18 1867.35 624.85 C1867.02 626.52 1866.70 628.18 1866.36 629.85 C1866.03 631.52 1865.69 633.18 1865.35 634.85 C1865.01 636.52 1864.66 638.18 1864.31 639.85 C1863.96 641.52 1863.60 643.18 1863.24 644.85 C1862.88 646.52 1862.52 648.18 1862.15 649.85 C1861.79 651.52 1861.41 653.18 1861.04 654.85 C1860.67 656.52 1860.29 658.18 1859.91 659.85 C1859.54 661.52 1859.15 663.18 1858.77 664.85 C1858.39 666.52 1858.01 668.18 1857.63 669.85 C1857.24 671.52 1856.86 673.18 1856.47 674.85 C1856.09 676.52 1855.70 678.18 1855.32 679.85 C1854.94 681.52 1854.55 683.18 1854.17 684.85 C1853.79 686.52 1853.41 688.18 1853.03 689.85 C1852.65 691.52 1852.27 693.18 1851.90 694.85 C1851.52 696.52 1851.15 698.18 1850.78 699.85 C1850.41 701.52 1850.05 703.18 1849.69 704.85 C1849.33 706.52 1848.97 708.18 1848.62 709.85 C1848.27 711.52 1847.92 713.18 1847.58 714.85 C1847.23 716.52 1846.90 718.18 1846.57 719.85 C1846.23 721.52 1845.91 723.18 1845.59 724.85 C1845.27 726.52 1844.96 728.18 1844.66 729.85 C1844.35 731.52 1844.05 733.18 1843.76 734.85 C1843.46 736.52 1843.18 738.18 1842.89 739.85 C1842.61 741.52 1842.33 743.18 1842.06 744.85 C1841.78 746.52 1841.51 748.18 1841.24 749.85 C1840.98 751.52 1840.71 753.18 1840.45 754.85 C1840.19 756.52 1839.93 758.18 1839.67 759.85 C1839.42 761.52 1839.16 763.18 1838.91 764.85 C1838.65 766.52 1838.40 768.18 1838.15 769.85 C1837.90 771.52 1837.65 773.18 1837.40 774.85 C1837.16 776.52 1836.92 778.18 1836.68 779.85 C1836.44 781.52 1836.20 783.18 1835.97 784.85 C1835.73 786.52 1835.50 788.18 1835.28 789.85 C1835.06 791.52 1834.84 793.18 1834.62 794.85 C1834.41 796.52 1834.20 798.18 1834.00 799.85 C1833.79 801.52 1833.60 803.18 1833.41 804.85 C1833.22 806.52 1833.03 808.18 1832.85 809.85 C1832.68 811.52 1832.51 813.18 1832.35 814.85 C1832.18 816.52 1832.03 818.18 1831.88 819.85 C1831.74 821.52 1831.60 823.18 1831.47 824.85 C1831.35 826.52 1831.23 828.18 1831.12 829.85 C1831.01 831.52 1830.91 833.18 1830.82 834.85 C1830.73 836.52 1830.65 838.18 1830.58 839.85 C1830.51 841.52 1830.46 843.18 1830.41 844.85 C1830.37 846.52 1830.33 848.18 1830.31 849.85 C1830.29 851.52 1830.28 853.18 1830.29 854.85 C1830.29 856.52 1830.31 858.18 1830.34 859.85 C1830.37 861.52 1830.42 863.18 1830.47 864.85 C1830.53 866.52 1830.60 868.18 1830.69 869.85 C1830.78 871.52 1830.88 873.18 1831.00 874.85 C1831.12 876.52 1831.25 878.18 1831.40 879.85 C1831.54 881.52 1831.70 883.18 1831.87 884.85 C1832.04 886.52 1832.23 888.18 1832.42 889.85 C1832.61 891.52 1832.82 893.18 1833.03 894.85 C1833.25 896.52 1833.47 898.18 1833.70 899.85 C1833.92 901.52 1834.16 903.18 1834.41 904.85 C1834.65 906.52 1834.90 908.18 1835.15 909.85 C1835.40 911.52 1835.66 913.18 1835.92 914.85 C1836.18 916.52 1836.44 918.18 1836.71 919.85 C1836.97 921.52 1837.24 923.18 1837.50 924.85 C1837.77 926.52 1838.03 928.18 1838.30 929.85 C1838.56 931.52 1838.83 933.18 1839.08 934.85 C1839.34 936.52 1839.60 938.18 1839.85 939.85 C1840.10 941.52 1840.35 943.18 1840.59 944.85 C1840.83 946.52 1841.07 948.18 1841.30 949.85 C1841.52 951.52 1841.74 953.18 1841.95 954.85 C1842.16 956.52 1842.37 958.18 1842.56 959.85 C1842.75 961.52 1842.93 963.18 1843.10 964.85 C1843.27 966.52 1843.43 968.18 1843.59 969.85 C1843.76 971.52 1843.91 973.18 1844.08 974.85 C1844.25 976.52 1844.41 978.18 1844.61 979.85 C1844.81 981.52 1845.02 983.18 1845.26 984.85 C1845.51 986.52 1845.77 988.18 1846.09 989.85 C1846.41 991.52 1846.76 993.18 1847.17 994.85 C1847.58 996.52 1848.03 998.18 1848.55 999.85 C1849.07 1001.52 1849.66 1003.18 1850.28 1004.85 C1850.90 1006.52 1851.58 1008.18 1852.30 1009.85 C1853.01 1011.52 1853.78 1013.18 1854.55 1014.85 C1855.33 1016.52 1856.15 1018.18 1856.97 1019.85 C1857.79 1021.52 1858.65 1023.18 1859.49 1024.85 C1860.34 1026.52 1861.20 1028.18 1862.04 1029.85 C1862.88 1031.52 1863.73 1033.18 1864.55 1034.85 C1865.38 1036.52 1866.20 1038.18 1866.98 1039.85 C1867.77 1041.52 1868.54 1043.18 1869.28 1044.85 C1870.02 1046.52 1870.74 1048.18 1871.41 1049.85 C1872.09 1051.52 1872.73 1053.18 1873.34 1054.85 C1873.94 1056.52 1874.52 1058.18 1875.04 1059.85 C1875.55 1061.52 1876.03 1063.18 1876.45 1064.85 C1876.87 1066.52 1877.26 1068.18 1877.57 1069.85 C1877.89 1071.52 1878.15 1073.18 1878.35 1074.85 C1878.54 1076.52 1878.69 1078.18 1878.76 1079.85 C1878.83 1081.52 1878.83 1083.18 1878.76 1084.85 C1878.69 1086.52 1878.56 1088.18 1878.34 1089.85 C1878.12 1091.52 1877.81 1093.18 1877.43 1094.85 C1877.05 1096.52 1876.60 1098.18 1876.04 1099.85 C1875.49 1101.52 1874.83 1103.18 1874.10 1104.85 C1873.36 1106.52 1872.54 1108.18 1871.63 1109.85 C1870.72 1111.52 1869.70 1113.18 1868.65 1114.85 C1867.59 1116.52 1866.46 1118.18 1865.31 1119.85 C1864.15 1121.52 1862.93 1123.18 1861.71 1124.85 C1860.50 1126.52 1859.24 1128.18 1858.01 1129.85 C1856.78 1131.52 1855.54 1133.18 1854.34 1134.85 C1853.14 1136.52 1851.95 1138.18 1850.83 1139.85 C1849.72 1141.52 1848.63 1143.18 1847.65 1144.85 C1846.66 1146.52 1845.71 1148.18 1844.90 1149.85 C1844.09 1151.52 1843.37 1153.18 1842.80 1154.85 C1842.22 1156.52 1841.68 1158.66 1841.45 1159.85 C1841.22 1161.04 1841.42 1161.64 1841.41 1162.00 L1938.47 1162.00 C1938.46 1161.64 1938.66 1161.04 1938.43 1159.85 C1938.20 1158.66 1937.66 1156.52 1937.08 1154.85 C1936.51 1153.18 1935.79 1151.52 1934.98 1149.85 C1934.17 1148.18 1933.22 1146.52 1932.23 1144.85 C1931.25 1143.18 1930.16 1141.52 1929.05 1139.85 C1927.93 1138.18 1926.74 1136.52 1925.54 1134.85 C1924.34 1133.18 1923.10 1131.52 1921.87 1129.85 C1920.64 1128.18 1919.38 1126.52 1918.17 1124.85 C1916.95 1123.18 1915.73 1121.52 1914.57 1119.85 C1913.42 1118.18 1912.29 1116.52 1911.23 1114.85 C1910.18 1113.18 1909.16 1111.52 1908.25 1109.85 C1907.34 1108.18 1906.52 1106.52 1905.78 1104.85 C1905.05 1103.18 1904.39 1101.52 1903.84 1099.85 C1903.28 1098.18 1902.83 1096.52 1902.45 1094.85 C1902.07 1093.18 1901.76 1091.52 1901.54 1089.85 C1901.32 1088.18 1901.19 1086.52 1901.12 1084.85 C1901.05 1083.18 1901.05 1081.52 1901.12 1079.85 C1901.19 1078.18 1901.34 1076.52 1901.53 1074.85 C1901.73 1073.18 1901.99 1071.52 1902.31 1069.85 C1902.62 1068.18 1903.01 1066.52 1903.43 1064.85 C1903.85 1063.18 1904.33 1061.52 1904.84 1059.85 C1905.36 1058.18 1905.94 1056.52 1906.54 1054.85 C1907.15 1053.18 1907.79 1051.52 1908.47 1049.85 C1909.14 1048.18 1909.86 1046.52 1910.60 1044.85 C1911.34 1043.18 1912.11 1041.52 1912.90 1039.85 C1913.68 1038.18 1914.50 1036.52 1915.33 1034.85 C1916.15 1033.18 1917.00 1031.52 1917.84 1029.85 C1918.68 1028.18 1919.54 1026.52 1920.39 1024.85 C1921.23 1023.18 1922.09 1021.52 1922.91 1019.85 C1923.73 1018.18 1924.55 1016.52 1925.33 1014.85 C1926.10 1013.18 1926.87 1011.52 1927.58 1009.85 C1928.30 1008.18 1928.98 1006.52 1929.60 1004.85 C1930.22 1003.18 1930.81 1001.52 1931.33 999.85 C1931.85 998.18 1932.30 996.52 1932.71 994.85 C1933.12 993.18 1933.47 991.52 1933.79 989.85 C1934.11 988.18 1934.37 986.52 1934.62 984.85 C1934.86 983.18 1935.07 981.52 1935.27 979.85 C1935.47 978.18 1935.63 976.52 1935.80 974.85 C1935.97 973.18 1936.12 971.52 1936.29 969.85 C1936.45 968.18 1936.61 966.52 1936.78 964.85 C1936.95 963.18 1937.13 961.52 1937.32 959.85 C1937.51 958.18 1937.72 956.52 1937.93 954.85 C1938.14 953.18 1938.36 951.52 1938.58 949.85 C1938.81 948.18 1939.05 946.52 1939.29 944.85 C1939.53 943.18 1939.78 941.52 1940.03 939.85 C1940.28 938.18 1940.54 936.52 1940.80 934.85 C1941.05 933.18 1941.32 931.52 1941.58 929.85 C1941.85 928.18 1942.11 926.52 1942.38 924.85 C1942.64 923.18 1942.91 921.52 1943.17 919.85 C1943.44 918.18 1943.70 916.52 1943.96 914.85 C1944.22 913.18 1944.48 911.52 1944.73 909.85 C1944.98 908.18 1945.23 906.52 1945.47 904.85 C1945.72 903.18 1945.96 901.52 1946.18 899.85 C1946.41 898.18 1946.63 896.52 1946.85 894.85 C1947.06 893.18 1947.27 891.52 1947.46 889.85 C1947.65 888.18 1947.84 886.52 1948.01 884.85 C1948.18 883.18 1948.34 881.52 1948.48 879.85 C1948.63 878.18 1948.76 876.52 1948.88 874.85 C1949.00 873.18 1949.10 871.52 1949.19 869.85 C1949.28 868.18 1949.35 866.52 1949.41 864.85 C1949.46 863.18 1949.51 861.52 1949.54 859.85 C1949.57 858.18 1949.59 856.52 1949.59 854.85 C1949.60 853.18 1949.59 851.52 1949.57 849.85 C1949.55 848.18 1949.51 846.52 1949.47 844.85 C1949.42 843.18 1949.37 841.52 1949.30 839.85 C1949.23 838.18 1949.15 836.52 1949.06 834.85 C1948.97 833.18 1948.87 831.52 1948.76 829.85 C1948.65 828.18 1948.53 826.52 1948.41 824.85 C1948.28 823.18 1948.14 821.52 1948.00 819.85 C1947.85 818.18 1947.70 816.52 1947.53 814.85 C1947.37 813.18 1947.20 811.52 1947.03 809.85 C1946.85 808.18 1946.66 806.52 1946.47 804.85 C1946.28 803.18 1946.09 801.52 1945.88 799.85 C1945.68 798.18 1945.47 796.52 1945.26 794.85 C1945.04 793.18 1944.82 791.52 1944.60 789.85 C1944.38 788.18 1944.15 786.52 1943.91 784.85 C1943.68 783.18 1943.44 781.52 1943.20 779.85 C1942.96 778.18 1942.72 776.52 1942.48 774.85 C1942.23 773.18 1941.98 771.52 1941.73 769.85 C1941.48 768.18 1941.23 766.52 1940.97 764.85 C1940.72 763.18 1940.46 761.52 1940.21 759.85 C1939.95 758.18 1939.69 756.52 1939.43 754.85 C1939.17 753.18 1938.90 751.52 1938.64 749.85 C1938.37 748.18 1938.10 746.52 1937.82 744.85 C1937.55 743.18 1937.27 741.52 1936.99 739.85 C1936.70 738.18 1936.42 736.52 1936.12 734.85 C1935.83 733.18 1935.53 731.52 1935.22 729.85 C1934.92 728.18 1934.61 726.52 1934.29 724.85 C1933.97 723.18 1933.65 721.52 1933.31 719.85 C1932.98 718.18 1932.65 716.52 1932.30 714.85 C1931.96 713.18 1931.61 711.52 1931.26 709.85 C1930.91 708.18 1930.55 706.52 1930.19 704.85 C1929.83 703.18 1929.47 701.52 1929.10 699.85 C1928.73 698.18 1928.36 696.52 1927.98 694.85 C1927.61 693.18 1927.23 691.52 1926.85 689.85 C1926.47 688.18 1926.09 686.52 1925.71 684.85 C1925.33 683.18 1924.94 681.52 1924.56 679.85 C1924.18 678.18 1923.79 676.52 1923.41 674.85 C1923.02 673.18 1922.64 671.52 1922.25 669.85 C1921.87 668.18 1921.49 666.52 1921.11 664.85 C1920.73 663.18 1920.34 661.52 1919.97 659.85 C1919.59 658.18 1919.21 656.52 1918.84 654.85 C1918.47 653.18 1918.09 651.52 1917.73 649.85 C1917.36 648.18 1917.00 646.52 1916.64 644.85 C1916.28 643.18 1915.92 641.52 1915.57 639.85 C1915.22 638.18 1914.87 636.52 1914.53 634.85 C1914.19 633.18 1913.85 631.52 1913.52 629.85 C1913.18 628.18 1912.86 626.52 1912.53 624.85 C1912.21 623.18 1911.88 621.52 1911.57 619.85 C1911.25 618.18 1910.94 616.52 1910.63 614.85 C1910.32 613.18 1910.02 611.52 1909.72 609.85 C1909.42 608.18 1909.13 606.52 1908.83 604.85 C1908.54 603.18 1908.26 601.52 1907.97 599.85 C1907.69 598.18 1907.41 596.52 1907.14 594.85 C1906.86 593.18 1906.59 591.52 1906.32 589.85 C1906.06 588.18 1905.79 586.52 1905.53 584.85 C1905.27 583.18 1905.02 581.52 1904.77 579.85 C1904.52 578.18 1904.27 576.52 1904.02 574.85 C1903.78 573.18 1903.54 571.52 1903.30 569.85 C1903.07 568.18 1902.84 566.52 1902.61 564.85 C1902.38 563.18 1902.15 561.52 1901.93 559.85 C1901.71 558.18 1901.49 556.52 1901.28 554.85 C1901.06 553.18 1900.85 551.52 1900.65 549.85 C1900.44 548.18 1900.24 546.52 1900.04 544.85 C1899.84 543.18 1899.64 541.52 1899.45 539.85 C1899.25 538.18 1899.07 536.52 1898.88 534.85 C1898.69 533.18 1898.51 531.52 1898.33 529.85 C1898.15 528.18 1897.98 526.52 1897.80 524.85 C1897.63 523.18 1897.46 521.52 1897.30 519.85 C1897.13 518.18 1896.97 516.52 1896.81 514.85 C1896.65 513.18 1896.49 511.52 1896.34 509.85 C1896.19 508.18 1896.04 506.52 1895.89 504.85 C1895.74 503.18 1895.60 501.52 1895.46 499.85 C1895.32 498.18 1895.18 496.52 1895.05 494.85 C1894.91 493.18 1894.78 491.52 1894.65 489.85 C1894.52 488.18 1894.40 486.52 1894.27 484.85 C1894.15 483.18 1894.03 481.52 1893.92 479.85 C1893.80 478.18 1893.69 476.52 1893.57 474.85 C1893.46 473.18 1893.35 471.52 1893.25 469.85 C1893.14 468.18 1893.04 466.52 1892.94 464.85 C1892.84 463.18 1892.74 461.52 1892.65 459.85 C1892.55 458.18 1892.46 456.52 1892.37 454.85 C1892.28 453.18 1892.20 451.52 1892.11 449.85 C1892.03 448.18 1891.95 446.52 1891.87 444.85 C1891.79 443.18 1891.71 441.52 1891.64 439.85 C1891.57 438.18 1891.49 436.52 1891.43 434.85 C1891.36 433.18 1891.29 431.52 1891.23 429.85 C1891.16 428.18 1891.10 426.52 1891.04 424.85 C1890.98 423.18 1890.92 421.52 1890.87 419.85 C1890.81 418.18 1890.76 416.52 1890.71 414.85 C1890.66 413.18 1890.61 411.52 1890.57 409.85 C1890.52 408.18 1890.48 406.52 1890.44 404.85 C1890.39 403.18 1890.35 401.52 1890.32 399.85 C1890.28 398.18 1890.24 396.52 1890.21 394.85 C1890.18 393.18 1890.15 391.52 1890.12 389.85 C1890.09 388.18 1890.06 386.52 1890.04 384.85 C1890.01 383.18 1889.98 381.52 1889.97 379.85 C1889.95 378.18 1889.94 376.52 1889.94 374.85 C1889.94 373.18 1889.94 371.52 1889.94 369.85 C1889.94 368.18 1889.94 366.52 1889.94 364.85 C1889.94 363.18 1889.94 361.52 1889.94 359.85 C1889.94 358.18 1889.94 356.52 1889.94 354.85 C1889.94 353.18 1889.94 351.52 1889.94 349.85 C1889.94 348.18 1889.94 346.52 1889.94 344.85 C1889.94 343.18 1889.94 341.52 1889.94 339.85 C1889.94 338.18 1889.94 336.52 1889.94 334.85 C1889.94 333.18 1889.94 330.68 1889.94 329.85Z"/>
<path fill="#FF3030" d="M2010.70 320.05 C2010.70 320.88 2010.70 323.38 2010.70 325.05 C2010.70 326.72 2010.70 328.38 2010.70 330.05 C2010.70 331.72 2010.70 333.38 2010.70 335.05 C2010.70 336.72 2010.70 338.38 2010.70 340.05 C2010.70 341.72 2010.70 343.38 2010.70 345.05 C2010.70 346.72 2010.70 348.38 2010.70 350.05 C2010.70 351.72 2010.70 353.38 2010.70 355.05 C2010.70 356.72 2010.70 358.38 2010.70 360.05 C2010.70 361.72 2010.70 363.38 2010.70 365.05 C2010.70 366.72 2010.70 368.38 2010.70 370.05 C2010.70 371.72 2010.70 373.38 2010.70 375.05 C2010.70 376.72 2010.70 378.38 2010.70 380.05 C2010.70 381.72 2010.70 383.38 2010.70 385.05 C2010.70 386.72 2010.70 388.38 2010.70 390.05 C2010.70 391.72 2010.70 393.38 2010.70 395.05 C2010.70 396.72 2010.70 398.38 2010.70 400.05 C2010.70 401.72 2010.70 403.38 2010.70 405.05 C2010.70 406.72 2010.70 408.38 2010.70 410.05 C2010.70 411.72 2010.70 413.38 2010.70 415.05 C2010.70 416.72 2010.70 418.38 2010.70 420.05 C2010.70 421.72 2010.70 423.38 2010.70 425.05 C2010.70 426.72 2010.70 428.38 2010.70 430.05 C2010.70 431.72 2010.70 433.38 2010.70 435.05 C2010.70 436.72 2010.70 438.38 2010.70 440.05 C2010.70 441.72 2010.70 443.38 2010.70 445.05 C2010.70 446.72 2010.70 448.38 2010.70 450.05 C2010.70 451.72 2010.70 453.38 2010.70 455.05 C2010.70 456.72 2010.70 458.38 2010.70 460.05 C2010.70 461.72 2010.70 463.38 2010.70 465.05 C2010.70 466.72 2010.70 468.38 2010.70 470.05 C2010.70 471.72 2010.70 473.38 2010.70 475.05 C2010.70 476.72 2010.70 478.38 2010.70 480.05 C2010.70 481.72 2010.70 483.38 2010.70 485.05 C2010.70 486.72 2010.70 488.38 2010.70 490.05 C2010.70 491.72 2010.70 493.38 2010.70 495.05 C2010.70 496.72 2010.75 498.38 2010.70 500.05 C2010.65 501.72 2010.52 503.38 2010.39 505.05 C2010.27 506.72 2010.10 508.38 2009.94 510.05 C2009.79 511.72 2009.64 513.38 2009.48 515.05 C2009.32 516.72 2009.16 518.38 2008.99 520.05 C2008.83 521.72 2008.66 523.38 2008.49 525.05 C2008.32 526.72 2008.14 528.38 2007.97 530.05 C2007.79 531.72 2007.61 533.38 2007.43 535.05 C2007.25 536.72 2007.06 538.38 2006.87 540.05 C2006.69 541.72 2006.49 543.38 2006.30 545.05 C2006.11 546.72 2005.91 548.38 2005.71 550.05 C2005.51 551.72 2005.31 553.38 2005.11 555.05 C2004.90 556.72 2004.70 558.38 2004.49 560.05 C2004.28 561.72 2004.06 563.38 2003.85 565.05 C2003.64 566.72 2003.42 568.38 2003.20 570.05 C2002.98 571.72 2002.76 573.38 2002.53 575.05 C2002.31 576.72 2002.08 578.38 2001.85 580.05 C2001.62 581.72 2001.39 583.38 2001.16 585.05 C2000.92 586.72 2000.69 588.38 2000.45 590.05 C2000.21 591.72 1999.97 593.38 1999.73 595.05 C1999.49 596.72 1999.24 598.38 1998.99 600.05 C1998.75 601.72 1998.50 603.38 1998.25 605.05 C1998.00 606.72 1997.74 608.38 1997.49 610.05 C1997.23 611.72 1996.98 613.38 1996.72 615.05 C1996.46 616.72 1996.20 618.38 1995.93 620.05 C1995.67 621.72 1995.40 623.38 1995.14 625.05 C1994.87 626.72 1994.60 628.38 1994.33 630.05 C1994.06 631.72 1993.79 633.38 1993.52 635.05 C1993.24 636.72 1992.97 638.38 1992.69 640.05 C1992.41 641.72 1992.13 643.38 1991.85 645.05 C1991.57 646.72 1991.29 648.38 1991.00 650.05 C1990.72 651.72 1990.44 653.38 1990.15 655.05 C1989.86 656.72 1989.57 658.38 1989.28 660.05 C1988.99 661.72 1988.70 663.38 1988.41 665.05 C1988.12 666.72 1987.82 668.38 1987.53 670.05 C1987.23 671.72 1986.94 673.38 1986.64 675.05 C1986.34 676.72 1986.04 678.38 1985.74 680.05 C1985.44 681.72 1985.14 683.38 1984.84 685.05 C1984.53 686.72 1984.23 688.38 1983.92 690.05 C1983.62 691.72 1983.31 693.38 1983.00 695.05 C1982.70 696.72 1982.39 698.38 1982.08 700.05 C1981.77 701.72 1981.46 703.38 1981.14 705.05 C1980.83 706.72 1980.51 708.38 1980.19 710.05 C1979.86 711.72 1979.54 713.38 1979.21 715.05 C1978.87 716.72 1978.54 718.38 1978.19 720.05 C1977.84 721.72 1977.49 723.38 1977.13 725.05 C1976.76 726.72 1976.39 728.38 1976.01 730.05 C1975.63 731.72 1975.24 733.38 1974.84 735.05 C1974.43 736.72 1974.02 738.38 1973.59 740.05 C1973.16 741.72 1972.72 743.38 1972.26 745.05 C1971.81 746.72 1971.34 748.38 1970.86 750.05 C1970.38 751.72 1969.89 753.38 1969.39 755.05 C1968.89 756.72 1968.39 758.38 1967.88 760.05 C1967.37 761.72 1966.85 763.38 1966.34 765.05 C1965.83 766.72 1965.31 768.38 1964.80 770.05 C1964.29 771.72 1963.79 773.38 1963.29 775.05 C1962.79 776.72 1962.30 778.38 1961.82 780.05 C1961.34 781.72 1960.88 783.38 1960.42 785.05 C1959.97 786.72 1959.53 788.38 1959.12 790.05 C1958.70 791.72 1958.30 793.38 1957.92 795.05 C1957.54 796.72 1957.18 798.38 1956.84 800.05 C1956.49 801.72 1956.17 803.38 1955.87 805.05 C1955.56 806.72 1955.27 808.38 1955.00 810.05 C1954.72 811.72 1954.47 813.38 1954.23 815.05 C1953.99 816.72 1953.77 818.38 1953.56 820.05 C1953.35 821.72 1953.15 823.38 1952.97 825.05 C1952.79 826.72 1952.63 828.38 1952.47 830.05 C1952.32 831.72 1952.18 833.38 1952.05 835.05 C1951.93 836.72 1951.81 838.38 1951.71 840.05 C1951.60 841.72 1951.51 843.38 1951.43 845.05 C1951.35 846.72 1951.27 848.38 1951.21 850.05 C1951.15 851.72 1951.10 853.38 1951.06 855.05 C1951.01 856.72 1950.98 858.38 1950.95 860.05 C1950.92 861.72 1950.91 863.38 1950.89 865.05 C1950.88 866.72 1950.88 868.38 1950.88 870.05 C1950.88 871.72 1950.89 873.38 1950.90 875.05 C1950.91 876.72 1950.93 878.38 1950.95 880.05 C1950.98 881.72 1951.00 883.38 1951.04 885.05 C1951.07 886.72 1951.10 888.38 1951.14 890.05 C1951.17 891.72 1951.21 893.38 1951.26 895.05 C1951.30 896.72 1951.34 898.38 1951.39 900.05 C1951.44 901.72 1951.49 903.38 1951.54 905.05 C1951.59 906.72 1951.65 908.38 1951.71 910.05 C1951.77 911.72 1951.84 913.38 1951.91 915.05 C1951.98 916.72 1952.05 918.38 1952.13 920.05 C1952.22 921.72 1952.30 923.38 1952.40 925.05 C1952.49 926.72 1952.60 928.38 1952.70 930.05 C1952.81 931.72 1952.93 933.38 1953.06 935.05 C1953.18 936.72 1953.32 938.38 1953.46 940.05 C1953.60 941.72 1953.76 943.38 1953.92 945.05 C1954.08 946.72 1954.25 948.38 1954.44 950.05 C1954.62 951.72 1954.82 953.38 1955.03 955.05 C1955.23 956.72 1955.45 958.38 1955.68 960.05 C1955.92 961.72 1956.16 963.38 1956.42 965.05 C1956.68 966.72 1956.95 968.38 1957.23 970.05 C1957.52 971.72 1957.82 973.38 1958.14 975.05 C1958.45 976.72 1958.78 978.38 1959.13 980.05 C1959.47 981.72 1959.84 983.38 1960.22 985.05 C1960.60 986.72 1960.99 988.38 1961.41 990.05 C1961.82 991.72 1962.25 993.38 1962.70 995.05 C1963.16 996.72 1963.62 998.38 1964.11 1000.05 C1964.60 1001.72 1965.11 1003.38 1965.64 1005.05 C1966.17 1006.72 1966.71 1008.38 1967.28 1010.05 C1967.85 1011.72 1968.44 1013.38 1969.06 1015.05 C1969.67 1016.72 1970.30 1018.38 1970.96 1020.05 C1971.62 1021.72 1972.30 1023.38 1973.00 1025.05 C1973.71 1026.72 1974.43 1028.38 1975.18 1030.05 C1975.94 1031.72 1976.72 1033.38 1977.51 1035.05 C1978.31 1036.72 1979.13 1038.38 1979.96 1040.05 C1980.79 1041.72 1981.65 1043.38 1982.49 1045.05 C1983.33 1046.72 1984.19 1048.38 1985.03 1050.05 C1985.86 1051.72 1986.70 1053.38 1987.50 1055.05 C1988.31 1056.72 1989.11 1058.38 1989.86 1060.05 C1990.62 1061.72 1991.34 1063.38 1992.03 1065.05 C1992.71 1066.72 1993.37 1068.38 1993.95 1070.05 C1994.54 1071.72 1995.08 1073.38 1995.56 1075.05 C1996.04 1076.72 1996.47 1078.38 1996.81 1080.05 C1997.15 1081.72 1997.43 1083.38 1997.62 1085.05 C1997.81 1086.72 1997.94 1088.38 1997.96 1090.05 C1997.98 1091.72 1997.91 1093.38 1997.74 1095.05 C1997.57 1096.72 1997.32 1098.38 1996.94 1100.05 C1996.57 1101.72 1996.07 1103.38 1995.47 1105.05 C1994.88 1106.72 1994.17 1108.38 1993.36 1110.05 C1992.55 1111.72 1991.60 1113.38 1990.62 1115.05 C1989.64 1116.72 1988.56 1118.38 1987.46 1120.05 C1986.36 1121.72 1985.18 1123.38 1984.03 1125.05 C1982.88 1126.72 1981.68 1128.38 1980.54 1130.05 C1979.40 1131.72 1978.25 1133.38 1977.18 1135.05 C1976.12 1136.72 1975.06 1138.38 1974.14 1140.05 C1973.22 1141.72 1972.36 1143.38 1971.66 1145.05 C1970.96 1146.72 1970.32 1148.38 1969.91 1150.05 C1969.50 1151.72 1969.27 1153.38 1969.20 1155.05 C1969.13 1156.72 1969.39 1158.89 1969.48 1160.05 C1969.56 1161.21 1969.65 1161.67 1969.69 1162.00 L2051.71 1162.00 C2051.75 1161.67 2051.84 1161.21 2051.92 1160.05 C2052.01 1158.89 2052.27 1156.72 2052.20 1155.05 C2052.13 1153.38 2051.90 1151.72 2051.49 1150.05 C2051.08 1148.38 2050.44 1146.72 2049.74 1145.05 C2049.04 1143.38 2048.18 1141.72 2047.26 1140.05 C2046.34 1138.38 2045.28 1136.72 2044.22 1135.05 C2043.15 1133.38 2042.00 1131.72 2040.86 1130.05 C2039.72 1128.38 2038.52 1126.72 2037.37 1125.05 C2036.22 1123.38 2035.04 1121.72 2033.94 1120.05 C2032.84 1118.38 2031.76 1116.72 2030.78 1115.05 C2029.80 1113.38 2028.85 1111.72 2028.04 1110.05 C2027.23 1108.38 2026.52 1106.72 2025.93 1105.05 C2025.33 1103.38 2024.83 1101.72 2024.46 1100.05 C2024.08 1098.38 2023.83 1096.72 2023.66 1095.05 C2023.49 1093.38 2023.42 1091.72 2023.44 1090.05 C2023.46 1088.38 2023.59 1086.72 2023.78 1085.05 C2023.97 1083.38 2024.25 1081.72 2024.59 1080.05 C2024.93 1078.38 2025.36 1076.72 2025.84 1075.05 C2026.32 1073.38 2026.86 1071.72 2027.45 1070.05 C2028.03 1068.38 2028.69 1066.72 2029.37 1065.05 C2030.06 1063.38 2030.78 1061.72 2031.54 1060.05 C2032.29 1058.38 2033.09 1056.72 2033.90 1055.05 C2034.70 1053.38 2035.54 1051.72 2036.37 1050.05 C2037.21 1048.38 2038.07 1046.72 2038.91 1045.05 C2039.75 1043.38 2040.61 1041.72 2041.44 1040.05 C2042.27 1038.38 2043.09 1036.72 2043.89 1035.05 C2044.68 1033.38 2045.46 1031.72 2046.22 1030.05 C2046.97 1028.38 2047.69 1026.72 2048.40 1025.05 C2049.10 1023.38 2049.78 1021.72 2050.44 1020.05 C2051.10 1018.38 2051.73 1016.72 2052.34 1015.05 C2052.96 1013.38 2053.55 1011.72 2054.12 1010.05 C2054.69 1008.38 2055.23 1006.72 2055.76 1005.05 C2056.29 1003.38 2056.80 1001.72 2057.29 1000.05 C2057.78 998.38 2058.24 996.72 2058.70 995.05 C2059.15 993.38 2059.58 991.72 2059.99 990.05 C2060.41 988.38 2060.80 986.72 2061.18 985.05 C2061.56 983.38 2061.93 981.72 2062.27 980.05 C2062.62 978.38 2062.95 976.72 2063.26 975.05 C2063.58 973.38 2063.88 971.72 2064.17 970.05 C2064.45 968.38 2064.72 966.72 2064.98 965.05 C2065.24 963.38 2065.48 961.72 2065.72 960.05 C2065.95 958.38 2066.17 956.72 2066.37 955.05 C2066.58 953.38 2066.78 951.72 2066.96 950.05 C2067.15 948.38 2067.32 946.72 2067.48 945.05 C2067.64 943.38 2067.80 941.72 2067.94 940.05 C2068.08 938.38 2068.22 936.72 2068.34 935.05 C2068.47 933.38 2068.59 931.72 2068.70 930.05 C2068.80 928.38 2068.91 926.72 2069.00 925.05 C2069.10 923.38 2069.18 921.72 2069.27 920.05 C2069.35 918.38 2069.42 916.72 2069.49 915.05 C2069.56 913.38 2069.63 911.72 2069.69 910.05 C2069.75 908.38 2069.81 906.72 2069.86 905.05 C2069.91 903.38 2069.96 901.72 2070.01 900.05 C2070.06 898.38 2070.10 896.72 2070.14 895.05 C2070.19 893.38 2070.23 891.72 2070.26 890.05 C2070.30 888.38 2070.33 886.72 2070.36 885.05 C2070.40 883.38 2070.42 881.72 2070.45 880.05 C2070.47 878.38 2070.49 876.72 2070.50 875.05 C2070.51 873.38 2070.52 871.72 2070.52 870.05 C2070.52 868.38 2070.52 866.72 2070.51 865.05 C2070.49 863.38 2070.48 861.72 2070.45 860.05 C2070.42 858.38 2070.39 856.72 2070.34 855.05 C2070.30 853.38 2070.25 851.72 2070.19 850.05 C2070.13 848.38 2070.05 846.72 2069.97 845.05 C2069.89 843.38 2069.80 841.72 2069.69 840.05 C2069.59 838.38 2069.47 836.72 2069.35 835.05 C2069.22 833.38 2069.08 831.72 2068.93 830.05 C2068.77 828.38 2068.61 826.72 2068.43 825.05 C2068.25 823.38 2068.05 821.72 2067.84 820.05 C2067.63 818.38 2067.41 816.72 2067.17 815.05 C2066.93 813.38 2066.68 811.72 2066.40 810.05 C2066.13 808.38 2065.84 806.72 2065.53 805.05 C2065.23 803.38 2064.91 801.72 2064.56 800.05 C2064.22 798.38 2063.86 796.72 2063.48 795.05 C2063.10 793.38 2062.70 791.72 2062.28 790.05 C2061.87 788.38 2061.43 786.72 2060.98 785.05 C2060.52 783.38 2060.06 781.72 2059.58 780.05 C2059.10 778.38 2058.61 776.72 2058.11 775.05 C2057.61 773.38 2057.11 771.72 2056.60 770.05 C2056.09 768.38 2055.57 766.72 2055.06 765.05 C2054.55 763.38 2054.03 761.72 2053.52 760.05 C2053.01 758.38 2052.51 756.72 2052.01 755.05 C2051.51 753.38 2051.02 751.72 2050.54 750.05 C2050.06 748.38 2049.59 746.72 2049.14 745.05 C2048.68 743.38 2048.24 741.72 2047.81 740.05 C2047.38 738.38 2046.97 736.72 2046.56 735.05 C2046.16 733.38 2045.77 731.72 2045.39 730.05 C2045.01 728.38 2044.64 726.72 2044.27 725.05 C2043.91 723.38 2043.56 721.72 2043.21 720.05 C2042.86 718.38 2042.53 716.72 2042.19 715.05 C2041.86 713.38 2041.54 711.72 2041.21 710.05 C2040.89 708.38 2040.57 706.72 2040.26 705.05 C2039.94 703.38 2039.63 701.72 2039.32 700.05 C2039.01 698.38 2038.70 696.72 2038.40 695.05 C2038.09 693.38 2037.78 691.72 2037.48 690.05 C2037.17 688.38 2036.87 686.72 2036.56 685.05 C2036.26 683.38 2035.96 681.72 2035.66 680.05 C2035.36 678.38 2035.06 676.72 2034.76 675.05 C2034.46 673.38 2034.17 671.72 2033.87 670.05 C2033.58 668.38 2033.28 666.72 2032.99 665.05 C2032.70 663.38 2032.41 661.72 2032.12 660.05 C2031.83 658.38 2031.54 656.72 2031.25 655.05 C2030.96 653.38 2030.68 651.72 2030.40 650.05 C2030.11 648.38 2029.83 646.72 2029.55 645.05 C2029.27 643.38 2028.99 641.72 2028.71 640.05 C2028.43 638.38 2028.16 636.72 2027.88 635.05 C2027.61 633.38 2027.34 631.72 2027.07 630.05 C2026.80 628.38 2026.53 626.72 2026.26 625.05 C2026.00 623.38 2025.73 621.72 2025.47 620.05 C2025.20 618.38 2024.94 616.72 2024.68 615.05 C2024.42 613.38 2024.17 611.72 2023.91 610.05 C2023.66 608.38 2023.40 606.72 2023.15 605.05 C2022.90 603.38 2022.65 601.72 2022.41 600.05 C2022.16 598.38 2021.91 596.72 2021.67 595.05 C2021.43 593.38 2021.19 591.72 2020.95 590.05 C2020.71 588.38 2020.48 586.72 2020.24 585.05 C2020.01 583.38 2019.78 581.72 2019.55 580.05 C2019.32 578.38 2019.09 576.72 2018.87 575.05 C2018.64 573.38 2018.42 571.72 2018.20 570.05 C2017.98 568.38 2017.76 566.72 2017.55 565.05 C2017.34 563.38 2017.12 561.72 2016.91 560.05 C2016.70 558.38 2016.50 556.72 2016.29 555.05 C2016.09 553.38 2015.89 551.72 2015.69 550.05 C2015.49 548.38 2015.29 546.72 2015.10 545.05 C2014.91 543.38 2014.71 541.72 2014.53 540.05 C2014.34 538.38 2014.15 536.72 2013.97 535.05 C2013.79 533.38 2013.61 531.72 2013.43 530.05 C2013.26 528.38 2013.08 526.72 2012.91 525.05 C2012.74 523.38 2012.57 521.72 2012.41 520.05 C2012.24 518.38 2012.08 516.72 2011.92 515.05 C2011.76 513.38 2011.61 511.72 2011.46 510.05 C2011.30 508.38 2011.13 506.72 2011.01 505.05 C2010.88 503.38 2010.75 501.72 2010.70 500.05 C2010.65 498.38 2010.70 496.72 2010.70 495.05 C2010.70 493.38 2010.70 491.72 2010.70 490.05 C2010.70 488.38 2010.70 486.72 2010.70 485.05 C2010.70 483.38 2010.70 481.72 2010.70 480.05 C2010.70 478.38 2010.70 476.72 2010.70 475.05 C2010.70 473.38 2010.70 471.72 2010.70 470.05 C2010.70 468.38 2010.70 466.72 2010.70 465.05 C2010.70 463.38 2010.70 461.72 2010.70 460.05 C2010.70 458.38 2010.70 456.72 2010.70 455.05 C2010.70 453.38 2010.70 451.72 2010.70 450.05 C2010.70 448.38 2010.70 446.72 2010.70 445.05 C2010.70 443.38 2010.70 441.72 2010.70 440.05 C2010.70 438.38 2010.70 436.72 2010.70 435.05 C2010.70 433.38 2010.70 431.72 2010.70 430.05 C2010.70 428.38 2010.70 426.72 2010.70 425.05 C2010.70 423.38 2010.70 421.72 2010.70 420.05 C2010.70 418.38 2010.70 416.72 2010.70 415.05 C2010.70 413.38 2010.70 411.72 2010.70 410.05 C2010.70 408.38 2010.70 406.72 2010.70 405.05 C2010.70 403.38 2010.70 401.72 2010.70 400.05 C2010.70 398.38 2010.70 396.72 2010.70 395.05 C2010.70 393.38 2010.70 391.72 2010.70 390.05 C2010.70 388.38 2010.70 386.72 2010.70 385.05 C2010.70 383.38 2010.70 381.72 2010.70 380.05 C2010.70 378.38 2010.70 376.72 2010.70 375.05 C2010.70 373.38 2010.70 371.72 2010.70 370.05 C2010.70 368.38 2010.70 366.72 2010.70 365.05 C2010.70 363.38 2010.70 361.72 2010.70 360.05 C2010.70 358.38 2010.70 356.72 2010.70 355.05 C2010.70 353.38 2010.70 351.72 2010.70 350.05 C2010.70 348.38 2010.70 346.72 2010.70 345.05 C2010.70 343.38 2010.70 341.72 2010.70 340.05 C2010.70 338.38 2010.70 336.72 2010.70 335.05 C2010.70 333.38 2010.70 331.72 2010.70 330.05 C2010.70 328.38 2010.70 326.72 2010.70 325.05 C2010.70 323.38 2010.70 320.88 2010.70 320.05Z"/>
<path fill="#436EEE" d="M2158.31 389.15 C2158.28 389.98 2158.27 392.48 2158.16 394.15 C2158.04 395.82 2157.80 397.48 2157.62 399.15 C2157.44 400.82 2157.26 402.48 2157.08 404.15 C2156.91 405.82 2156.74 407.48 2156.57 409.15 C2156.39 410.82 2156.23 412.48 2156.06 414.15 C2155.89 415.82 2155.72 417.48 2155.56 419.15 C2155.39 420.82 2155.23 422.48 2155.07 424.15 C2154.90 425.82 2154.74 427.48 2154.58 429.15 C2154.41 430.82 2154.25 432.48 2154.09 434.15 C2153.92 435.82 2153.76 437.48 2153.60 439.15 C2153.43 440.82 2153.27 442.48 2153.10 444.15 C2152.94 445.82 2152.77 447.48 2152.60 449.15 C2152.43 450.82 2152.26 452.48 2152.09 454.15 C2151.92 455.82 2151.75 457.48 2151.57 459.15 C2151.39 460.82 2151.21 462.48 2151.03 464.15 C2150.85 465.82 2150.67 467.48 2150.48 469.15 C2150.29 470.82 2150.10 472.48 2149.91 474.15 C2149.71 475.82 2149.52 477.48 2149.31 479.15 C2149.11 480.82 2148.90 482.48 2148.69 484.15 C2148.48 485.82 2148.27 487.48 2148.05 489.15 C2147.83 490.82 2147.60 492.48 2147.37 494.15 C2147.14 495.82 2146.91 497.48 2146.67 499.15 C2146.42 500.82 2146.18 502.48 2145.92 504.15 C2145.67 505.82 2145.41 507.48 2145.15 509.15 C2144.88 510.82 2144.61 512.48 2144.33 514.15 C2144.06 515.82 2143.77 517.48 2143.49 519.15 C2143.20 520.82 2142.90 522.48 2142.61 524.15 C2142.31 525.82 2142.01 527.48 2141.70 529.15 C2141.40 530.82 2141.09 532.48 2140.78 534.15 C2140.46 535.82 2140.15 537.48 2139.83 539.15 C2139.51 540.82 2139.19 542.48 2138.86 544.15 C2138.54 545.82 2138.21 547.48 2137.88 549.15 C2137.55 550.82 2137.22 552.48 2136.89 554.15 C2136.56 555.82 2136.22 557.48 2135.89 559.15 C2135.55 560.82 2135.22 562.48 2134.88 564.15 C2134.54 565.82 2134.21 567.48 2133.87 569.15 C2133.54 570.82 2133.20 572.48 2132.86 574.15 C2132.53 575.82 2132.19 577.48 2131.86 579.15 C2131.53 580.82 2131.19 582.48 2130.86 584.15 C2130.53 585.82 2130.20 587.48 2129.88 589.15 C2129.55 590.82 2129.23 592.48 2128.90 594.15 C2128.58 595.82 2128.26 597.48 2127.95 599.15 C2127.63 600.82 2127.32 602.48 2127.01 604.15 C2126.70 605.82 2126.39 607.48 2126.09 609.15 C2125.79 610.82 2125.50 612.48 2125.20 614.15 C2124.91 615.82 2124.63 617.48 2124.34 619.15 C2124.06 620.82 2123.79 622.48 2123.52 624.15 C2123.25 625.82 2122.98 627.48 2122.72 629.15 C2122.46 630.82 2122.21 632.48 2121.97 634.15 C2121.72 635.82 2121.48 637.48 2121.25 639.15 C2121.02 640.82 2120.80 642.48 2120.58 644.15 C2120.36 645.82 2120.15 647.48 2119.94 649.15 C2119.73 650.82 2119.53 652.48 2119.33 654.15 C2119.13 655.82 2118.94 657.48 2118.74 659.15 C2118.55 660.82 2118.36 662.48 2118.18 664.15 C2117.99 665.82 2117.81 667.48 2117.63 669.15 C2117.44 670.82 2117.26 672.48 2117.08 674.15 C2116.90 675.82 2116.72 677.48 2116.54 679.15 C2116.36 680.82 2116.19 682.48 2116.00 684.15 C2115.82 685.82 2115.64 687.48 2115.46 689.15 C2115.27 690.82 2115.08 692.48 2114.89 694.15 C2114.70 695.82 2114.51 697.48 2114.32 699.15 C2114.12 700.82 2113.92 702.48 2113.71 704.15 C2113.51 705.82 2113.30 707.48 2113.09 709.15 C2112.87 710.82 2112.65 712.48 2112.42 714.15 C2112.20 715.82 2111.96 717.48 2111.72 719.15 C2111.48 720.82 2111.24 722.48 2110.99 724.15 C2110.74 725.82 2110.48 727.48 2110.23 729.15 C2109.97 730.82 2109.70 732.48 2109.44 734.15 C2109.17 735.82 2108.91 737.48 2108.64 739.15 C2108.37 740.82 2108.10 742.48 2107.82 744.15 C2107.55 745.82 2107.28 747.48 2107.00 749.15 C2106.73 750.82 2106.46 752.48 2106.19 754.15 C2105.92 755.82 2105.65 757.48 2105.38 759.15 C2105.11 760.82 2104.85 762.48 2104.58 764.15 C2104.32 765.82 2104.06 767.48 2103.81 769.15 C2103.55 770.82 2103.30 772.48 2103.06 774.15 C2102.81 775.82 2102.57 777.48 2102.34 779.15 C2102.10 780.82 2101.88 782.48 2101.65 784.15 C2101.43 785.82 2101.21 787.48 2101.01 789.15 C2100.80 790.82 2100.60 792.48 2100.40 794.15 C2100.21 795.82 2100.02 797.48 2099.84 799.15 C2099.67 800.82 2099.50 802.48 2099.34 804.15 C2099.18 805.82 2099.03 807.48 2098.89 809.15 C2098.75 810.82 2098.62 812.48 2098.50 814.15 C2098.38 815.82 2098.27 817.48 2098.17 819.15 C2098.08 820.82 2097.99 822.48 2097.92 824.15 C2097.84 825.82 2097.78 827.48 2097.73 829.15 C2097.68 830.82 2097.65 832.48 2097.63 834.15 C2097.61 835.82 2097.60 837.48 2097.60 839.15 C2097.61 840.82 2097.63 842.48 2097.66 844.15 C2097.70 845.82 2097.75 847.48 2097.81 849.15 C2097.88 850.82 2097.96 852.48 2098.06 854.15 C2098.16 855.82 2098.27 857.48 2098.40 859.15 C2098.52 860.82 2098.67 862.48 2098.82 864.15 C2098.98 865.82 2099.15 867.48 2099.33 869.15 C2099.51 870.82 2099.71 872.48 2099.92 874.15 C2100.12 875.82 2100.34 877.48 2100.57 879.15 C2100.81 880.82 2101.05 882.48 2101.30 884.15 C2101.56 885.82 2101.82 887.48 2102.10 889.15 C2102.37 890.82 2102.66 892.48 2102.95 894.15 C2103.24 895.82 2103.55 897.48 2103.86 899.15 C2104.17 900.82 2104.49 902.48 2104.82 904.15 C2105.14 905.82 2105.48 907.48 2105.82 909.15 C2106.16 910.82 2106.51 912.48 2106.86 914.15 C2107.22 915.82 2107.58 917.48 2107.94 919.15 C2108.31 920.82 2108.68 922.48 2109.06 924.15 C2109.43 925.82 2109.81 927.48 2110.19 929.15 C2110.58 930.82 2110.97 932.48 2111.36 934.15 C2111.75 935.82 2112.14 937.48 2112.54 939.15 C2112.93 940.82 2113.33 942.48 2113.73 944.15 C2114.13 945.82 2114.53 947.48 2114.93 949.15 C2115.33 950.82 2115.73 952.48 2116.14 954.15 C2116.54 955.82 2116.95 957.48 2117.35 959.15 C2117.76 960.82 2118.16 962.48 2118.57 964.15 C2118.98 965.82 2119.39 967.48 2119.80 969.15 C2120.21 970.82 2120.62 972.48 2121.03 974.15 C2121.44 975.82 2121.85 977.48 2122.26 979.15 C2122.67 980.82 2123.09 982.48 2123.50 984.15 C2123.92 985.82 2124.33 987.48 2124.75 989.15 C2125.17 990.82 2125.58 992.48 2126.00 994.15 C2126.42 995.82 2126.84 997.48 2127.26 999.15 C2127.68 1000.82 2128.10 1002.48 2128.52 1004.15 C2128.94 1005.82 2129.36 1007.48 2129.78 1009.15 C2130.21 1010.82 2130.63 1012.48 2131.05 1014.15 C2131.48 1015.82 2131.90 1017.48 2132.33 1019.15 C2132.75 1020.82 2133.18 1022.48 2133.60 1024.15 C2134.03 1025.82 2134.45 1027.48 2134.87 1029.15 C2135.29 1030.82 2135.71 1032.48 2136.12 1034.15 C2136.53 1035.82 2136.94 1037.48 2137.34 1039.15 C2137.74 1040.82 2138.14 1042.48 2138.53 1044.15 C2138.92 1045.82 2139.30 1047.48 2139.67 1049.15 C2140.04 1050.82 2140.41 1052.48 2140.76 1054.15 C2141.11 1055.82 2141.46 1057.48 2141.79 1059.15 C2142.12 1060.82 2142.44 1062.48 2142.74 1064.15 C2143.05 1065.82 2143.34 1067.48 2143.62 1069.15 C2143.90 1070.82 2144.16 1072.48 2144.40 1074.15 C2144.65 1075.82 2144.88 1077.48 2145.09 1079.15 C2145.30 1080.82 2145.50 1082.48 2145.67 1084.15 C2145.84 1085.82 2146.00 1087.48 2146.14 1089.15 C2146.27 1090.82 2146.38 1092.48 2146.47 1094.15 C2146.56 1095.82 2146.64 1097.48 2146.68 1099.15 C2146.73 1100.82 2146.74 1102.48 2146.74 1104.15 C2146.74 1105.82 2146.71 1107.48 2146.66 1109.15 C2146.61 1110.82 2146.53 1112.48 2146.43 1114.15 C2146.34 1115.82 2146.22 1117.48 2146.09 1119.15 C2145.96 1120.82 2145.80 1122.48 2145.64 1124.15 C2145.47 1125.82 2145.29 1127.48 2145.10 1129.15 C2144.91 1130.82 2144.70 1132.48 2144.48 1134.15 C2144.27 1135.82 2144.05 1137.48 2143.82 1139.15 C2143.59 1140.82 2143.36 1142.48 2143.12 1144.15 C2142.89 1145.82 2142.65 1147.48 2142.41 1149.15 C2142.17 1150.82 2141.92 1152.48 2141.69 1154.15 C2141.46 1155.82 2141.17 1157.84 2141.03 1159.15 C2140.88 1160.46 2140.86 1161.53 2140.82 1162.00 L2175.80 1162.00 C2175.76 1161.53 2175.74 1160.46 2175.59 1159.15 C2175.45 1157.84 2175.16 1155.82 2174.93 1154.15 C2174.70 1152.48 2174.45 1150.82 2174.21 1149.15 C2173.97 1147.48 2173.73 1145.82 2173.50 1144.15 C2173.26 1142.48 2173.03 1140.82 2172.80 1139.15 C2172.57 1137.48 2172.35 1135.82 2172.14 1134.15 C2171.92 1132.48 2171.71 1130.82 2171.52 1129.15 C2171.33 1127.48 2171.15 1125.82 2170.98 1124.15 C2170.82 1122.48 2170.66 1120.82 2170.53 1119.15 C2170.40 1117.48 2170.28 1115.82 2170.19 1114.15 C2170.09 1112.48 2170.01 1110.82 2169.96 1109.15 C2169.91 1107.48 2169.88 1105.82 2169.88 1104.15 C2169.88 1102.48 2169.89 1100.82 2169.94 1099.15 C2169.98 1097.48 2170.06 1095.82 2170.15 1094.15 C2170.24 1092.48 2170.35 1090.82 2170.48 1089.15 C2170.62 1087.48 2170.78 1085.82 2170.95 1084.15 C2171.12 1082.48 2171.32 1080.82 2171.53 1079.15 C2171.74 1077.48 2171.97 1075.82 2172.22 1074.15 C2172.46 1072.48 2172.72 1070.82 2173.00 1069.15 C2173.28 1067.48 2173.57 1065.82 2173.88 1064.15 C2174.18 1062.48 2174.50 1060.82 2174.83 1059.15 C2175.16 1057.48 2175.51 1055.82 2175.86 1054.15 C2176.21 1052.48 2176.58 1050.82 2176.95 1049.15 C2177.32 1047.48 2177.70 1045.82 2178.09 1044.15 C2178.48 1042.48 2178.88 1040.82 2179.28 1039.15 C2179.68 1037.48 2180.09 1035.82 2180.50 1034.15 C2180.91 1032.48 2181.33 1030.82 2181.75 1029.15 C2182.17 1027.48 2182.59 1025.82 2183.02 1024.15 C2183.44 1022.48 2183.87 1020.82 2184.29 1019.15 C2184.72 1017.48 2185.14 1015.82 2185.57 1014.15 C2185.99 1012.48 2186.41 1010.82 2186.84 1009.15 C2187.26 1007.48 2187.68 1005.82 2188.10 1004.15 C2188.52 1002.48 2188.94 1000.82 2189.36 999.15 C2189.78 997.48 2190.20 995.82 2190.62 994.15 C2191.04 992.48 2191.45 990.82 2191.87 989.15 C2192.29 987.48 2192.70 985.82 2193.12 984.15 C2193.53 982.48 2193.95 980.82 2194.36 979.15 C2194.77 977.48 2195.18 975.82 2195.59 974.15 C2196.00 972.48 2196.41 970.82 2196.82 969.15 C2197.23 967.48 2197.64 965.82 2198.05 964.15 C2198.46 962.48 2198.86 960.82 2199.27 959.15 C2199.67 957.48 2200.08 955.82 2200.48 954.15 C2200.89 952.48 2201.29 950.82 2201.69 949.15 C2202.09 947.48 2202.49 945.82 2202.89 944.15 C2203.29 942.48 2203.69 940.82 2204.08 939.15 C2204.48 937.48 2204.87 935.82 2205.26 934.15 C2205.65 932.48 2206.04 930.82 2206.43 929.15 C2206.81 927.48 2207.19 925.82 2207.56 924.15 C2207.94 922.48 2208.31 920.82 2208.68 919.15 C2209.04 917.48 2209.40 915.82 2209.76 914.15 C2210.11 912.48 2210.46 910.82 2210.80 909.15 C2211.14 907.48 2211.48 905.82 2211.80 904.15 C2212.13 902.48 2212.45 900.82 2212.76 899.15 C2213.07 897.48 2213.38 895.82 2213.67 894.15 C2213.96 892.48 2214.25 890.82 2214.52 889.15 C2214.80 887.48 2215.06 885.82 2215.32 884.15 C2215.57 882.48 2215.81 880.82 2216.05 879.15 C2216.28 877.48 2216.50 875.82 2216.70 874.15 C2216.91 872.48 2217.11 870.82 2217.29 869.15 C2217.47 867.48 2217.64 865.82 2217.80 864.15 C2217.95 862.48 2218.10 860.82 2218.22 859.15 C2218.35 857.48 2218.46 855.82 2218.56 854.15 C2218.66 852.48 2218.74 850.82 2218.81 849.15 C2218.87 847.48 2218.92 845.82 2218.96 844.15 C2218.99 842.48 2219.01 840.82 2219.02 839.15 C2219.02 837.48 2219.01 835.82 2218.99 834.15 C2218.97 832.48 2218.94 830.82 2218.89 829.15 C2218.84 827.48 2218.78 825.82 2218.70 824.15 C2218.63 822.48 2218.54 820.82 2218.45 819.15 C2218.35 817.48 2218.24 815.82 2218.12 814.15 C2218.00 812.48 2217.87 810.82 2217.73 809.15 C2217.59 807.48 2217.44 805.82 2217.28 804.15 C2217.12 802.48 2216.95 800.82 2216.78 799.15 C2216.60 797.48 2216.41 795.82 2216.22 794.15 C2216.02 792.48 2215.82 790.82 2215.61 789.15 C2215.41 787.48 2215.19 785.82 2214.97 784.15 C2214.74 782.48 2214.52 780.82 2214.28 779.15 C2214.05 777.48 2213.81 775.82 2213.56 774.15 C2213.32 772.48 2213.07 770.82 2212.81 769.15 C2212.56 767.48 2212.30 765.82 2212.04 764.15 C2211.77 762.48 2211.51 760.82 2211.24 759.15 C2210.97 757.48 2210.70 755.82 2210.43 754.15 C2210.16 752.48 2209.89 750.82 2209.62 749.15 C2209.34 747.48 2209.07 745.82 2208.80 744.15 C2208.52 742.48 2208.25 740.82 2207.98 739.15 C2207.71 737.48 2207.45 735.82 2207.18 734.15 C2206.92 732.48 2206.65 730.82 2206.39 729.15 C2206.14 727.48 2205.88 725.82 2205.63 724.15 C2205.38 722.48 2205.14 720.82 2204.90 719.15 C2204.66 717.48 2204.42 715.82 2204.20 714.15 C2203.97 712.48 2203.75 710.82 2203.53 709.15 C2203.32 707.48 2203.11 705.82 2202.91 704.15 C2202.70 702.48 2202.50 700.82 2202.30 699.15 C2202.11 697.48 2201.92 695.82 2201.73 694.15 C2201.54 692.48 2201.35 690.82 2201.16 689.15 C2200.98 687.48 2200.80 685.82 2200.62 684.15 C2200.43 682.48 2200.26 680.82 2200.08 679.15 C2199.90 677.48 2199.72 675.82 2199.54 674.15 C2199.36 672.48 2199.18 670.82 2198.99 669.15 C2198.81 667.48 2198.63 665.82 2198.44 664.15 C2198.26 662.48 2198.07 660.82 2197.88 659.15 C2197.68 657.48 2197.49 655.82 2197.29 654.15 C2197.09 652.48 2196.89 650.82 2196.68 649.15 C2196.47 647.48 2196.26 645.82 2196.04 644.15 C2195.82 642.48 2195.60 640.82 2195.37 639.15 C2195.14 637.48 2194.90 635.82 2194.65 634.15 C2194.41 632.48 2194.16 630.82 2193.90 629.15 C2193.64 627.48 2193.37 625.82 2193.10 624.15 C2192.83 622.48 2192.56 620.82 2192.28 619.15 C2191.99 617.48 2191.71 615.82 2191.42 614.15 C2191.12 612.48 2190.83 610.82 2190.53 609.15 C2190.23 607.48 2189.92 605.82 2189.61 604.15 C2189.30 602.48 2188.99 600.82 2188.67 599.15 C2188.36 597.48 2188.04 595.82 2187.72 594.15 C2187.39 592.48 2187.07 590.82 2186.74 589.15 C2186.42 587.48 2186.09 585.82 2185.76 584.15 C2185.43 582.48 2185.09 580.82 2184.76 579.15 C2184.43 577.48 2184.09 575.82 2183.76 574.15 C2183.42 572.48 2183.08 570.82 2182.75 569.15 C2182.41 567.48 2182.08 565.82 2181.74 564.15 C2181.40 562.48 2181.07 560.82 2180.73 559.15 C2180.40 557.48 2180.06 555.82 2179.73 554.15 C2179.40 552.48 2179.07 550.82 2178.74 549.15 C2178.41 547.48 2178.08 545.82 2177.76 544.15 C2177.43 542.48 2177.11 540.82 2176.79 539.15 C2176.47 537.48 2176.16 535.82 2175.84 534.15 C2175.53 532.48 2175.22 530.82 2174.92 529.15 C2174.61 527.48 2174.31 525.82 2174.01 524.15 C2173.72 522.48 2173.42 520.82 2173.13 519.15 C2172.85 517.48 2172.56 515.82 2172.29 514.15 C2172.01 512.48 2171.74 510.82 2171.47 509.15 C2171.21 507.48 2170.95 505.82 2170.70 504.15 C2170.44 502.48 2170.20 500.82 2169.95 499.15 C2169.71 497.48 2169.48 495.82 2169.25 494.15 C2169.02 492.48 2168.79 490.82 2168.57 489.15 C2168.35 487.48 2168.14 485.82 2167.93 484.15 C2167.72 482.48 2167.51 480.82 2167.31 479.15 C2167.10 477.48 2166.91 475.82 2166.71 474.15 C2166.52 472.48 2166.33 470.82 2166.14 469.15 C2165.95 467.48 2165.77 465.82 2165.59 464.15 C2165.41 462.48 2165.23 460.82 2165.05 459.15 C2164.87 457.48 2164.70 455.82 2164.53 454.15 C2164.36 452.48 2164.19 450.82 2164.02 449.15 C2163.85 447.48 2163.68 445.82 2163.52 444.15 C2163.35 442.48 2163.19 440.82 2163.02 439.15 C2162.86 437.48 2162.70 435.82 2162.53 434.15 C2162.37 432.48 2162.21 430.82 2162.04 429.15 C2161.88 427.48 2161.72 425.82 2161.55 424.15 C2161.39 422.48 2161.23 420.82 2161.06 419.15 C2160.90 417.48 2160.73 415.82 2160.56 414.15 C2160.39 412.48 2160.23 410.82 2160.05 409.15 C2159.88 407.48 2159.71 405.82 2159.54 404.15 C2159.36 402.48 2159.18 400.82 2159.00 399.15 C2158.82 397.48 2158.58 395.82 2158.46 394.15 C2158.35 392.48 2158.34 389.98 2158.31 389.15Z"/>
<path fill="#FF3030" d="M2267.24 519.95 C2267.20 520.78 2267.12 523.28 2267.04 524.95 C2266.96 526.62 2266.86 528.28 2266.76 529.95 C2266.67 531.62 2266.56 533.28 2266.44 534.95 C2266.33 536.62 2266.21 538.28 2266.08 539.95 C2265.96 541.62 2265.82 543.28 2265.68 544.95 C2265.54 546.62 2265.40 548.28 2265.24 549.95 C2265.09 551.62 2264.93 553.28 2264.76 554.95 C2264.60 556.62 2264.42 558.28 2264.24 559.95 C2264.06 561.62 2263.88 563.28 2263.69 564.95 C2263.49 566.62 2263.29 568.28 2263.09 569.95 C2262.88 571.62 2262.67 573.28 2262.45 574.95 C2262.23 576.62 2262.01 578.28 2261.78 579.95 C2261.54 581.62 2261.30 583.28 2261.06 584.95 C2260.82 586.62 2260.56 588.28 2260.31 589.95 C2260.05 591.62 2259.78 593.28 2259.51 594.95 C2259.24 596.62 2258.97 598.28 2258.68 599.95 C2258.40 601.62 2258.11 603.28 2257.81 604.95 C2257.52 606.62 2257.21 608.28 2256.90 609.95 C2256.59 611.62 2256.28 613.28 2255.96 614.95 C2255.64 616.62 2255.31 618.28 2254.98 619.95 C2254.64 621.62 2254.30 623.28 2253.96 624.95 C2253.62 626.62 2253.27 628.28 2252.92 629.95 C2252.56 631.62 2252.21 633.28 2251.85 634.95 C2251.49 636.62 2251.12 638.28 2250.75 639.95 C2250.39 641.62 2250.01 643.28 2249.64 644.95 C2249.27 646.62 2248.89 648.28 2248.51 649.95 C2248.14 651.62 2247.75 653.28 2247.37 654.95 C2246.99 656.62 2246.61 658.28 2246.22 659.95 C2245.84 661.62 2245.45 663.28 2245.06 664.95 C2244.68 666.62 2244.29 668.28 2243.90 669.95 C2243.52 671.62 2243.13 673.28 2242.74 674.95 C2242.36 676.62 2241.97 678.28 2241.59 679.95 C2241.20 681.62 2240.82 683.28 2240.44 684.95 C2240.05 686.62 2239.67 688.28 2239.29 689.95 C2238.92 691.62 2238.54 693.28 2238.17 694.95 C2237.80 696.62 2237.42 698.28 2237.06 699.95 C2236.69 701.62 2236.33 703.28 2235.97 704.95 C2235.61 706.62 2235.25 708.28 2234.90 709.95 C2234.55 711.62 2234.20 713.28 2233.86 714.95 C2233.52 716.62 2233.18 718.28 2232.85 719.95 C2232.51 721.62 2232.19 723.28 2231.87 724.95 C2231.54 726.62 2231.23 728.28 2230.91 729.95 C2230.60 731.62 2230.30 733.28 2229.99 734.95 C2229.69 736.62 2229.40 738.28 2229.11 739.95 C2228.81 741.62 2228.53 743.28 2228.25 744.95 C2227.97 746.62 2227.69 748.28 2227.42 749.95 C2227.15 751.62 2226.89 753.28 2226.63 754.95 C2226.37 756.62 2226.11 758.28 2225.86 759.95 C2225.62 761.62 2225.37 763.28 2225.13 764.95 C2224.90 766.62 2224.66 768.28 2224.44 769.95 C2224.21 771.62 2223.99 773.28 2223.77 774.95 C2223.56 776.62 2223.34 778.28 2223.14 779.95 C2222.93 781.62 2222.73 783.28 2222.54 784.95 C2222.35 786.62 2222.16 788.28 2221.97 789.95 C2221.79 791.62 2221.62 793.28 2221.44 794.95 C2221.27 796.62 2221.11 798.28 2220.94 799.95 C2220.78 801.62 2220.63 803.28 2220.48 804.95 C2220.33 806.62 2220.19 808.28 2220.05 809.95 C2219.91 811.62 2219.78 813.28 2219.65 814.95 C2219.53 816.62 2219.41 818.28 2219.29 819.95 C2219.17 821.62 2219.06 823.28 2218.96 824.95 C2218.85 826.62 2218.75 828.28 2218.66 829.95 C2218.56 831.62 2218.48 833.28 2218.39 834.95 C2218.31 836.62 2218.23 838.28 2218.16 839.95 C2218.08 841.62 2218.01 843.28 2217.95 844.95 C2217.89 846.62 2217.83 848.28 2217.77 849.95 C2217.72 851.62 2217.67 853.28 2217.63 854.95 C2217.59 856.62 2217.55 858.28 2217.52 859.95 C2217.49 861.62 2217.46 863.28 2217.44 864.95 C2217.42 866.62 2217.41 868.28 2217.40 869.95 C2217.40 871.62 2217.40 873.28 2217.41 874.95 C2217.41 876.62 2217.43 878.28 2217.45 879.95 C2217.47 881.62 2217.51 883.28 2217.54 884.95 C2217.58 886.62 2217.63 888.28 2217.68 889.95 C2217.74 891.62 2217.81 893.28 2217.88 894.95 C2217.95 896.62 2218.03 898.28 2218.13 899.95 C2218.22 901.62 2218.32 903.28 2218.43 904.95 C2218.53 906.62 2218.65 908.28 2218.78 909.95 C2218.90 911.62 2219.04 913.28 2219.18 914.95 C2219.32 916.62 2219.47 918.28 2219.63 919.95 C2219.78 921.62 2219.95 923.28 2220.12 924.95 C2220.30 926.62 2220.48 928.28 2220.66 929.95 C2220.85 931.62 2221.05 933.28 2221.25 934.95 C2221.45 936.62 2221.65 938.28 2221.87 939.95 C2222.08 941.62 2222.31 943.28 2222.53 944.95 C2222.76 946.62 2222.99 948.28 2223.23 949.95 C2223.47 951.62 2223.72 953.28 2223.97 954.95 C2224.22 956.62 2224.48 958.28 2224.74 959.95 C2225.00 961.62 2225.27 963.28 2225.55 964.95 C2225.82 966.62 2226.10 968.28 2226.38 969.95 C2226.66 971.62 2226.95 973.28 2227.24 974.95 C2227.54 976.62 2227.83 978.28 2228.13 979.95 C2228.44 981.62 2228.74 983.28 2229.05 984.95 C2229.36 986.62 2229.67 988.28 2229.99 989.95 C2230.31 991.62 2230.63 993.28 2230.95 994.95 C2231.28 996.62 2231.61 998.28 2231.94 999.95 C2232.27 1001.62 2232.60 1003.28 2232.94 1004.95 C2233.28 1006.62 2233.62 1008.28 2233.96 1009.95 C2234.30 1011.62 2234.65 1013.28 2234.99 1014.95 C2235.34 1016.62 2235.69 1018.28 2236.04 1019.95 C2236.39 1021.62 2236.75 1023.28 2237.10 1024.95 C2237.46 1026.62 2237.82 1028.28 2238.17 1029.95 C2238.53 1031.62 2238.89 1033.28 2239.25 1034.95 C2239.61 1036.62 2239.98 1038.28 2240.34 1039.95 C2240.70 1041.62 2241.07 1043.28 2241.43 1044.95 C2241.79 1046.62 2242.16 1048.28 2242.53 1049.95 C2242.89 1051.62 2243.26 1053.28 2243.62 1054.95 C2243.99 1056.62 2244.35 1058.28 2244.72 1059.95 C2245.08 1061.62 2245.45 1063.28 2245.81 1064.95 C2246.18 1066.62 2246.54 1068.28 2246.91 1069.95 C2247.27 1071.62 2247.63 1073.28 2247.99 1074.95 C2248.35 1076.62 2248.71 1078.28 2249.07 1079.95 C2249.43 1081.62 2249.79 1083.28 2250.14 1084.95 C2250.50 1086.62 2250.85 1088.28 2251.20 1089.95 C2251.56 1091.62 2251.91 1093.28 2252.25 1094.95 C2252.60 1096.62 2252.95 1098.28 2253.29 1099.95 C2253.63 1101.62 2253.97 1103.28 2254.31 1104.95 C2254.65 1106.62 2254.98 1108.28 2255.31 1109.95 C2255.65 1111.62 2255.97 1113.28 2256.30 1114.95 C2256.62 1116.62 2256.95 1118.28 2257.27 1119.95 C2257.58 1121.62 2257.90 1123.28 2258.21 1124.95 C2258.52 1126.62 2258.83 1128.28 2259.13 1129.95 C2259.43 1131.62 2259.73 1133.28 2260.02 1134.95 C2260.31 1136.62 2260.60 1138.28 2260.89 1139.95 C2261.17 1141.62 2261.45 1143.28 2261.73 1144.95 C2262.00 1146.62 2262.27 1148.28 2262.54 1149.95 C2262.80 1151.62 2263.07 1153.28 2263.31 1154.95 C2263.55 1156.62 2263.62 1158.77 2263.98 1159.95 C2264.34 1161.12 2265.22 1161.66 2265.46 1162.00 L2292.68 1162.00 C2292.92 1161.66 2293.80 1161.12 2294.16 1159.95 C2294.52 1158.77 2294.59 1156.62 2294.83 1154.95 C2295.07 1153.28 2295.34 1151.62 2295.60 1149.95 C2295.87 1148.28 2296.14 1146.62 2296.41 1144.95 C2296.69 1143.28 2296.97 1141.62 2297.25 1139.95 C2297.54 1138.28 2297.83 1136.62 2298.12 1134.95 C2298.41 1133.28 2298.71 1131.62 2299.01 1129.95 C2299.31 1128.28 2299.62 1126.62 2299.93 1124.95 C2300.24 1123.28 2300.56 1121.62 2300.87 1119.95 C2301.19 1118.28 2301.52 1116.62 2301.84 1114.95 C2302.17 1113.28 2302.49 1111.62 2302.83 1109.95 C2303.16 1108.28 2303.49 1106.62 2303.83 1104.95 C2304.17 1103.28 2304.51 1101.62 2304.85 1099.95 C2305.19 1098.28 2305.54 1096.62 2305.89 1094.95 C2306.23 1093.28 2306.58 1091.62 2306.94 1089.95 C2307.29 1088.28 2307.64 1086.62 2308.00 1084.95 C2308.35 1083.28 2308.71 1081.62 2309.07 1079.95 C2309.43 1078.28 2309.79 1076.62 2310.15 1074.95 C2310.51 1073.28 2310.87 1071.62 2311.23 1069.95 C2311.60 1068.28 2311.96 1066.62 2312.33 1064.95 C2312.69 1063.28 2313.06 1061.62 2313.42 1059.95 C2313.79 1058.28 2314.15 1056.62 2314.52 1054.95 C2314.88 1053.28 2315.25 1051.62 2315.61 1049.95 C2315.98 1048.28 2316.35 1046.62 2316.71 1044.95 C2317.07 1043.28 2317.44 1041.62 2317.80 1039.95 C2318.16 1038.28 2318.53 1036.62 2318.89 1034.95 C2319.25 1033.28 2319.61 1031.62 2319.97 1029.95 C2320.32 1028.28 2320.68 1026.62 2321.04 1024.95 C2321.39 1023.28 2321.75 1021.62 2322.10 1019.95 C2322.45 1018.28 2322.80 1016.62 2323.15 1014.95 C2323.49 1013.28 2323.84 1011.62 2324.18 1009.95 C2324.52 1008.28 2324.86 1006.62 2325.20 1004.95 C2325.54 1003.28 2325.87 1001.62 2326.20 999.95 C2326.53 998.28 2326.86 996.62 2327.19 994.95 C2327.51 993.28 2327.83 991.62 2328.15 989.95 C2328.47 988.28 2328.78 986.62 2329.09 984.95 C2329.40 983.28 2329.70 981.62 2330.01 979.95 C2330.31 978.28 2330.60 976.62 2330.90 974.95 C2331.19 973.28 2331.48 971.62 2331.76 969.95 C2332.04 968.28 2332.32 966.62 2332.59 964.95 C2332.87 963.28 2333.14 961.62 2333.40 959.95 C2333.66 958.28 2333.92 956.62 2334.17 954.95 C2334.42 953.28 2334.67 951.62 2334.91 949.95 C2335.15 948.28 2335.38 946.62 2335.61 944.95 C2335.83 943.28 2336.06 941.62 2336.27 939.95 C2336.49 938.28 2336.69 936.62 2336.89 934.95 C2337.09 933.28 2337.29 931.62 2337.48 929.95 C2337.66 928.28 2337.84 926.62 2338.02 924.95 C2338.19 923.28 2338.36 921.62 2338.51 919.95 C2338.67 918.28 2338.82 916.62 2338.96 914.95 C2339.10 913.28 2339.24 911.62 2339.36 909.95 C2339.49 908.28 2339.61 906.62 2339.71 904.95 C2339.82 903.28 2339.92 901.62 2340.01 899.95 C2340.11 898.28 2340.19 896.62 2340.26 894.95 C2340.33 893.28 2340.40 891.62 2340.46 889.95 C2340.51 888.28 2340.56 886.62 2340.60 884.95 C2340.63 883.28 2340.67 881.62 2340.69 879.95 C2340.71 878.28 2340.73 876.62 2340.73 874.95 C2340.74 873.28 2340.74 871.62 2340.74 869.95 C2340.73 868.28 2340.72 866.62 2340.70 864.95 C2340.68 863.28 2340.65 861.62 2340.62 859.95 C2340.59 858.28 2340.55 856.62 2340.51 854.95 C2340.47 853.28 2340.42 851.62 2340.37 849.95 C2340.31 848.28 2340.25 846.62 2340.19 844.95 C2340.13 843.28 2340.06 841.62 2339.98 839.95 C2339.91 838.28 2339.83 836.62 2339.75 834.95 C2339.66 833.28 2339.58 831.62 2339.48 829.95 C2339.39 828.28 2339.29 826.62 2339.18 824.95 C2339.08 823.28 2338.97 821.62 2338.85 819.95 C2338.73 818.28 2338.61 816.62 2338.49 814.95 C2338.36 813.28 2338.23 811.62 2338.09 809.95 C2337.95 808.28 2337.81 806.62 2337.66 804.95 C2337.51 803.28 2337.36 801.62 2337.20 799.95 C2337.03 798.28 2336.87 796.62 2336.70 794.95 C2336.52 793.28 2336.35 791.62 2336.17 789.95 C2335.98 788.28 2335.79 786.62 2335.60 784.95 C2335.41 783.28 2335.21 781.62 2335.00 779.95 C2334.80 778.28 2334.58 776.62 2334.37 774.95 C2334.15 773.28 2333.93 771.62 2333.70 769.95 C2333.48 768.28 2333.24 766.62 2333.01 764.95 C2332.77 763.28 2332.52 761.62 2332.28 759.95 C2332.03 758.28 2331.77 756.62 2331.51 754.95 C2331.25 753.28 2330.99 751.62 2330.72 749.95 C2330.45 748.28 2330.17 746.62 2329.89 744.95 C2329.61 743.28 2329.33 741.62 2329.03 739.95 C2328.74 738.28 2328.45 736.62 2328.15 734.95 C2327.84 733.28 2327.54 731.62 2327.23 729.95 C2326.91 728.28 2326.60 726.62 2326.27 724.95 C2325.95 723.28 2325.63 721.62 2325.29 719.95 C2324.96 718.28 2324.62 716.62 2324.28 714.95 C2323.94 713.28 2323.59 711.62 2323.24 709.95 C2322.89 708.28 2322.53 706.62 2322.17 704.95 C2321.81 703.28 2321.45 701.62 2321.08 699.95 C2320.72 698.28 2320.34 696.62 2319.97 694.95 C2319.60 693.28 2319.22 691.62 2318.85 689.95 C2318.47 688.28 2318.09 686.62 2317.70 684.95 C2317.32 683.28 2316.94 681.62 2316.55 679.95 C2316.17 678.28 2315.78 676.62 2315.40 674.95 C2315.01 673.28 2314.62 671.62 2314.24 669.95 C2313.85 668.28 2313.46 666.62 2313.08 664.95 C2312.69 663.28 2312.30 661.62 2311.92 659.95 C2311.53 658.28 2311.15 656.62 2310.77 654.95 C2310.39 653.28 2310.00 651.62 2309.63 649.95 C2309.25 648.28 2308.87 646.62 2308.50 644.95 C2308.13 643.28 2307.75 641.62 2307.39 639.95 C2307.02 638.28 2306.65 636.62 2306.29 634.95 C2305.93 633.28 2305.58 631.62 2305.22 629.95 C2304.87 628.28 2304.52 626.62 2304.18 624.95 C2303.84 623.28 2303.50 621.62 2303.16 619.95 C2302.83 618.28 2302.50 616.62 2302.18 614.95 C2301.86 613.28 2301.55 611.62 2301.24 609.95 C2300.93 608.28 2300.62 606.62 2300.33 604.95 C2300.03 603.28 2299.74 601.62 2299.46 599.95 C2299.17 598.28 2298.90 596.62 2298.63 594.95 C2298.36 593.28 2298.09 591.62 2297.83 589.95 C2297.58 588.28 2297.32 586.62 2297.08 584.95 C2296.84 583.28 2296.60 581.62 2296.36 579.95 C2296.13 578.28 2295.91 576.62 2295.69 574.95 C2295.47 573.28 2295.26 571.62 2295.05 569.95 C2294.85 568.28 2294.65 566.62 2294.45 564.95 C2294.26 563.28 2294.08 561.62 2293.90 559.95 C2293.72 558.28 2293.54 556.62 2293.38 554.95 C2293.21 553.28 2293.05 551.62 2292.90 549.95 C2292.74 548.28 2292.60 546.62 2292.46 544.95 C2292.32 543.28 2292.18 541.62 2292.06 539.95 C2291.93 538.28 2291.81 536.62 2291.70 534.95 C2291.58 533.28 2291.47 531.62 2291.38 529.95 C2291.28 528.28 2291.18 526.62 2291.10 524.95 C2291.02 523.28 2290.94 520.78 2290.90 519.95Z"/>
<path fill="#436EEE" d="M2419.19 517.35 C2419.09 518.18 2418.81 520.68 2418.58 522.35 C2418.36 524.02 2418.08 525.68 2417.83 527.35 C2417.58 529.02 2417.33 530.68 2417.08 532.35 C2416.83 534.02 2416.59 535.68 2416.35 537.35 C2416.11 539.02 2415.87 540.68 2415.64 542.35 C2415.40 544.02 2415.17 545.68 2414.94 547.35 C2414.71 549.02 2414.48 550.68 2414.26 552.35 C2414.03 554.02 2413.80 555.68 2413.58 557.35 C2413.36 559.02 2413.14 560.68 2412.91 562.35 C2412.69 564.02 2412.47 565.68 2412.25 567.35 C2412.03 569.02 2411.81 570.68 2411.59 572.35 C2411.37 574.02 2411.15 575.68 2410.93 577.35 C2410.71 579.02 2410.48 580.68 2410.26 582.35 C2410.04 584.02 2409.81 585.68 2409.59 587.35 C2409.36 589.02 2409.14 590.68 2408.91 592.35 C2408.68 594.02 2408.45 595.68 2408.21 597.35 C2407.98 599.02 2407.74 600.68 2407.50 602.35 C2407.27 604.02 2407.02 605.68 2406.78 607.35 C2406.53 609.02 2406.28 610.68 2406.03 612.35 C2405.78 614.02 2405.52 615.68 2405.26 617.35 C2405.00 619.02 2404.74 620.68 2404.47 622.35 C2404.20 624.02 2403.92 625.68 2403.64 627.35 C2403.36 629.02 2403.08 630.68 2402.79 632.35 C2402.49 634.02 2402.20 635.68 2401.90 637.35 C2401.59 639.02 2401.29 640.68 2400.97 642.35 C2400.65 644.02 2400.33 645.68 2400.00 647.35 C2399.68 649.02 2399.34 650.68 2399.00 652.35 C2398.65 654.02 2398.30 655.68 2397.94 657.35 C2397.58 659.02 2397.22 660.68 2396.84 662.35 C2396.47 664.02 2396.08 665.68 2395.69 667.35 C2395.30 669.02 2394.90 670.68 2394.49 672.35 C2394.08 674.02 2393.66 675.68 2393.23 677.35 C2392.80 679.02 2392.36 680.68 2391.92 682.35 C2391.47 684.02 2391.02 685.68 2390.57 687.35 C2390.11 689.02 2389.65 690.68 2389.18 692.35 C2388.71 694.02 2388.24 695.68 2387.77 697.35 C2387.30 699.02 2386.82 700.68 2386.34 702.35 C2385.86 704.02 2385.38 705.68 2384.90 707.35 C2384.42 709.02 2383.94 710.68 2383.47 712.35 C2382.99 714.02 2382.51 715.68 2382.04 717.35 C2381.56 719.02 2381.09 720.68 2380.63 722.35 C2380.16 724.02 2379.70 725.68 2379.24 727.35 C2378.78 729.02 2378.33 730.68 2377.89 732.35 C2377.45 734.02 2377.01 735.68 2376.58 737.35 C2376.15 739.02 2375.73 740.68 2375.33 742.35 C2374.92 744.02 2374.52 745.68 2374.13 747.35 C2373.74 749.02 2373.37 750.68 2373.00 752.35 C2372.64 754.02 2372.29 755.68 2371.96 757.35 C2371.62 759.02 2371.30 760.68 2371.00 762.35 C2370.69 764.02 2370.40 765.68 2370.12 767.35 C2369.85 769.02 2369.59 770.68 2369.34 772.35 C2369.09 774.02 2368.86 775.68 2368.64 777.35 C2368.42 779.02 2368.22 780.68 2368.03 782.35 C2367.84 784.02 2367.66 785.68 2367.50 787.35 C2367.33 789.02 2367.18 790.68 2367.04 792.35 C2366.90 794.02 2366.78 795.68 2366.66 797.35 C2366.55 799.02 2366.45 800.68 2366.35 802.35 C2366.26 804.02 2366.18 805.68 2366.12 807.35 C2366.05 809.02 2365.99 810.68 2365.95 812.35 C2365.90 814.02 2365.86 815.68 2365.84 817.35 C2365.81 819.02 2365.80 820.68 2365.79 822.35 C2365.79 824.02 2365.79 825.68 2365.81 827.35 C2365.82 829.02 2365.84 830.68 2365.88 832.35 C2365.91 834.02 2365.95 835.68 2366.00 837.35 C2366.05 839.02 2366.11 840.68 2366.17 842.35 C2366.24 844.02 2366.31 845.68 2366.39 847.35 C2366.47 849.02 2366.56 850.68 2366.66 852.35 C2366.75 854.02 2366.85 855.68 2366.96 857.35 C2367.07 859.02 2367.19 860.68 2367.31 862.35 C2367.44 864.02 2367.57 865.68 2367.70 867.35 C2367.84 869.02 2367.98 870.68 2368.13 872.35 C2368.28 874.02 2368.43 875.68 2368.59 877.35 C2368.75 879.02 2368.92 880.68 2369.09 882.35 C2369.27 884.02 2369.44 885.68 2369.63 887.35 C2369.81 889.02 2370.00 890.68 2370.19 892.35 C2370.39 894.02 2370.59 895.68 2370.79 897.35 C2371.00 899.02 2371.21 900.68 2371.42 902.35 C2371.63 904.02 2371.85 905.68 2372.08 907.35 C2372.30 909.02 2372.53 910.68 2372.76 912.35 C2372.99 914.02 2373.23 915.68 2373.47 917.35 C2373.71 919.02 2373.95 920.68 2374.20 922.35 C2374.45 924.02 2374.70 925.68 2374.96 927.35 C2375.22 929.02 2375.48 930.68 2375.74 932.35 C2376.00 934.02 2376.27 935.68 2376.54 937.35 C2376.81 939.02 2377.08 940.68 2377.36 942.35 C2377.63 944.02 2377.91 945.68 2378.19 947.35 C2378.47 949.02 2378.76 950.68 2379.05 952.35 C2379.33 954.02 2379.62 955.68 2379.91 957.35 C2380.20 959.02 2380.50 960.68 2380.79 962.35 C2381.09 964.02 2381.39 965.68 2381.69 967.35 C2381.99 969.02 2382.29 970.68 2382.59 972.35 C2382.89 974.02 2383.20 975.68 2383.50 977.35 C2383.81 979.02 2384.12 980.68 2384.42 982.35 C2384.73 984.02 2385.04 985.68 2385.35 987.35 C2385.66 989.02 2385.97 990.68 2386.28 992.35 C2386.60 994.02 2386.91 995.68 2387.22 997.35 C2387.53 999.02 2387.85 1000.68 2388.16 1002.35 C2388.47 1004.02 2388.79 1005.68 2389.10 1007.35 C2389.42 1009.02 2389.73 1010.68 2390.04 1012.35 C2390.36 1014.02 2390.67 1015.68 2390.98 1017.35 C2391.29 1019.02 2391.61 1020.68 2391.92 1022.35 C2392.23 1024.02 2392.54 1025.68 2392.85 1027.35 C2393.16 1029.02 2393.47 1030.68 2393.77 1032.35 C2394.08 1034.02 2394.38 1035.68 2394.68 1037.35 C2394.98 1039.02 2395.28 1040.68 2395.57 1042.35 C2395.87 1044.02 2396.16 1045.68 2396.44 1047.35 C2396.73 1049.02 2397.01 1050.68 2397.28 1052.35 C2397.55 1054.02 2397.82 1055.68 2398.09 1057.35 C2398.35 1059.02 2398.60 1060.68 2398.85 1062.35 C2399.10 1064.02 2399.34 1065.68 2399.57 1067.35 C2399.80 1069.02 2400.02 1070.68 2400.24 1072.35 C2400.45 1074.02 2400.66 1075.68 2400.85 1077.35 C2401.04 1079.02 2401.23 1080.68 2401.40 1082.35 C2401.57 1084.02 2401.74 1085.68 2401.89 1087.35 C2402.04 1089.02 2402.17 1090.68 2402.30 1092.35 C2402.42 1094.02 2402.54 1095.68 2402.64 1097.35 C2402.74 1099.02 2402.82 1100.68 2402.89 1102.35 C2402.96 1104.02 2403.02 1105.68 2403.06 1107.35 C2403.10 1109.02 2403.12 1110.68 2403.13 1112.35 C2403.14 1114.02 2403.13 1115.68 2403.12 1117.35 C2403.10 1119.02 2403.06 1120.68 2403.01 1122.35 C2402.97 1124.02 2402.91 1125.68 2402.85 1127.35 C2402.78 1129.02 2402.71 1130.68 2402.62 1132.35 C2402.54 1134.02 2402.45 1135.68 2402.36 1137.35 C2402.27 1139.02 2402.17 1140.68 2402.07 1142.35 C2401.97 1144.02 2401.87 1145.68 2401.77 1147.35 C2401.67 1149.02 2401.56 1150.68 2401.47 1152.35 C2401.37 1154.02 2401.26 1155.74 2401.18 1157.35 C2401.10 1158.96 2401.04 1161.22 2401.01 1162.00 L2452.35 1162.00 C2452.32 1161.22 2452.26 1158.96 2452.18 1157.35 C2452.10 1155.74 2451.99 1154.02 2451.89 1152.35 C2451.80 1150.68 2451.69 1149.02 2451.59 1147.35 C2451.49 1145.68 2451.39 1144.02 2451.29 1142.35 C2451.19 1140.68 2451.09 1139.02 2451.00 1137.35 C2450.91 1135.68 2450.82 1134.02 2450.74 1132.35 C2450.65 1130.68 2450.58 1129.02 2450.51 1127.35 C2450.45 1125.68 2450.39 1124.02 2450.35 1122.35 C2450.30 1120.68 2450.26 1119.02 2450.24 1117.35 C2450.23 1115.68 2450.22 1114.02 2450.23 1112.35 C2450.24 1110.68 2450.26 1109.02 2450.30 1107.35 C2450.34 1105.68 2450.40 1104.02 2450.47 1102.35 C2450.54 1100.68 2450.62 1099.02 2450.72 1097.35 C2450.82 1095.68 2450.94 1094.02 2451.06 1092.35 C2451.19 1090.68 2451.32 1089.02 2451.47 1087.35 C2451.62 1085.68 2451.79 1084.02 2451.96 1082.35 C2452.13 1080.68 2452.32 1079.02 2452.51 1077.35 C2452.70 1075.68 2452.91 1074.02 2453.12 1072.35 C2453.34 1070.68 2453.56 1069.02 2453.79 1067.35 C2454.02 1065.68 2454.26 1064.02 2454.51 1062.35 C2454.76 1060.68 2455.01 1059.02 2455.27 1057.35 C2455.54 1055.68 2455.81 1054.02 2456.08 1052.35 C2456.35 1050.68 2456.63 1049.02 2456.92 1047.35 C2457.20 1045.68 2457.49 1044.02 2457.79 1042.35 C2458.08 1040.68 2458.38 1039.02 2458.68 1037.35 C2458.98 1035.68 2459.28 1034.02 2459.59 1032.35 C2459.89 1030.68 2460.20 1029.02 2460.51 1027.35 C2460.82 1025.68 2461.13 1024.02 2461.44 1022.35 C2461.75 1020.68 2462.07 1019.02 2462.38 1017.35 C2462.69 1015.68 2463.00 1014.02 2463.32 1012.35 C2463.63 1010.68 2463.94 1009.02 2464.26 1007.35 C2464.57 1005.68 2464.89 1004.02 2465.20 1002.35 C2465.51 1000.68 2465.83 999.02 2466.14 997.35 C2466.45 995.68 2466.76 994.02 2467.08 992.35 C2467.39 990.68 2467.70 989.02 2468.01 987.35 C2468.32 985.68 2468.63 984.02 2468.94 982.35 C2469.24 980.68 2469.55 979.02 2469.86 977.35 C2470.16 975.68 2470.47 974.02 2470.77 972.35 C2471.07 970.68 2471.37 969.02 2471.67 967.35 C2471.97 965.68 2472.27 964.02 2472.57 962.35 C2472.86 960.68 2473.16 959.02 2473.45 957.35 C2473.74 955.68 2474.03 954.02 2474.31 952.35 C2474.60 950.68 2474.89 949.02 2475.17 947.35 C2475.45 945.68 2475.73 944.02 2476.00 942.35 C2476.28 940.68 2476.55 939.02 2476.82 937.35 C2477.09 935.68 2477.36 934.02 2477.62 932.35 C2477.88 930.68 2478.14 929.02 2478.40 927.35 C2478.66 925.68 2478.91 924.02 2479.16 922.35 C2479.41 920.68 2479.65 919.02 2479.89 917.35 C2480.13 915.68 2480.37 914.02 2480.60 912.35 C2480.83 910.68 2481.06 909.02 2481.28 907.35 C2481.51 905.68 2481.73 904.02 2481.94 902.35 C2482.15 900.68 2482.36 899.02 2482.57 897.35 C2482.77 895.68 2482.97 894.02 2483.17 892.35 C2483.36 890.68 2483.55 889.02 2483.73 887.35 C2483.92 885.68 2484.09 884.02 2484.27 882.35 C2484.44 880.68 2484.61 879.02 2484.77 877.35 C2484.93 875.68 2485.08 874.02 2485.23 872.35 C2485.38 870.68 2485.52 869.02 2485.66 867.35 C2485.79 865.68 2485.92 864.02 2486.05 862.35 C2486.17 860.68 2486.29 859.02 2486.40 857.35 C2486.51 855.68 2486.61 854.02 2486.70 852.35 C2486.80 850.68 2486.89 849.02 2486.97 847.35 C2487.05 845.68 2487.12 844.02 2487.19 842.35 C2487.25 840.68 2487.31 839.02 2487.36 837.35 C2487.41 835.68 2487.45 834.02 2487.48 832.35 C2487.52 830.68 2487.54 829.02 2487.55 827.35 C2487.57 825.68 2487.57 824.02 2487.57 822.35 C2487.56 820.68 2487.55 819.02 2487.52 817.35 C2487.50 815.68 2487.46 814.02 2487.41 812.35 C2487.37 810.68 2487.31 809.02 2487.24 807.35 C2487.18 805.68 2487.10 804.02 2487.01 802.35 C2486.91 800.68 2486.81 799.02 2486.70 797.35 C2486.58 795.68 2486.46 794.02 2486.32 792.35 C2486.18 790.68 2486.03 789.02 2485.86 787.35 C2485.70 785.68 2485.52 784.02 2485.33 782.35 C2485.14 780.68 2484.94 779.02 2484.72 777.35 C2484.50 775.68 2484.27 774.02 2484.02 772.35 C2483.77 770.68 2483.51 769.02 2483.24 767.35 C2482.96 765.68 2482.67 764.02 2482.36 762.35 C2482.06 760.68 2481.74 759.02 2481.40 757.35 C2481.07 755.68 2480.72 754.02 2480.36 752.35 C2479.99 750.68 2479.62 749.02 2479.23 747.35 C2478.84 745.68 2478.44 744.02 2478.03 742.35 C2477.63 740.68 2477.21 739.02 2476.78 737.35 C2476.35 735.68 2475.91 734.02 2475.47 732.35 C2475.03 730.68 2474.58 729.02 2474.12 727.35 C2473.66 725.68 2473.20 724.02 2472.73 722.35 C2472.27 720.68 2471.80 719.02 2471.32 717.35 C2470.85 715.68 2470.37 714.02 2469.89 712.35 C2469.42 710.68 2468.94 709.02 2468.46 707.35 C2467.98 705.68 2467.50 704.02 2467.02 702.35 C2466.54 700.68 2466.06 699.02 2465.59 697.35 C2465.12 695.68 2464.65 694.02 2464.18 692.35 C2463.71 690.68 2463.25 689.02 2462.79 687.35 C2462.34 685.68 2461.89 684.02 2461.44 682.35 C2461.00 680.68 2460.56 679.02 2460.13 677.35 C2459.70 675.68 2459.28 674.02 2458.87 672.35 C2458.46 670.68 2458.06 669.02 2457.67 667.35 C2457.28 665.68 2456.89 664.02 2456.52 662.35 C2456.14 660.68 2455.78 659.02 2455.42 657.35 C2455.06 655.68 2454.71 654.02 2454.36 652.35 C2454.02 650.68 2453.68 649.02 2453.36 647.35 C2453.03 645.68 2452.71 644.02 2452.39 642.35 C2452.07 640.68 2451.77 639.02 2451.46 637.35 C2451.16 635.68 2450.87 634.02 2450.57 632.35 C2450.28 630.68 2450.00 629.02 2449.72 627.35 C2449.44 625.68 2449.16 624.02 2448.89 622.35 C2448.62 620.68 2448.36 619.02 2448.10 617.35 C2447.84 615.68 2447.58 614.02 2447.33 612.35 C2447.08 610.68 2446.83 609.02 2446.58 607.35 C2446.34 605.68 2446.09 604.02 2445.86 602.35 C2445.62 600.68 2445.38 599.02 2445.15 597.35 C2444.91 595.68 2444.68 594.02 2444.45 592.35 C2444.22 590.68 2444.00 589.02 2443.77 587.35 C2443.55 585.68 2443.32 584.02 2443.10 582.35 C2442.88 580.68 2442.65 579.02 2442.43 577.35 C2442.21 575.68 2441.99 574.02 2441.77 572.35 C2441.55 570.68 2441.33 569.02 2441.11 567.35 C2440.89 565.68 2440.67 564.02 2440.45 562.35 C2440.22 560.68 2440.00 559.02 2439.78 557.35 C2439.56 555.68 2439.33 554.02 2439.10 552.35 C2438.88 550.68 2438.65 549.02 2438.42 547.35 C2438.19 545.68 2437.96 544.02 2437.72 542.35 C2437.49 540.68 2437.25 539.02 2437.01 537.35 C2436.77 535.68 2436.53 534.02 2436.28 532.35 C2436.03 530.68 2435.78 529.02 2435.53 527.35 C2435.28 525.68 2435.00 524.02 2434.78 522.35 C2434.55 520.68 2434.27 518.18 2434.17 517.35Z"/>
<path fill="#FF3030" d="M2533.91 557.85 C2533.73 558.68 2533.22 561.18 2532.81 562.85 C2532.41 564.52 2531.92 566.18 2531.47 567.85 C2531.02 569.52 2530.57 571.18 2530.13 572.85 C2529.69 574.52 2529.26 576.18 2528.84 577.85 C2528.42 579.52 2528.01 581.18 2527.61 582.85 C2527.20 584.52 2526.81 586.18 2526.41 587.85 C2526.02 589.52 2525.64 591.18 2525.25 592.85 C2524.87 594.52 2524.49 596.18 2524.12 597.85 C2523.74 599.52 2523.37 601.18 2522.99 602.85 C2522.62 604.52 2522.25 606.18 2521.87 607.85 C2521.50 609.52 2521.13 611.18 2520.75 612.85 C2520.38 614.52 2520.00 616.18 2519.62 617.85 C2519.24 619.52 2518.85 621.18 2518.46 622.85 C2518.07 624.52 2517.67 626.18 2517.27 627.85 C2516.87 629.52 2516.46 631.18 2516.04 632.85 C2515.63 634.52 2515.20 636.18 2514.78 637.85 C2514.35 639.52 2513.91 641.18 2513.47 642.85 C2513.03 644.52 2512.59 646.18 2512.14 647.85 C2511.69 649.52 2511.24 651.18 2510.78 652.85 C2510.33 654.52 2509.87 656.18 2509.41 657.85 C2508.95 659.52 2508.49 661.18 2508.03 662.85 C2507.56 664.52 2507.10 666.18 2506.64 667.85 C2506.18 669.52 2505.72 671.18 2505.26 672.85 C2504.80 674.52 2504.34 676.18 2503.88 677.85 C2503.43 679.52 2502.97 681.18 2502.53 682.85 C2502.08 684.52 2501.63 686.18 2501.19 687.85 C2500.75 689.52 2500.32 691.18 2499.89 692.85 C2499.46 694.52 2499.03 696.18 2498.62 697.85 C2498.20 699.52 2497.79 701.18 2497.39 702.85 C2496.99 704.52 2496.60 706.18 2496.22 707.85 C2495.83 709.52 2495.46 711.18 2495.10 712.85 C2494.73 714.52 2494.38 716.18 2494.04 717.85 C2493.70 719.52 2493.37 721.18 2493.05 722.85 C2492.73 724.52 2492.42 726.18 2492.13 727.85 C2491.83 729.52 2491.55 731.18 2491.28 732.85 C2491.01 734.52 2490.75 736.18 2490.50 737.85 C2490.25 739.52 2490.02 741.18 2489.80 742.85 C2489.57 744.52 2489.36 746.18 2489.16 747.85 C2488.97 749.52 2488.78 751.18 2488.61 752.85 C2488.44 754.52 2488.28 756.18 2488.13 757.85 C2487.99 759.52 2487.86 761.18 2487.74 762.85 C2487.62 764.52 2487.51 766.18 2487.42 767.85 C2487.32 769.52 2487.24 771.18 2487.18 772.85 C2487.11 774.52 2487.06 776.18 2487.02 777.85 C2486.98 779.52 2486.96 781.18 2486.95 782.85 C2486.93 784.52 2486.94 786.18 2486.95 787.85 C2486.97 789.52 2487.00 791.18 2487.05 792.85 C2487.10 794.52 2487.15 796.18 2487.23 797.85 C2487.30 799.52 2487.40 801.18 2487.50 802.85 C2487.60 804.52 2487.72 806.18 2487.85 807.85 C2487.98 809.52 2488.12 811.18 2488.27 812.85 C2488.41 814.52 2488.57 816.18 2488.73 817.85 C2488.89 819.52 2489.05 821.18 2489.21 822.85 C2489.37 824.52 2489.54 826.18 2489.69 827.85 C2489.85 829.52 2490.00 831.18 2490.14 832.85 C2490.29 834.52 2490.43 836.18 2490.55 837.85 C2490.67 839.52 2490.79 841.18 2490.88 842.85 C2490.98 844.52 2491.06 846.18 2491.12 847.85 C2491.18 849.52 2491.22 851.18 2491.24 852.85 C2491.26 854.52 2491.27 856.18 2491.25 857.85 C2491.23 859.52 2491.19 861.18 2491.13 862.85 C2491.08 864.52 2491.01 866.18 2490.93 867.85 C2490.85 869.52 2490.75 871.18 2490.65 872.85 C2490.55 874.52 2490.43 876.18 2490.31 877.85 C2490.19 879.52 2490.06 881.18 2489.93 882.85 C2489.81 884.52 2489.67 886.18 2489.54 887.85 C2489.41 889.52 2489.27 891.18 2489.14 892.85 C2489.01 894.52 2488.88 896.18 2488.76 897.85 C2488.64 899.52 2488.52 901.18 2488.42 902.85 C2488.31 904.52 2488.21 906.18 2488.12 907.85 C2488.04 909.52 2487.97 911.18 2487.91 912.85 C2487.86 914.52 2487.81 916.18 2487.79 917.85 C2487.77 919.52 2487.76 921.18 2487.78 922.85 C2487.80 924.52 2487.84 926.18 2487.90 927.85 C2487.97 929.52 2488.06 931.18 2488.18 932.85 C2488.30 934.52 2488.45 936.18 2488.62 937.85 C2488.80 939.52 2489.02 941.18 2489.25 942.85 C2489.49 944.52 2489.76 946.18 2490.05 947.85 C2490.35 949.52 2490.67 951.18 2491.02 952.85 C2491.36 954.52 2491.73 956.18 2492.12 957.85 C2492.51 959.52 2492.92 961.18 2493.35 962.85 C2493.78 964.52 2494.23 966.18 2494.69 967.85 C2495.15 969.52 2495.63 971.18 2496.12 972.85 C2496.61 974.52 2497.11 976.18 2497.62 977.85 C2498.14 979.52 2498.66 981.18 2499.19 982.85 C2499.72 984.52 2500.26 986.18 2500.80 987.85 C2501.34 989.52 2501.89 991.18 2502.44 992.85 C2502.98 994.52 2503.53 996.18 2504.08 997.85 C2504.63 999.52 2505.18 1001.18 2505.72 1002.85 C2506.27 1004.52 2506.81 1006.18 2507.34 1007.85 C2507.88 1009.52 2508.40 1011.18 2508.92 1012.85 C2509.44 1014.52 2509.95 1016.18 2510.45 1017.85 C2510.95 1019.52 2511.44 1021.18 2511.91 1022.85 C2512.38 1024.52 2512.84 1026.18 2513.28 1027.85 C2513.73 1029.52 2514.15 1031.18 2514.56 1032.85 C2514.98 1034.52 2515.37 1036.18 2515.75 1037.85 C2516.13 1039.52 2516.50 1041.18 2516.84 1042.85 C2517.19 1044.52 2517.52 1046.18 2517.84 1047.85 C2518.15 1049.52 2518.45 1051.18 2518.72 1052.85 C2519.00 1054.52 2519.27 1056.18 2519.51 1057.85 C2519.76 1059.52 2519.98 1061.18 2520.19 1062.85 C2520.40 1064.52 2520.59 1066.18 2520.77 1067.85 C2520.94 1069.52 2521.09 1071.18 2521.23 1072.85 C2521.36 1074.52 2521.48 1076.18 2521.58 1077.85 C2521.67 1079.52 2521.75 1081.18 2521.81 1082.85 C2521.87 1084.52 2521.91 1086.18 2521.93 1087.85 C2521.95 1089.52 2521.94 1091.18 2521.92 1092.85 C2521.90 1094.52 2521.86 1096.18 2521.80 1097.85 C2521.74 1099.52 2521.65 1101.18 2521.55 1102.85 C2521.44 1104.52 2521.32 1106.18 2521.18 1107.85 C2521.03 1109.52 2520.86 1111.18 2520.67 1112.85 C2520.48 1114.52 2520.28 1116.18 2520.06 1117.85 C2519.84 1119.52 2519.60 1121.18 2519.36 1122.85 C2519.12 1124.52 2518.87 1126.18 2518.62 1127.85 C2518.38 1129.52 2518.13 1131.18 2517.89 1132.85 C2517.65 1134.52 2517.41 1136.18 2517.20 1137.85 C2516.99 1139.52 2516.79 1141.18 2516.61 1142.85 C2516.44 1144.52 2516.27 1146.18 2516.15 1147.85 C2516.03 1149.52 2515.94 1151.18 2515.88 1152.85 C2515.83 1154.52 2515.82 1156.32 2515.82 1157.85 C2515.82 1159.38 2515.88 1161.31 2515.90 1162.00 L2578.98 1162.00 C2579.00 1161.31 2579.06 1159.38 2579.06 1157.85 C2579.06 1156.32 2579.05 1154.52 2579.00 1152.85 C2578.94 1151.18 2578.85 1149.52 2578.73 1147.85 C2578.61 1146.18 2578.44 1144.52 2578.27 1142.85 C2578.09 1141.18 2577.89 1139.52 2577.68 1137.85 C2577.47 1136.18 2577.23 1134.52 2576.99 1132.85 C2576.75 1131.18 2576.50 1129.52 2576.26 1127.85 C2576.01 1126.18 2575.76 1124.52 2575.52 1122.85 C2575.28 1121.18 2575.04 1119.52 2574.82 1117.85 C2574.60 1116.18 2574.40 1114.52 2574.21 1112.85 C2574.02 1111.18 2573.85 1109.52 2573.70 1107.85 C2573.56 1106.18 2573.44 1104.52 2573.33 1102.85 C2573.23 1101.18 2573.14 1099.52 2573.08 1097.85 C2573.02 1096.18 2572.98 1094.52 2572.96 1092.85 C2572.94 1091.18 2572.93 1089.52 2572.95 1087.85 C2572.97 1086.18 2573.01 1084.52 2573.07 1082.85 C2573.13 1081.18 2573.21 1079.52 2573.30 1077.85 C2573.40 1076.18 2573.52 1074.52 2573.65 1072.85 C2573.79 1071.18 2573.94 1069.52 2574.11 1067.85 C2574.29 1066.18 2574.48 1064.52 2574.69 1062.85 C2574.90 1061.18 2575.12 1059.52 2575.37 1057.85 C2575.61 1056.18 2575.88 1054.52 2576.16 1052.85 C2576.43 1051.18 2576.73 1049.52 2577.04 1047.85 C2577.36 1046.18 2577.69 1044.52 2578.04 1042.85 C2578.38 1041.18 2578.75 1039.52 2579.13 1037.85 C2579.51 1036.18 2579.90 1034.52 2580.32 1032.85 C2580.73 1031.18 2581.15 1029.52 2581.60 1027.85 C2582.04 1026.18 2582.50 1024.52 2582.97 1022.85 C2583.44 1021.18 2583.93 1019.52 2584.43 1017.85 C2584.93 1016.18 2585.44 1014.52 2585.96 1012.85 C2586.48 1011.18 2587.00 1009.52 2587.54 1007.85 C2588.07 1006.18 2588.61 1004.52 2589.16 1002.85 C2589.70 1001.18 2590.25 999.52 2590.80 997.85 C2591.35 996.18 2591.90 994.52 2592.44 992.85 C2592.99 991.18 2593.54 989.52 2594.08 987.85 C2594.62 986.18 2595.16 984.52 2595.69 982.85 C2596.22 981.18 2596.74 979.52 2597.26 977.85 C2597.77 976.18 2598.27 974.52 2598.76 972.85 C2599.25 971.18 2599.73 969.52 2600.19 967.85 C2600.65 966.18 2601.10 964.52 2601.53 962.85 C2601.96 961.18 2602.37 959.52 2602.76 957.85 C2603.15 956.18 2603.52 954.52 2603.86 952.85 C2604.21 951.18 2604.53 949.52 2604.83 947.85 C2605.12 946.18 2605.39 944.52 2605.63 942.85 C2605.86 941.18 2606.08 939.52 2606.26 937.85 C2606.43 936.18 2606.58 934.52 2606.70 932.85 C2606.82 931.18 2606.91 929.52 2606.98 927.85 C2607.04 926.18 2607.08 924.52 2607.10 922.85 C2607.12 921.18 2607.11 919.52 2607.09 917.85 C2607.07 916.18 2607.02 914.52 2606.97 912.85 C2606.91 911.18 2606.84 909.52 2606.76 907.85 C2606.67 906.18 2606.57 904.52 2606.46 902.85 C2606.36 901.18 2606.24 899.52 2606.12 897.85 C2606.00 896.18 2605.87 894.52 2605.74 892.85 C2605.61 891.18 2605.47 889.52 2605.34 887.85 C2605.21 886.18 2605.07 884.52 2604.95 882.85 C2604.82 881.18 2604.69 879.52 2604.57 877.85 C2604.45 876.18 2604.33 874.52 2604.23 872.85 C2604.13 871.18 2604.03 869.52 2603.95 867.85 C2603.87 866.18 2603.80 864.52 2603.75 862.85 C2603.69 861.18 2603.65 859.52 2603.63 857.85 C2603.61 856.18 2603.62 854.52 2603.64 852.85 C2603.66 851.18 2603.70 849.52 2603.76 847.85 C2603.82 846.18 2603.90 844.52 2604.00 842.85 C2604.09 841.18 2604.21 839.52 2604.33 837.85 C2604.45 836.18 2604.59 834.52 2604.74 832.85 C2604.88 831.18 2605.03 829.52 2605.19 827.85 C2605.34 826.18 2605.51 824.52 2605.67 822.85 C2605.83 821.18 2605.99 819.52 2606.15 817.85 C2606.31 816.18 2606.47 814.52 2606.61 812.85 C2606.76 811.18 2606.90 809.52 2607.03 807.85 C2607.16 806.18 2607.28 804.52 2607.38 802.85 C2607.48 801.18 2607.58 799.52 2607.65 797.85 C2607.73 796.18 2607.78 794.52 2607.83 792.85 C2607.88 791.18 2607.91 789.52 2607.93 787.85 C2607.94 786.18 2607.95 784.52 2607.93 782.85 C2607.92 781.18 2607.90 779.52 2607.86 777.85 C2607.82 776.18 2607.77 774.52 2607.70 772.85 C2607.64 771.18 2607.56 769.52 2607.46 767.85 C2607.37 766.18 2607.26 764.52 2607.14 762.85 C2607.02 761.18 2606.89 759.52 2606.75 757.85 C2606.60 756.18 2606.44 754.52 2606.27 752.85 C2606.10 751.18 2605.91 749.52 2605.72 747.85 C2605.52 746.18 2605.31 744.52 2605.08 742.85 C2604.86 741.18 2604.63 739.52 2604.38 737.85 C2604.13 736.18 2603.87 734.52 2603.60 732.85 C2603.33 731.18 2603.05 729.52 2602.75 727.85 C2602.46 726.18 2602.15 724.52 2601.83 722.85 C2601.51 721.18 2601.18 719.52 2600.84 717.85 C2600.50 716.18 2600.15 714.52 2599.78 712.85 C2599.42 711.18 2599.05 709.52 2598.66 707.85 C2598.28 706.18 2597.89 704.52 2597.49 702.85 C2597.09 701.18 2596.68 699.52 2596.26 697.85 C2595.85 696.18 2595.42 694.52 2594.99 692.85 C2594.56 691.18 2594.13 689.52 2593.69 687.85 C2593.25 686.18 2592.80 684.52 2592.35 682.85 C2591.91 681.18 2591.45 679.52 2591.00 677.85 C2590.54 676.18 2590.08 674.52 2589.62 672.85 C2589.16 671.18 2588.70 669.52 2588.24 667.85 C2587.78 666.18 2587.32 664.52 2586.85 662.85 C2586.39 661.18 2585.93 659.52 2585.47 657.85 C2585.01 656.18 2584.55 654.52 2584.10 652.85 C2583.64 651.18 2583.19 649.52 2582.74 647.85 C2582.29 646.18 2581.85 644.52 2581.41 642.85 C2580.97 641.18 2580.53 639.52 2580.10 637.85 C2579.68 636.18 2579.25 634.52 2578.84 632.85 C2578.42 631.18 2578.01 629.52 2577.61 627.85 C2577.21 626.18 2576.81 624.52 2576.42 622.85 C2576.03 621.18 2575.64 619.52 2575.26 617.85 C2574.88 616.18 2574.50 614.52 2574.13 612.85 C2573.75 611.18 2573.38 609.52 2573.01 607.85 C2572.63 606.18 2572.26 604.52 2571.89 602.85 C2571.51 601.18 2571.14 599.52 2570.76 597.85 C2570.39 596.18 2570.01 594.52 2569.63 592.85 C2569.24 591.18 2568.86 589.52 2568.47 587.85 C2568.07 586.18 2567.68 584.52 2567.27 582.85 C2566.87 581.18 2566.46 579.52 2566.04 577.85 C2565.62 576.18 2565.19 574.52 2564.75 572.85 C2564.31 571.18 2563.86 569.52 2563.41 567.85 C2562.96 566.18 2562.47 564.52 2562.07 562.85 C2561.66 561.18 2561.15 558.68 2560.97 557.85Z"/>
</g>
<g stroke="#000" stroke-width="4.4" fill="none">
<line x1="179.3" y1="140.9" x2="179.3" y2="1212.7"/>
<line x1="177.1" y1="1210.5" x2="2650" y2="1210.5"/>
<line x1="165" y1="1162.0" x2="179.3" y2="1162.0"/>
<line x1="165" y1="806.2" x2="179.3" y2="806.2"/>
<line x1="165" y1="450.2" x2="179.3" y2="450.2"/>
<line x1="340.1" y1="1210.5" x2="340.1" y2="1225"/>
<line x1="608.5" y1="1210.5" x2="608.5" y2="1225"/>
<line x1="876.8" y1="1210.5" x2="876.8" y2="1225"/>
<line x1="1145.2" y1="1210.5" x2="1145.2" y2="1225"/>
<line x1="1413.6" y1="1210.5" x2="1413.6" y2="1225"/>
<line x1="1681.9" y1="1210.5" x2="1681.9" y2="1225"/>
<line x1="1950.3" y1="1210.5" x2="1950.3" y2="1225"/>
<line x1="2218.7" y1="1210.5" x2="2218.7" y2="1225"/>
<line x1="2487.1" y1="1210.5" x2="2487.1" y2="1225"/>
</g>
<text x="149.5" y="1180.2" font-family="Liberation Sans, sans-serif" font-size="51.0" text-anchor="end">0</text>
<text x="149.5" y="824.4" font-family="Liberation Sans, sans-serif" font-size="51.0" text-anchor="end">1</text>
<text x="149.5" y="468.4" font-family="Liberation Sans, sans-serif" font-size="51.0" text-anchor="end">2</text>
<text transform="translate(366.10 1262.50) rotate(-45) scale(1.0300 1)" x="-367.62 -340.02 -309.31 -292.56 -257.50 -209.25 -179.04 -148.76 -117.93 -104.44 -90.95 -78.02 -47.37 -27.36" y="0" font-family="Liberation Sans, sans-serif" font-size="52.00">Lef1+Papillary</text>
<text transform="translate(634.47 1262.50) rotate(-45) scale(1.0300 1)" x="-392.63 -354.22 -323.40 -292.56 -257.50 -209.25 -179.04 -148.76 -117.93 -104.44 -90.95 -78.02 -47.37 -27.36" y="0" font-family="Liberation Sans, sans-serif" font-size="52.00">Dpp4+Papillary</text>
<text transform="translate(902.84 1262.50) rotate(-45) scale(1.0300 1)" x="-390.14 -367.05 -336.77 -305.94 -292.50 -257.50 -209.25 -179.04 -148.76 -117.93 -104.44 -90.95 -78.02 -47.37 -27.36" y="0" font-family="Liberation Sans, sans-serif" font-size="52.00">Tagln+Papillary</text>
<text transform="translate(1171.21 1262.50) rotate(-45) scale(1.0300 1)" x="-542.74 -527.44 -496.67 -465.88 -435.60 -401.12 -350.25 -312.31 -281.60 -261.83 -216.11 -185.81 -160.57 -130.36 -100.08 -69.24 -55.75 -42.27 -29.33" y="0" font-family="Liberation Sans, sans-serif" font-size="52.00">Inhba+DermalPapilla</text>
<text transform="translate(1439.58 1262.50) rotate(-45) scale(1.0300 1)" x="-539.70 -506.26 -479.50 -449.24 -414.25 -363.38 -325.44 -294.73 -274.96 -229.24 -198.94 -172.93 -139.26 -108.94 -79.13 -47.51 -29.84" y="0" font-family="Liberation Sans, sans-serif" font-size="52.00">Acan+DermalSheath</text>
<text transform="translate(1707.95 1262.50) rotate(-45) scale(1.0300 1)" x="-463.02 -419.36 -391.34 -377.84 -346.95 -311.90 -262.87 -235.59 -222.12 -190.93 -172.97 -142.72 -111.88 -98.95 -69.97 -42.03 -25.65" y="0" font-family="Liberation Sans, sans-serif" font-size="52.00">Mki67+Fibroblasts</text>
<text transform="translate(1976.32 1262.50) rotate(-45) scale(1.0300 1)" x="-380.64 -342.20 -328.63 -300.59 -265.53 -216.49 -182.56 -150.88 -133.17 -120.30 -93.04 -62.22 -49.29 -18.64" y="0" font-family="Liberation Sans, sans-serif" font-size="52.00">Dlk1+Reticular</text>
<text transform="translate(2244.69 1262.50) rotate(-45) scale(1.0300 1)" x="-564.16 -538.35 -508.07 -477.26 -446.41 -411.36 -363.11 -330.66 -312.62 -283.13 -267.51 -233.48 -202.64 -189.17 -158.92 -129.26 -101.55 -71.90 -54.68 -25.65" y="0" font-family="Liberation Sans, sans-serif" font-size="52.00">Fabp4+Pre-Adipocytes</text>
<text transform="translate(2513.06 1262.50) rotate(-45) scale(1.0300 1)" x="-337.32 -304.37 -291.44 -261.76 -234.44 -199.38 -150.35 -124.55 -95.57 -69.58 -42.27 -29.33" y="0" font-family="Liberation Sans, sans-serif" font-size="52.00">Plac8+Fascia</text>
<text transform="translate(93.90 675.90) rotate(-90) scale(1.0300 1)" x="-239.74 -200.04 -167.01 -130.64 -109.57 -75.70 -46.19 -15.17 -0.08 35.19 86.92 119.12 155.00 187.48 222.87" y="0" font-family="Liberation Sans, sans-serif" font-size="60.50">ExpressionLevel</text>
<text transform="translate(1412.70 100.00) scale(1.0600 1)" x="-164.09 -112.76 -82.51 -37.61 8.11 50.82 78.68 122.45" y="0" font-family="Liberation Sans, sans-serif" font-size="69.00" font-weight="bold" stroke="#000" stroke-width="1.13">Arhgef12</text>
</svg></body></html>
